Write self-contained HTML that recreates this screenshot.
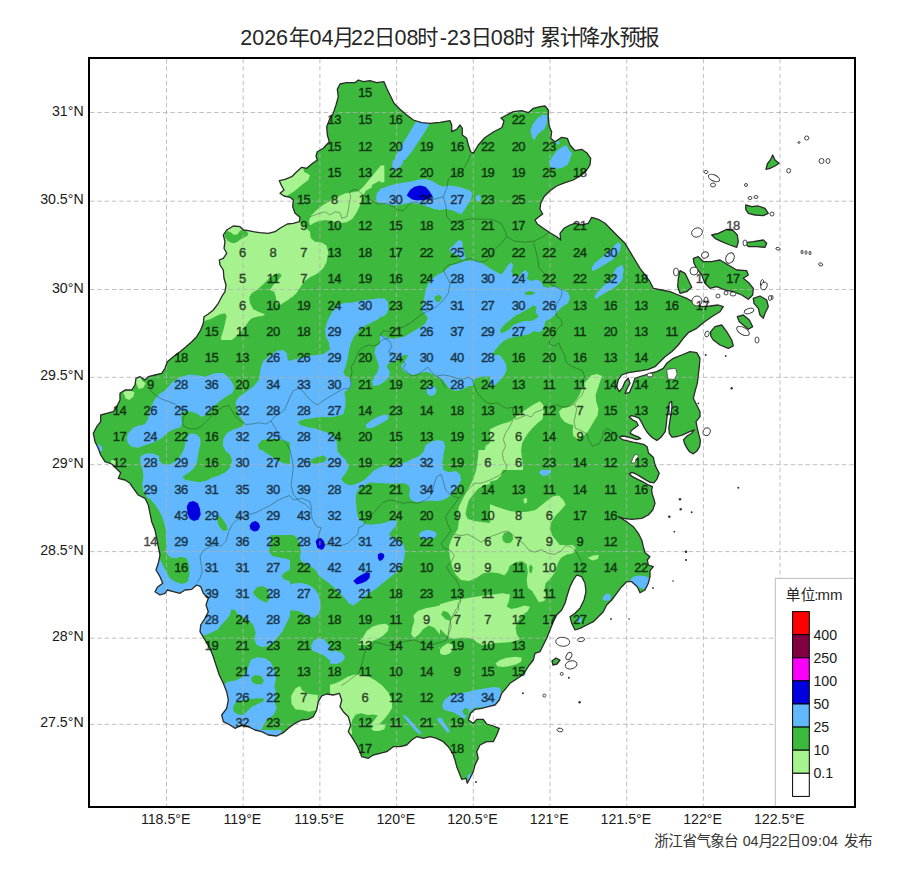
<!DOCTYPE html><html><head><meta charset="utf-8"><title>map</title><style>
html,body{margin:0;padding:0;background:#fff}body{width:900px;height:877px;overflow:hidden;font-family:"Liberation Sans",sans-serif}svg{display:block}text{font-family:"Liberation Sans",sans-serif}
.n{font-size:13.0px;fill:#000;stroke:#000;stroke-width:0.4px;letter-spacing:-0.6px;text-anchor:middle}
.t{font-size:14.2px;fill:#1a1a1a}
text.c{font-family:"Liberation Sans","Noto Sans CJK SC",sans-serif}
</style></head><body>
<svg width="900" height="877" viewBox="0 0 900 877">
<rect width="900" height="877" fill="#fff"/>
<defs><clipPath id="land"><path d="M337.3 89.3 L340.0 84.0 L346.7 82.7 L355.0 82.7 L358.3 80.0 L363.3 81.7 L370.0 80.7 L376.7 82.7 L384.0 81.7 L386.7 88.3 L390.0 95.0 L394.0 103.3 L400.0 109.3 L406.7 115.0 L413.3 120.0 L421.7 122.7 L430.0 123.3 L440.0 122.3 L450.0 120.7 L451.7 125.0 L451.7 131.7 L456.7 129.3 L460.0 125.0 L462.3 128.3 L462.3 135.0 L466.7 138.3 L468.3 145.0 L470.7 151.7 L473.3 153.3 L478.3 145.0 L485.0 137.5 L493.3 132.0 L502.0 127.5 L504.0 121.0 L501.0 118.0 L506.7 115.0 L513.3 111.7 L521.7 110.7 L528.3 112.7 L533.3 108.3 L540.0 106.7 L545.0 106.0 L548.3 110.0 L548.3 118.3 L549.3 126.7 L551.7 131.7 L550.7 138.3 L555.0 141.7 L561.7 137.3 L567.3 138.3 L570.0 145.0 L575.0 150.7 L581.7 149.3 L586.7 152.7 L590.7 158.3 L590.0 165.0 L586.7 170.0 L581.7 175.0 L573.3 180.0 L565.0 182.7 L556.7 186.0 L550.0 190.7 L544.0 196.7 L540.7 203.3 L540.0 209.3 L542.7 214.0 L538.3 217.3 L535.0 220.0 L537.3 224.0 L543.3 228.3 L550.0 232.7 L556.7 236.7 L560.7 240.0 L560.0 233.3 L564.0 228.3 L570.0 225.0 L575.0 223.3 L581.7 225.0 L588.3 223.3 L591.7 217.3 L598.3 219.3 L605.0 223.3 L611.7 230.0 L618.3 236.7 L625.0 243.3 L630.0 251.7 L635.0 260.0 L640.0 268.3 L645.0 275.0 L650.0 281.7 L653.3 288.3 L661.7 290.0 L670.0 291.7 L678.3 295.0 L686.7 298.3 L695.0 303.3 L701.7 306.7 L710.0 306.0 L718.3 305.0 L723.3 306.7 L720.0 311.7 L711.7 316.7 L703.3 322.7 L696.7 328.3 L688.3 332.7 L683.3 338.3 L678.3 345.0 L671.7 351.7 L665.0 356.7 L660.0 361.7 L655.0 366.7 L648.3 369.3 L641.7 370.7 L635.0 371.7 L628.3 372.7 L621.7 375.0 L618.3 380.0 L616.7 386.7 L619.3 391.7 L622.7 387.3 L625.0 381.7 L628.3 378.3 L630.0 383.3 L626.7 389.3 L625.0 393.3 L629.3 392.7 L632.7 385.0 L635.0 378.3 L641.7 376.0 L648.3 374.0 L656.7 371.7 L663.3 368.3 L666.7 363.3 L673.3 358.3 L681.7 355.0 L690.0 351.7 L696.7 352.7 L700.0 358.3 L699.3 366.7 L698.3 375.0 L697.3 383.3 L695.0 391.7 L693.3 398.3 L696.7 405.0 L700.0 411.7 L700.0 416.7 L696.0 421.7 L697.3 428.3 L698.7 434.2 L700.4 440.4 L699.6 446.7 L696.9 451.1 L693.3 453.8 L689.8 452.0 L687.1 448.4 L684.4 443.1 L683.6 439.6 L687.1 436.0 L691.6 433.3 L694.2 429.8 L688.0 432.4 L682.7 434.8 L677.3 436.5 L672.0 437.2 L669.3 433.3 L668.8 428.0 L669.9 420.9 L671.1 413.8 L672.0 406.7 L671.6 401.3 L669.3 403.1 L668.1 410.2 L667.0 417.3 L666.3 424.4 L665.2 431.6 L661.3 436.9 L656.9 440.4 L652.4 437.8 L648.0 433.3 L644.4 428.0 L641.8 422.7 L639.1 418.2 L634.7 416.4 L631.1 415.6 L629.3 417.0 L632.9 420.0 L636.4 421.8 L638.2 425.3 L634.7 428.0 L631.1 430.7 L630.2 433.3 L633.8 435.1 L638.2 436.9 L640.9 438.7 L636.4 439.6 L631.1 437.8 L625.8 436.5 L621.3 436.0 L619.6 437.2 L622.2 439.6 L627.6 440.8 L632.9 442.2 L638.2 443.1 L643.6 444.4 L647.1 446.7 L648.5 452.9 L653.3 457.3 L655.1 465.3 L659.2 473.3 L656.9 479.2 L653.9 482.8 L649.8 482.2 L645.3 479.6 L640.9 476.9 L636.4 474.2 L632.0 472.4 L629.3 473.9 L632.9 476.9 L638.2 479.6 L643.6 482.2 L648.0 484.9 L652.4 486.7 L651.6 490.2 L652.4 494.7 L654.2 500.0 L655.0 503.3 L652.7 510.0 L648.3 515.0 L641.7 518.3 L631.7 519.3 L623.3 518.3 L618.3 516.7 L626.7 521.7 L633.3 526.7 L638.3 533.3 L641.7 540.0 L643.3 546.7 L645.0 552.7 L650.0 556.7 L647.3 560.0 L648.3 565.0 L653.3 566.7 L650.0 570.7 L650.0 576.7 L648.3 583.3 L645.0 590.0 L640.0 592.7 L637.3 586.7 L631.7 581.7 L626.7 581.7 L621.7 586.7 L616.7 593.3 L611.7 600.0 L606.7 605.0 L603.3 611.7 L598.3 616.7 L593.3 621.7 L586.7 625.0 L580.0 628.3 L575.0 630.0 L571.7 623.3 L570.0 616.7 L575.0 613.3 L580.0 608.3 L584.0 600.0 L586.0 591.7 L585.0 583.3 L581.7 576.7 L576.7 575.0 L573.3 580.0 L570.0 586.7 L567.3 595.0 L565.0 603.3 L561.7 610.0 L556.7 615.0 L553.3 621.7 L550.0 630.0 L546.7 638.3 L543.3 645.0 L540.0 651.7 L535.0 653.3 L533.3 660.0 L529.3 665.0 L525.0 671.7 L520.0 676.7 L515.0 680.0 L510.0 683.3 L506.0 688.3 L501.7 693.3 L499.3 700.0 L495.0 705.0 L488.3 706.7 L481.7 708.3 L475.0 709.3 L470.7 713.3 L468.3 720.0 L473.3 723.3 L476.7 719.3 L483.3 719.3 L486.7 724.0 L493.3 726.0 L499.3 728.3 L496.7 735.0 L493.3 741.7 L486.7 741.7 L480.0 745.0 L476.7 751.7 L478.3 758.3 L475.0 765.0 L473.3 771.7 L470.0 778.3 L467.3 783.3 L466.0 778.3 L461.7 779.3 L459.3 773.3 L456.7 766.7 L455.0 760.0 L452.7 753.3 L448.3 746.7 L443.3 741.7 L436.7 738.3 L430.0 736.7 L423.3 738.3 L416.7 736.7 L411.7 740.0 L406.7 745.0 L400.0 746.7 L393.3 746.7 L386.7 751.7 L380.0 753.3 L373.3 755.0 L368.3 758.3 L361.7 756.7 L360.0 751.7 L356.7 745.0 L352.7 738.3 L348.3 731.7 L350.7 725.0 L348.3 716.7 L343.3 711.7 L340.0 706.7 L341.7 700.0 L339.3 693.3 L333.3 695.0 L326.7 694.0 L321.7 696.0 L318.3 701.7 L316.7 710.0 L313.3 716.7 L308.3 719.3 L301.7 720.0 L295.0 723.3 L288.3 728.3 L283.3 732.7 L276.7 736.0 L268.3 735.0 L261.7 731.7 L255.0 730.0 L248.3 726.7 L241.7 725.0 L235.0 728.3 L230.0 725.0 L223.3 721.7 L221.7 715.0 L226.7 708.3 L228.3 700.0 L226.7 691.7 L223.3 683.3 L219.3 675.0 L216.0 665.0 L213.3 656.7 L210.0 648.3 L205.0 640.0 L200.0 631.7 L200.7 625.0 L205.0 618.3 L208.3 611.7 L206.0 605.0 L208.3 598.3 L203.3 593.3 L200.7 586.7 L196.7 585.0 L191.7 589.3 L185.0 590.0 L180.0 593.3 L173.3 591.7 L167.3 590.0 L165.0 593.3 L160.0 595.0 L155.0 591.7 L157.3 587.3 L162.7 583.3 L160.0 576.7 L156.0 570.0 L158.3 563.3 L160.0 555.0 L158.3 546.7 L156.7 538.3 L155.0 530.0 L151.7 521.7 L150.0 513.3 L148.3 505.0 L145.0 498.3 L138.3 495.0 L133.3 488.3 L130.0 483.3 L125.0 480.0 L118.3 478.3 L120.7 472.7 L116.0 468.3 L111.7 464.0 L105.0 461.7 L100.7 455.0 L98.3 448.3 L95.0 441.7 L93.3 433.3 L96.7 426.7 L100.7 421.7 L100.7 415.0 L106.7 413.3 L113.3 411.7 L116.7 406.7 L120.0 400.0 L120.0 393.3 L125.0 390.0 L131.7 390.0 L135.0 385.0 L136.0 378.3 L140.0 376.7 L145.0 380.0 L148.3 376.7 L155.0 375.0 L161.7 373.3 L165.0 368.3 L167.3 361.7 L173.3 356.7 L180.0 351.7 L186.0 346.7 L191.7 341.7 L196.7 336.7 L200.7 330.0 L203.3 323.3 L204.0 316.7 L208.3 314.0 L213.3 310.0 L218.3 303.3 L221.7 296.7 L225.0 291.7 L226.0 285.0 L224.0 278.3 L223.3 270.0 L220.0 265.0 L219.3 260.0 L223.3 258.3 L226.7 253.3 L224.0 248.3 L225.0 241.7 L223.3 235.0 L226.7 230.0 L233.3 226.0 L240.0 226.7 L243.3 230.0 L248.3 230.7 L253.3 231.7 L260.0 232.7 L268.3 233.3 L275.0 231.7 L280.0 228.3 L287.3 224.0 L293.3 223.3 L299.3 221.7 L300.0 217.3 L295.0 213.3 L292.7 206.7 L293.3 200.0 L290.0 197.3 L284.0 196.0 L280.0 193.3 L284.0 190.0 L281.7 186.0 L279.3 180.7 L285.0 179.3 L291.7 176.7 L296.7 171.7 L301.7 167.3 L306.7 168.3 L313.0 163.0 L317.3 160.0 L316.0 156.0 L317.3 151.7 L323.3 148.3 L329.3 141.7 L327.3 135.0 L326.7 126.7 L330.0 118.3 L333.3 113.3 L336.0 105.0 L338.3 96.7Z M552.0 661.0 L556.0 658.0 L560.0 660.0 L557.0 664.0 L553.0 665.0Z M772.7 155.0 L775.0 160.0 L779.0 163.3 L775.0 166.0 L770.0 168.3 L766.0 169.3 L767.3 164.0 L770.7 159.3Z M745.7 205.0 L751.7 206.7 L758.3 206.0 L765.0 208.3 L768.3 213.3 L763.3 215.7 L755.0 215.0 L748.3 213.3 L745.7 209.3Z M711.7 235.0 L718.3 233.3 L726.7 229.3 L733.3 230.7 L737.3 235.0 L738.3 241.7 L736.7 247.3 L730.0 245.0 L721.7 241.7 L715.0 238.3Z M745.0 242.7 L753.3 241.7 L763.3 240.0 L766.7 243.3 L765.0 247.3 L756.7 246.7 L748.3 246.7Z M693.3 258.3 L698.3 256.7 L703.3 261.7 L711.7 261.7 L720.0 260.0 L728.3 265.0 L736.7 270.0 L746.7 270.7 L748.3 275.0 L743.3 278.3 L749.3 283.3 L753.3 288.3 L752.7 295.0 L748.3 299.3 L741.7 295.0 L733.3 291.7 L725.0 290.0 L716.7 286.7 L710.0 288.3 L705.0 283.3 L701.7 275.0 L696.7 268.3 L694.0 263.3Z M680.0 270.7 L685.0 273.3 L688.3 280.0 L691.7 287.3 L686.7 291.7 L680.0 293.3 L677.7 286.7 L678.3 278.3Z M753.3 298.3 L760.0 296.0 L766.7 300.0 L768.3 306.7 L765.0 313.3 L763.3 318.3 L760.0 315.0 L758.3 308.3 L754.0 303.3Z M737.3 316.7 L743.3 315.0 L749.3 320.0 L752.7 326.7 L748.3 329.3 L743.3 325.0 L739.3 321.7Z M710.7 331.7 L715.0 326.7 L721.7 325.0 L726.7 331.7 L731.7 340.0 L733.3 346.0 L728.3 348.3 L720.0 345.0 L713.3 340.0 L710.7 336.0Z"/></clipPath><clipPath id="frame"><rect x="90" y="59" width="764" height="747"/></clipPath></defs>
<g clip-path="url(#land)">
<rect x="80" y="60" width="720" height="740" fill="#3dba3d"/>
<path d="M82.0 70.0L84.0 70.0L86.0 70.0L88.0 70.0L90.0 70.0L92.0 70.0L94.0 70.0L96.0 70.0L98.0 70.0L100.0 70.0L102.0 70.0L104.0 70.0L106.0 70.0L108.0 70.0L110.0 70.0L112.0 70.0L114.0 70.0L116.0 70.0L118.0 70.0L119.1 70.0L120.0 70.9L122.0 70.9L123.1 72.0L124.0 72.9L125.1 74.0L126.0 74.9L127.1 76.0L128.0 76.9L130.0 76.9L131.1 78.0L132.0 78.9L133.1 80.0L134.0 80.9L136.0 80.9L137.1 82.0L138.0 82.9L139.1 84.0L140.0 84.9L142.0 84.9L143.1 86.0L144.0 86.9L145.1 88.0L146.0 88.9L148.0 88.9L149.1 90.0L150.0 90.9L151.1 92.0L152.0 92.9L153.1 94.0L154.0 94.9L156.0 94.9L157.1 96.0L158.0 96.9L159.1 98.0L160.0 98.9L162.0 98.9L163.1 100.0L164.0 100.9L165.1 102.0L166.0 102.9L166.9 104.0L168.0 105.1L168.9 106.0L170.0 107.1L170.9 108.0L172.0 109.1L172.9 110.0L172.9 112.0L174.0 113.1L174.9 114.0L176.0 115.1L176.9 116.0L178.0 117.1L178.9 118.0L180.0 119.1L180.9 120.0L182.0 121.1L182.9 122.0L184.0 123.1L184.9 124.0L186.0 125.1L186.9 126.0L186.9 128.0L188.0 129.1L188.9 130.0L190.0 131.1L190.9 132.0L192.0 133.1L192.9 134.0L194.0 135.1L194.9 136.0L196.0 137.1L196.9 138.0L198.0 139.1L198.9 140.0L198.9 142.0L200.0 143.1L200.9 144.0L202.0 145.1L202.9 146.0L204.0 147.1L204.9 148.0L206.0 149.1L206.9 150.0L208.0 151.1L208.9 152.0L210.0 153.1L210.9 154.0L210.9 156.0L212.0 157.1L212.9 158.0L214.0 159.1L214.9 160.0L216.0 161.1L216.9 162.0L218.0 163.1L218.9 164.0L220.0 165.1L220.9 166.0L222.0 167.1L222.9 168.0L224.0 169.1L224.9 170.0L224.9 172.0L226.0 173.1L226.9 174.0L228.0 175.1L228.9 176.0L230.0 177.1L230.9 178.0L232.0 179.1L232.9 180.0L234.0 181.1L234.9 182.0L236.0 183.1L236.9 184.0L236.9 186.0L238.0 187.1L238.9 188.0L240.0 189.1L240.9 190.0L242.0 191.1L242.9 192.0L244.0 193.1L244.9 194.0L246.0 195.1L246.9 196.0L248.0 197.1L248.9 198.0L248.9 200.0L250.0 201.1L250.9 202.0L252.0 203.1L252.9 204.0L254.0 205.1L254.9 206.0L256.0 207.1L256.9 208.0L258.0 209.1L258.9 210.0L260.0 211.4L262.0 211.4L262.6 212.0L264.0 213.4L264.6 214.0L265.0 216.0L264.0 216.9L262.9 218.0L263.4 220.0L264.0 220.9L264.8 220.0L266.0 218.2L266.2 218.0L267.7 216.0L268.0 215.6L269.4 214.0L270.0 213.1L271.0 212.0L272.0 210.5L272.6 210.0L273.9 208.0L274.0 207.9L275.7 206.0L276.0 205.6L277.5 204.0L278.0 203.3L279.4 202.0L280.0 201.1L281.5 200.0L282.0 199.3L282.5 200.0L282.1 202.0L282.0 202.2L281.1 204.0L280.2 206.0L280.0 206.5L279.2 208.0L278.2 210.0L278.0 210.4L277.1 212.0L276.1 214.0L276.0 214.1L275.0 216.0L274.0 217.8L273.9 218.0L272.8 220.0L272.0 221.6L271.8 222.0L270.9 224.0L270.0 225.9L269.9 226.0L269.2 228.0L268.5 230.0L268.1 232.0L268.1 234.0L270.0 235.4L272.0 235.6L274.0 235.5L276.0 235.2L278.0 234.8L280.0 234.2L280.5 234.0L282.0 233.5L284.0 232.5L284.9 232.0L286.0 231.4L288.0 230.2L288.2 230.0L290.0 228.8L291.2 228.0L292.0 227.4L294.0 226.1L294.1 226.0L296.0 224.8L297.5 224.0L298.0 223.7L300.0 222.7L301.9 222.0L302.0 222.0L304.0 221.5L306.0 221.2L308.0 221.0L310.0 220.9L312.0 220.8L314.0 220.7L316.0 220.5L318.0 220.2L318.7 220.0L320.0 219.6L322.0 218.2L322.2 218.0L322.8 216.0L322.8 214.0L322.6 212.0L322.4 210.0L322.3 208.0L322.4 206.0L322.8 204.0L323.6 202.0L324.0 201.4L324.9 200.0L326.0 198.8L326.8 198.0L328.0 196.9L329.0 196.0L330.0 195.2L331.6 194.0L332.0 193.7L334.0 192.5L335.0 192.0L336.0 191.5L338.0 190.7L340.0 190.1L340.6 190.0L342.0 189.7L344.0 189.5L346.0 189.5L348.0 189.6L350.0 189.9L350.3 190.0L352.0 190.4L354.0 191.1L355.6 192.0L356.0 192.2L358.0 193.8L358.2 194.0L360.0 195.9L360.1 196.0L361.5 198.0L362.0 198.8L362.7 200.0L363.5 202.0L364.0 203.8L364.1 204.0L364.5 206.0L364.8 208.0L365.0 210.0L364.9 212.0L364.7 214.0L364.1 216.0L364.0 216.2L362.9 218.0L362.0 219.0L360.7 220.0L360.0 220.4L358.0 221.3L356.4 222.0L356.0 222.1L354.0 222.8L352.0 223.5L350.6 224.0L350.0 224.2L348.0 224.9L346.0 225.5L344.3 226.0L344.0 226.1L342.0 226.7L340.0 227.1L338.0 227.5L336.0 227.7L334.0 227.8L332.0 228.0L331.7 228.0L330.0 228.2L328.0 228.7L326.0 229.6L325.3 230.0L324.0 230.9L322.9 232.0L322.0 233.1L321.4 234.0L320.5 236.0L320.0 238.0L320.0 239.9L320.0 240.0L320.0 240.0L320.3 242.0L320.6 244.0L321.0 246.0L321.4 248.0L321.9 250.0L322.0 250.5L322.3 252.0L322.6 254.0L322.9 256.0L323.4 258.0L324.0 260.0L324.0 260.1L324.5 262.0L324.9 264.0L325.4 266.0L325.9 268.0L326.0 268.7L326.2 270.0L326.2 272.0L326.0 273.7L326.0 274.0L325.3 276.0L324.2 278.0L324.0 278.2L322.5 280.0L322.0 280.4L320.0 281.9L319.9 282.0L318.0 283.1L316.5 284.0L316.0 284.2L314.0 285.2L312.1 286.0L312.0 286.0L310.0 286.8L308.0 287.5L306.8 288.0L306.0 288.3L304.0 289.0L302.0 289.9L301.8 290.0L300.0 290.8L298.0 291.8L297.7 292.0L296.0 292.9L294.0 294.0L293.9 294.0L292.0 295.0L290.3 296.0L290.0 296.1L288.0 297.2L286.6 298.0L286.0 298.4L284.0 299.5L283.2 300.0L282.0 300.7L280.1 302.0L280.0 302.1L278.0 303.3L277.2 304.0L276.0 304.9L274.9 306.0L274.0 306.9L272.8 308.0L272.0 308.5L270.0 309.7L269.4 310.0L268.0 310.6L266.0 311.4L264.3 312.0L264.0 312.1L262.0 312.7L260.0 313.3L258.0 313.9L257.6 314.0L256.0 314.5L254.0 315.3L252.8 316.0L252.0 316.6L250.6 318.0L250.0 318.7L248.9 320.0L248.0 321.1L247.1 322.0L246.0 323.3L245.2 324.0L244.0 325.2L243.0 326.0L242.0 326.9L240.1 328.0L240.0 328.0L238.0 328.6L236.0 328.5L234.7 328.0L234.0 327.7L232.0 326.4L231.6 326.0L230.0 324.6L229.5 324.0L228.3 322.0L228.0 321.2L227.7 320.0L226.9 318.0L226.0 316.3L225.8 316.0L225.4 314.0L225.4 312.0L225.6 310.0L225.9 308.0L226.0 307.4L226.3 306.0L226.8 304.0L227.2 302.0L227.6 300.0L228.0 298.7L228.2 298.0L228.3 296.0L228.0 294.1L226.4 296.0L226.0 296.2L224.4 298.0L224.0 298.4L222.5 300.0L222.0 300.5L220.6 302.0L220.0 302.7L218.8 304.0L218.0 304.8L216.9 306.0L216.0 307.0L215.1 308.0L214.0 309.1L213.2 310.0L212.0 311.3L211.2 312.0L210.0 313.3L209.2 314.0L208.0 315.2L207.4 316.0L206.0 317.3L205.5 318.0L204.0 319.6L203.7 320.0L202.1 322.0L202.0 322.1L200.7 324.0L200.0 324.8L199.2 326.0L198.0 327.4L197.6 328.0L196.0 330.0L196.0 330.1L194.7 332.0L194.0 332.8L193.2 334.0L192.0 335.5L191.6 336.0L190.1 338.0L190.0 338.1L188.7 340.0L188.0 340.9L187.2 342.0L186.0 343.5L185.7 344.0L184.1 346.0L184.0 346.2L182.7 348.0L182.0 348.9L181.2 350.0L180.0 351.5L179.6 352.0L178.1 354.0L178.0 354.1L176.6 356.0L176.0 356.8L175.1 358.0L174.0 359.4L173.6 360.0L172.0 362.0L172.0 362.0L170.5 364.0L170.0 364.6L168.9 366.0L168.0 367.2L167.4 368.0L166.0 369.8L165.8 370.0L164.2 372.0L164.0 372.3L162.7 374.0L162.0 374.8L161.0 376.0L160.0 377.3L159.4 378.0L158.0 379.7L157.7 380.0L156.0 382.0L156.0 382.1L154.3 384.0L154.0 384.4L152.5 386.0L152.0 386.4L150.3 388.0L150.0 388.3L148.1 390.0L148.0 390.1L146.0 391.8L145.6 392.0L144.0 393.1L142.2 394.0L142.0 394.1L141.0 394.0L140.5 392.0L141.3 390.0L142.0 388.6L142.3 388.0L143.5 386.0L144.0 385.2L144.8 384.0L146.0 382.0L146.0 382.0L147.3 380.0L148.0 379.0L148.7 378.0L150.0 376.2L150.1 376.0L151.3 374.0L152.0 373.1L152.7 372.0L154.0 370.3L154.2 370.0L155.5 368.0L156.0 367.2L156.7 366.0L156.0 365.2L155.2 366.0L154.0 366.9L152.9 368.0L152.0 368.7L150.7 370.0L151.1 372.0L150.0 372.9L148.9 374.0L148.0 374.7L146.7 376.0L146.0 376.6L144.6 378.0L144.8 380.0L144.0 380.7L142.7 382.0L142.0 382.6L140.6 384.0L140.0 384.6L138.6 386.0L138.7 388.0L138.0 388.6L136.6 390.0L136.0 390.5L134.5 392.0L134.6 394.0L134.0 394.6L132.0 394.4L131.6 394.0L130.0 392.4L129.6 392.0L129.6 390.0L128.0 388.4L127.6 388.0L126.0 386.4L125.6 386.0L124.0 384.4L123.6 384.0L122.0 382.4L121.6 382.0L120.0 380.4L119.6 380.0L118.0 378.4L117.6 378.0L117.6 376.0L116.0 374.4L115.6 374.0L114.0 372.4L113.6 372.0L112.0 370.4L111.6 370.0L110.0 368.4L109.6 368.0L108.0 366.4L107.6 366.0L106.0 364.4L105.6 364.0L105.6 362.0L104.0 360.4L103.6 360.0L102.0 358.4L101.6 358.0L100.0 356.4L99.6 356.0L98.0 354.4L97.6 354.0L96.0 352.4L95.6 352.0L94.0 350.4L93.6 350.0L93.6 348.0L92.0 346.4L91.6 346.0L90.0 344.4L89.6 344.0L88.0 342.4L87.6 342.0L86.0 340.4L85.6 340.0L84.0 338.4L83.6 338.0L82.0 336.4L81.6 336.0L81.6 334.0L80.0 332.4L80.0 332.0L80.0 330.0L80.0 328.0L80.0 326.0L80.0 324.0L80.0 322.0L80.0 320.0L80.0 318.0L80.0 316.0L80.0 314.0L80.0 312.0L80.0 310.0L80.0 308.0L80.0 306.0L80.0 304.0L80.0 302.0L80.0 300.0L80.0 298.0L80.0 296.0L80.0 294.0L80.0 292.0L80.0 290.0L80.0 288.0L80.0 286.0L80.0 284.0L80.0 282.0L80.0 280.0L80.0 278.0L80.0 276.0L80.0 274.0L80.0 272.0L80.0 271.8L80.2 272.0L80.2 274.0L82.0 275.8L82.2 276.0L84.0 277.8L84.2 278.0L86.0 279.8L86.2 280.0L88.0 281.8L88.2 282.0L90.0 283.8L90.2 284.0L92.0 285.8L92.2 286.0L92.2 288.0L94.0 289.8L94.2 290.0L96.0 291.8L96.2 292.0L98.0 293.8L98.2 294.0L100.0 295.8L100.2 296.0L102.0 297.8L102.2 298.0L104.0 299.8L104.2 300.0L104.2 302.0L106.0 303.8L106.2 304.0L108.0 305.8L108.2 306.0L110.0 307.8L110.2 308.0L112.0 309.8L112.2 310.0L114.0 311.8L114.2 312.0L116.0 313.8L116.2 314.0L116.2 316.0L118.0 317.8L118.2 318.0L120.0 319.8L120.2 320.0L122.0 321.8L122.2 322.0L124.0 323.8L124.2 324.0L126.0 325.8L126.2 326.0L128.0 327.8L128.2 328.0L128.2 330.0L130.0 331.8L130.2 332.0L132.0 333.8L132.2 334.0L134.0 335.8L134.2 336.0L136.0 337.8L136.2 338.0L138.0 339.8L138.2 340.0L140.0 341.8L140.2 342.0L140.2 344.0L142.0 345.8L142.2 346.0L144.0 347.8L144.2 348.0L146.0 349.8L146.2 350.0L148.0 351.8L148.2 352.0L150.0 353.8L150.2 354.0L152.0 355.8L152.2 356.0L152.2 358.0L154.0 359.8L154.2 360.0L156.0 361.8L156.8 362.0L157.7 364.0L158.0 364.3L158.2 364.0L159.6 362.0L160.0 361.5L160.9 360.0L162.0 358.4L162.2 358.0L163.9 356.0L164.0 355.6L165.2 354.0L166.0 352.8L166.5 352.0L168.0 350.0L168.0 349.8L169.2 348.0L170.0 347.1L170.8 346.0L172.0 344.3L172.2 344.0L173.9 342.0L174.0 341.4L175.0 340.0L176.0 338.8L176.6 338.0L178.0 336.0L178.0 336.0L179.8 334.0L180.0 333.1L180.8 332.0L182.0 330.5L182.4 330.0L183.9 328.0L184.0 327.9L185.6 326.0L186.0 324.9L186.7 324.0L188.0 322.4L188.3 322.0L189.8 320.0L190.0 319.8L191.6 318.0L192.0 316.8L192.6 316.0L194.0 314.2L194.2 314.0L195.8 312.0L196.0 311.8L197.5 310.0L198.0 308.7L198.5 308.0L200.0 306.1L200.1 306.0L201.7 304.0L202.0 303.2L202.8 302.0L204.0 300.6L204.5 300.0L206.0 298.1L206.0 298.0L207.7 296.0L208.0 295.1L208.8 294.0L208.0 293.6L207.5 294.0L206.0 294.9L205.1 294.0L204.0 293.0L203.0 292.0L202.0 291.0L200.0 291.0L199.0 290.0L198.0 289.0L196.0 289.0L195.0 288.0L194.0 287.0L192.0 287.0L191.0 286.0L190.0 285.0L189.0 284.0L188.0 283.0L186.0 283.0L185.0 282.0L184.0 281.0L182.0 281.0L181.0 280.0L180.0 279.0L178.0 279.0L177.0 278.0L176.0 277.0L175.0 276.0L174.0 275.0L172.0 275.0L171.0 274.0L170.0 273.0L168.0 273.0L167.0 272.0L166.0 271.0L165.0 270.0L164.0 269.0L162.0 269.0L161.0 268.0L160.0 266.9L158.0 266.9L157.1 266.0L156.0 264.9L154.0 264.9L152.0 264.9L151.1 264.0L150.0 262.9L148.0 262.9L146.0 262.9L145.1 262.0L144.0 260.9L142.0 260.9L141.1 260.0L140.0 258.9L138.0 258.9L136.0 258.9L135.1 258.0L134.0 256.9L132.0 256.9L131.1 256.0L130.0 254.9L128.0 254.9L126.0 254.9L125.1 254.0L124.0 252.9L122.0 252.9L120.0 252.9L119.1 252.0L118.0 250.9L116.0 250.7L115.3 250.0L114.0 248.7L112.0 248.7L111.3 248.0L110.0 246.7L108.0 246.7L107.3 246.0L106.0 244.7L105.3 244.0L104.0 242.7L102.0 242.7L101.3 242.0L100.0 240.7L98.0 240.7L97.3 240.0L96.0 238.7L94.0 238.7L93.3 238.0L92.0 236.7L91.3 236.0L90.0 234.7L88.0 234.7L87.3 234.0L86.0 232.7L84.0 232.7L83.3 232.0L82.0 230.7L81.3 230.0L80.0 228.7L80.0 228.0L80.0 226.0L80.0 224.0L80.0 222.0L80.0 220.0L80.0 218.0L80.0 216.0L80.0 214.0L80.0 212.0L80.0 210.0L80.0 208.0L80.0 206.0L80.0 204.0L80.0 202.0L80.0 200.0L80.0 198.0L80.0 196.0L80.0 194.0L80.0 192.0L80.0 190.0L80.0 188.0L80.0 186.0L80.0 184.0L80.0 182.0L80.0 180.0L80.0 178.0L80.0 176.0L80.0 174.0L80.0 172.0L80.0 170.0L80.0 168.0L80.0 166.0L80.0 164.0L80.0 162.0L80.0 160.0L80.0 158.0L80.0 156.0L80.0 154.0L80.0 152.0L80.0 150.0L80.0 148.0L80.0 146.0L80.0 144.0L80.0 142.0L80.0 140.0L80.0 138.0L80.0 136.0L80.0 134.0L80.0 132.0L80.0 130.0L80.0 128.0L80.0 126.0L80.0 124.0L80.0 122.0L80.0 120.0L80.0 118.0L80.0 116.0L80.0 114.0L80.0 112.0L80.0 110.0L80.0 108.0L80.0 106.0L80.0 104.0L80.0 102.0L80.0 100.0L80.0 98.0L80.0 96.0L80.0 94.0L80.0 92.0L80.0 90.0L80.0 88.0L80.0 86.0L80.0 84.0L80.0 82.0L80.0 80.0L80.0 78.0L80.0 76.0L80.0 74.0L80.0 72.0L80.0 70.0ZM261.1 222.0L260.0 223.0L259.3 224.0L260.0 226.0L260.0 226.0L260.0 226.0L261.6 224.0L262.0 223.5L263.2 222.0L262.0 221.1ZM257.7 228.0L258.0 228.7L258.6 228.0L258.0 227.7ZM255.5 230.0L256.0 231.3L257.1 230.0L256.0 229.5ZM253.3 232.0L254.0 233.9L255.5 232.0L254.0 231.3ZM251.7 236.0L252.0 236.7L252.5 236.0L252.0 235.7ZM249.5 238.0L250.0 239.2L251.0 238.0L250.0 237.5ZM247.3 240.0L248.0 241.9L249.4 240.0L248.0 239.3ZM245.7 244.0L246.0 244.6L246.5 244.0L246.0 243.7ZM243.5 246.0L244.0 247.2L244.9 246.0L244.0 245.5ZM241.4 248.0L242.0 249.8L243.3 248.0L242.0 247.4ZM239.7 252.0L240.0 252.6L240.5 252.0L240.0 251.7ZM237.5 254.0L238.0 255.1L238.9 254.0L238.0 253.5ZM235.4 256.0L236.0 257.8L237.2 256.0L236.0 255.4ZM233.7 260.0L234.0 260.5L234.4 260.0L234.0 259.7ZM231.5 262.0L232.0 263.1L232.8 262.0L232.0 261.5ZM229.4 264.0L230.0 265.8L231.2 264.0L230.0 263.4ZM227.8 268.0L228.0 268.5L228.4 268.0L228.0 267.7ZM225.6 270.0L226.0 271.1L226.8 270.0L226.0 269.6ZM269.6 272.0L268.0 273.5L267.6 274.0L266.1 276.0L266.0 276.1L265.1 278.0L264.6 280.0L264.7 282.0L265.6 284.0L266.0 284.6L267.0 286.0L268.0 287.2L268.7 288.0L270.0 289.5L270.5 290.0L272.0 291.6L272.5 292.0L274.0 293.4L275.2 294.0L276.0 294.5L277.8 294.0L278.0 293.9L280.0 292.0L280.0 292.0L281.4 290.0L282.0 289.1L282.6 288.0L283.5 286.0L284.0 284.3L284.1 284.0L284.0 282.0L284.0 281.9L283.4 280.0L282.3 278.0L282.0 277.5L281.0 276.0L280.0 274.6L279.5 274.0L278.0 272.3L277.6 272.0L276.0 270.8L274.0 270.1L272.0 270.5L270.0 271.6ZM221.7 276.0L222.0 276.5L222.4 276.0L222.0 275.7ZM219.6 278.0L220.0 279.1L220.8 278.0L220.0 277.6ZM215.7 284.0L216.0 284.6L216.4 284.0L216.0 283.7ZM213.6 286.0L214.0 287.1L214.8 286.0L214.0 285.6ZM209.7 292.0L210.0 292.6L210.4 292.0L210.0 291.7ZM562.0 390.0L564.0 389.9L566.0 389.9L568.0 390.0L570.0 390.0L570.2 390.0L572.0 390.0L574.0 390.1L576.0 390.1L578.0 390.1L580.0 390.1L582.0 390.3L584.0 390.8L586.0 391.6L586.7 392.0L588.0 392.8L589.6 394.0L590.0 394.3L591.6 396.0L592.0 396.4L593.2 398.0L594.0 399.3L594.4 400.0L595.1 402.0L595.2 404.0L595.0 406.0L594.7 408.0L594.3 410.0L594.0 411.2L593.8 412.0L593.2 414.0L592.5 416.0L592.0 417.3L591.7 418.0L590.7 420.0L590.0 421.3L589.7 422.0L589.3 424.0L589.1 426.0L588.9 428.0L588.7 430.0L588.3 432.0L588.0 433.1L587.7 434.0L587.0 436.0L586.1 438.0L586.0 438.2L584.8 440.0L584.0 441.0L582.7 442.0L582.0 442.5L580.0 443.0L578.0 442.9L576.0 442.4L575.0 442.0L574.0 441.6L572.0 440.5L571.3 440.0L570.0 439.0L568.8 438.0L568.0 437.0L567.1 436.0L566.0 434.1L566.0 434.0L565.2 432.0L564.5 430.0L564.0 429.4L562.0 428.1L561.9 428.0L560.0 426.1L560.0 426.0L559.6 424.0L559.7 422.0L560.0 420.3L560.0 420.0L560.5 418.0L560.9 416.0L561.2 414.0L561.1 412.0L560.6 410.0L560.0 408.7L559.7 408.0L558.5 406.0L558.0 405.1L557.3 404.0L556.2 402.0L556.0 401.5L555.3 400.0L554.4 398.0L554.0 396.4L553.8 396.0L553.5 394.0L553.7 392.0L554.0 391.5L556.0 390.4L558.0 390.1L560.0 390.0L560.1 390.0ZM506.0 415.8L508.0 415.7L510.0 415.8L512.0 416.0L512.3 416.0L514.0 416.2L516.0 416.7L518.0 417.3L519.8 418.0L520.0 418.1L522.0 419.0L523.9 420.0L524.0 420.1L526.0 421.2L527.2 422.0L528.0 422.5L530.0 424.0L530.0 424.0L532.0 425.8L532.2 426.0L533.5 428.0L533.7 430.0L533.5 432.0L533.0 434.0L532.5 436.0L532.1 438.0L532.0 438.5L531.7 440.0L531.0 442.0L530.2 444.0L530.0 444.6L529.4 446.0L528.8 448.0L528.5 450.0L528.5 452.0L528.5 454.0L528.4 456.0L528.3 458.0L528.0 460.0L528.0 460.5L527.8 462.0L527.7 464.0L527.7 466.0L528.0 467.3L528.1 468.0L528.7 470.0L529.2 472.0L529.0 474.0L528.0 475.0L526.0 475.5L524.0 475.7L522.0 475.9L521.7 476.0L520.0 476.4L518.0 477.0L516.0 477.7L515.3 478.0L514.0 478.4L512.0 479.1L510.0 479.8L509.1 480.0L508.0 480.3L506.0 480.7L504.0 481.0L502.0 481.1L500.0 480.9L498.0 480.7L496.0 480.6L494.0 480.6L492.0 480.4L490.5 480.0L490.0 479.9L488.0 479.0L486.5 478.0L486.0 477.6L484.3 476.0L484.0 475.7L482.6 474.0L482.0 473.2L481.2 472.0L480.0 470.0L480.0 469.9L479.1 468.0L478.4 466.0L478.0 464.3L477.9 464.0L478.0 462.0L478.0 461.8L478.5 460.0L479.3 458.0L480.0 456.5L480.3 456.0L481.9 454.0L482.0 453.9L483.9 452.0L484.0 451.9L485.8 450.0L486.0 449.8L487.7 448.0L488.0 447.7L489.5 446.0L490.0 445.3L491.0 444.0L492.0 442.6L492.4 442.0L493.5 440.0L494.0 438.9L494.4 438.0L494.9 436.0L495.2 434.0L495.3 432.0L495.3 430.0L495.1 428.0L495.0 426.0L494.8 424.0L494.8 422.0L495.1 420.0L496.0 418.6L496.9 418.0L498.0 417.5L500.0 416.8L502.0 416.4L504.0 416.0L504.3 416.0ZM540.0 493.7L542.0 493.1L544.0 492.8L546.0 492.9L548.0 493.1L550.0 493.7L550.5 494.0L552.0 495.0L553.0 496.0L554.0 497.0L554.7 498.0L556.0 499.9L556.1 500.0L557.2 502.0L558.0 503.5L558.2 504.0L559.1 506.0L560.0 508.0L560.0 508.0L560.8 510.0L561.5 512.0L562.0 513.8L562.1 514.0L562.5 516.0L562.6 518.0L562.5 520.0L562.0 521.9L562.0 522.0L561.3 524.0L560.5 526.0L560.0 527.2L559.7 528.0L558.9 530.0L558.2 532.0L558.0 532.9L557.7 534.0L557.5 536.0L558.0 537.2L559.1 538.0L560.0 538.3L562.0 538.6L564.0 538.6L566.0 538.6L568.0 538.5L570.0 538.3L572.0 538.2L574.0 538.0L575.0 538.0L576.0 538.0L578.0 538.0L578.4 538.0L580.0 538.1L582.0 538.5L584.0 538.9L586.0 539.4L588.0 539.9L588.3 540.0L590.0 540.6L592.0 541.4L593.4 542.0L594.0 542.4L596.0 543.8L596.2 544.0L597.8 546.0L598.0 546.6L598.5 548.0L598.7 550.0L598.2 552.0L598.0 552.6L597.4 554.0L596.0 556.0L596.0 556.0L594.0 557.1L592.0 557.5L590.0 557.7L588.0 557.8L586.0 558.0L585.8 558.0L584.0 558.3L582.0 558.8L580.0 559.5L578.8 560.0L578.0 560.3L576.0 561.1L574.0 561.9L573.8 562.0L572.0 562.7L570.0 563.4L568.3 564.0L568.0 564.1L566.0 564.8L564.0 565.5L562.4 566.0L562.0 566.2L560.0 566.8L558.0 567.5L556.1 568.0L556.0 568.0L554.0 568.7L552.0 569.2L550.0 569.0L548.0 568.4L547.4 568.0L546.0 567.6L544.0 566.9L542.0 566.2L541.6 566.0L540.0 565.5L538.0 564.9L536.0 564.2L535.3 564.0L534.0 563.6L532.0 563.1L530.0 562.6L528.0 562.2L526.8 562.0L526.0 561.9L524.0 561.6L522.0 561.5L520.0 561.6L518.0 561.8L517.1 562.0L516.0 562.3L514.0 563.0L512.0 563.9L511.7 564.0L510.0 564.8L508.0 565.8L507.7 566.0L506.0 567.0L504.1 568.0L504.0 568.1L502.0 569.4L501.0 570.0L500.0 570.8L498.5 572.0L498.0 572.5L496.2 574.0L496.0 574.1L494.0 574.6L492.0 574.7L490.0 574.9L488.0 575.3L486.0 575.9L485.8 576.0L484.0 576.6L482.0 577.0L480.0 576.8L478.1 576.0L478.0 576.0L476.0 575.6L474.0 575.2L472.0 574.9L470.0 574.6L468.0 574.2L466.8 574.0L466.0 573.9L464.0 573.5L462.0 573.2L460.0 572.8L458.0 572.5L456.5 572.0L456.0 571.8L454.0 571.3L452.0 571.2L450.0 571.4L448.0 571.7L446.0 572.0L445.8 572.0L444.0 572.2L442.0 572.5L440.0 572.7L438.0 572.9L436.0 573.0L434.0 573.0L432.0 572.8L430.0 572.3L429.4 572.0L428.0 570.7L427.5 570.0L427.4 568.0L428.0 566.7L428.3 566.0L429.6 564.0L430.0 563.6L431.3 562.0L432.0 561.3L433.1 560.0L434.0 559.1L435.1 558.0L436.0 557.1L437.2 556.0L438.0 555.2L439.3 554.0L440.0 553.4L441.6 552.0L442.0 551.6L443.8 550.0L444.0 549.8L446.0 548.0L446.0 548.0L448.0 546.0L448.0 545.9L449.3 544.0L449.8 542.0L449.6 540.0L449.0 538.0L448.8 536.0L449.3 534.0L449.6 532.0L449.7 530.0L449.7 528.0L449.8 526.0L450.0 524.7L450.1 524.0L450.7 522.0L451.5 520.0L452.0 519.2L452.8 518.0L454.0 516.7L454.8 516.0L456.0 515.1L457.8 514.0L458.0 513.9L460.0 513.0L462.0 512.4L464.0 512.1L465.2 512.0L466.0 512.0L467.0 512.0L468.0 512.0L470.0 512.3L472.0 512.6L474.0 513.1L476.0 513.6L477.7 514.0L478.0 514.1L480.0 514.7L482.0 515.3L484.0 515.9L484.6 516.0L486.0 516.4L488.0 516.8L490.0 517.1L492.0 517.2L494.0 517.2L496.0 517.1L498.0 516.8L500.0 516.5L501.8 516.0L502.0 516.0L504.0 515.4L506.0 514.7L507.8 514.0L508.0 513.9L510.0 513.1L512.0 512.1L512.2 512.0L514.0 511.0L515.9 510.0L516.0 509.9L518.0 508.9L519.7 508.0L520.0 507.8L522.0 506.7L523.2 506.0L524.0 505.5L526.0 504.2L526.3 504.0L528.0 502.8L529.0 502.0L530.0 501.2L531.3 500.0L532.0 499.3L533.4 498.0L534.0 497.5L535.8 496.0L536.0 495.9L538.0 494.6L539.3 494.0ZM472.0 600.0L474.0 599.8L476.0 599.7L478.0 599.7L480.0 599.9L480.7 600.0L482.0 600.2L484.0 600.5L486.0 600.8L488.0 601.1L490.0 601.3L492.0 601.5L494.0 601.7L496.0 601.8L498.0 601.8L500.0 601.9L502.0 601.9L504.0 602.0L504.8 602.0L506.0 602.1L508.0 602.5L510.0 603.8L510.1 604.0L510.7 606.0L510.7 608.0L510.5 610.0L510.2 612.0L510.0 613.1L509.8 614.0L509.4 616.0L509.0 618.0L508.5 620.0L508.0 621.9L508.0 622.0L507.7 624.0L507.6 626.0L507.6 628.0L507.6 630.0L507.6 632.0L507.4 634.0L506.8 636.0L506.0 637.4L505.6 638.0L504.4 640.0L504.0 640.8L503.2 642.0L502.0 643.9L501.9 644.0L500.5 646.0L500.0 646.6L498.7 648.0L498.0 648.6L496.0 649.8L495.1 650.0L494.0 650.3L492.2 650.0L492.0 650.0L490.0 648.6L489.6 648.0L488.2 646.0L488.0 645.8L487.0 644.0L486.0 642.8L485.6 642.0L484.3 640.0L484.0 639.6L483.0 638.0L482.0 636.5L481.7 636.0L480.4 634.0L480.0 633.5L478.8 632.0L478.0 631.1L476.4 630.0L476.0 629.8L474.0 629.5L472.0 629.4L470.0 629.3L468.0 629.3L466.0 629.2L464.0 629.1L462.0 629.0L460.0 628.9L458.0 628.9L456.0 629.1L454.0 629.5L452.0 630.0L452.0 630.0L450.0 630.4L448.0 630.6L446.0 630.0L445.9 630.0L444.0 629.7L442.0 629.7L440.3 630.0L440.0 630.0L438.0 630.4L436.0 630.9L434.0 631.4L432.0 631.9L431.7 632.0L430.0 632.5L428.0 633.1L426.0 633.7L424.0 633.9L422.0 633.8L420.0 633.4L418.0 632.4L417.4 632.0L416.5 630.0L416.0 628.2L415.9 628.0L414.0 626.1L413.8 626.0L412.1 624.0L413.3 622.0L414.0 621.7L416.0 621.0L418.0 620.2L418.6 620.0L420.0 619.7L422.0 619.3L424.0 618.9L426.0 618.4L427.4 618.0L428.0 617.9L430.0 617.5L432.0 617.1L434.0 616.8L436.0 616.6L438.0 616.4L440.0 616.2L442.0 616.0L442.3 616.0L444.0 615.9L446.0 615.7L448.0 615.2L449.7 614.0L450.0 613.6L450.9 612.0L452.0 610.3L452.2 610.0L454.0 608.0L454.0 608.0L456.0 606.5L457.2 606.0L458.0 605.6L460.0 605.1L462.0 604.5L464.0 604.0L464.1 604.0L466.0 602.9L467.0 602.0L468.0 601.1L470.0 600.4L471.9 600.0ZM468.0 662.0L470.0 661.2L472.0 660.7L472.9 662.0L472.6 664.0L472.0 665.5L471.8 666.0L470.6 668.0L470.0 668.9L469.2 670.0L468.0 671.4L467.5 672.0L466.0 673.4L465.4 674.0L464.0 675.0L462.6 676.0L462.0 676.3L460.0 676.7L458.0 676.9L456.0 677.7L455.6 678.0L454.0 678.9L452.3 680.0L452.0 680.2L450.0 681.2L448.5 682.0L448.0 682.2L446.0 682.7L444.3 682.0L444.8 680.0L445.9 678.0L446.0 677.8L447.1 676.0L447.9 674.0L448.0 673.5L448.2 672.0L448.3 670.0L448.3 668.0L448.9 666.0L450.0 665.3L452.0 665.5L453.4 666.0L454.0 666.3L456.0 667.1L458.0 667.4L460.0 666.9L461.5 666.0L462.0 665.7L464.0 664.5L464.7 664.0L466.0 663.2L467.9 662.0ZM380.0 669.7L382.0 669.2L384.0 669.0L386.0 668.9L388.0 668.9L390.0 669.2L392.0 669.7L392.9 670.0L394.0 670.6L396.0 672.0L396.0 672.0L397.6 674.0L398.0 674.9L398.9 676.0L399.3 678.0L398.0 678.5L396.6 680.0L396.0 680.4L394.0 681.8L393.7 682.0L392.0 683.0L390.2 684.0L390.0 684.1L388.0 685.1L386.3 686.0L386.0 686.2L384.0 687.9L383.9 688.0L383.9 690.0L384.0 690.4L384.5 692.0L385.3 694.0L386.0 696.0L386.0 696.3L386.2 698.0L386.0 699.6L385.9 700.0L385.0 702.0L384.0 703.3L383.5 704.0L382.0 705.8L381.8 706.0L380.0 708.0L380.0 708.0L378.0 710.0L378.0 710.0L376.0 711.8L375.8 712.0L374.0 713.5L373.4 714.0L372.0 715.0L370.5 716.0L370.0 716.3L368.0 717.3L366.0 717.8L364.0 718.0L363.8 718.0L362.0 718.2L360.0 718.3L358.0 718.5L356.0 719.0L354.0 719.9L353.9 720.0L352.0 721.5L351.5 722.0L350.0 723.8L349.8 724.0L348.7 726.0L348.0 727.6L347.8 728.0L346.6 730.0L346.0 730.4L344.0 730.8L342.0 730.6L340.0 730.3L338.6 730.0L338.0 729.9L336.0 729.5L334.0 729.0L332.0 728.5L330.0 728.0L329.9 728.0L328.0 727.5L326.0 726.9L324.0 726.2L323.3 726.0L322.0 725.5L320.0 724.8L318.0 724.0L317.9 724.0L316.0 723.2L314.0 722.3L313.3 722.0L312.0 721.4L310.0 720.3L309.4 720.0L308.0 719.2L306.1 718.0L306.0 718.0L304.0 716.5L303.3 716.0L302.0 714.9L301.0 714.0L300.0 713.0L299.1 712.0L298.0 710.6L297.6 710.0L296.4 708.0L296.0 707.1L295.6 706.0L295.4 704.0L295.8 702.0L296.0 701.1L296.3 700.0L296.8 698.0L297.2 696.0L297.6 694.0L298.0 693.3L298.7 692.0L299.6 690.0L300.0 688.9L300.4 688.0L301.5 686.0L302.0 685.3L303.3 684.0L304.0 683.4L306.0 682.5L308.0 682.4L310.0 682.9L312.0 683.8L312.2 684.0L314.0 685.2L315.6 686.0L316.0 686.1L318.0 686.5L320.0 686.5L322.0 686.6L324.0 686.6L326.0 686.6L328.0 686.7L330.0 686.7L332.0 686.8L334.0 686.9L336.0 687.0L338.0 687.1L340.0 687.2L342.0 687.3L344.0 687.3L346.0 687.4L348.0 687.3L350.0 687.2L352.0 687.0L354.0 686.6L355.3 686.0L356.0 685.6L357.9 684.0L358.0 683.9L360.0 682.1L360.1 682.0L362.0 680.4L362.6 680.0L364.0 678.9L365.7 678.0L366.0 677.8L368.0 677.1L370.0 676.3L370.4 676.0L371.7 674.0L372.0 673.7L374.0 672.0L374.0 672.0L376.0 671.1L378.0 670.2L378.7 670.0ZM314.0 739.5L316.0 739.4L316.5 740.0L318.0 741.5L320.0 741.5L320.6 742.0L320.0 742.6L318.6 744.0L318.0 744.6L317.6 744.0L316.0 742.4L315.6 742.0L314.0 740.4L313.6 740.0Z" fill="#a6f28f" fill-rule="evenodd"/>
<path d="M548.0 175.3L550.0 174.7L552.0 174.8L554.0 175.9L554.1 176.0L555.9 178.0L556.0 178.2L556.8 180.0L557.5 182.0L557.7 184.0L556.9 186.0L556.0 186.9L554.9 188.0L554.0 188.9L553.2 190.0L552.0 191.5L551.7 192.0L550.2 194.0L550.0 194.3L548.6 196.0L548.0 196.7L546.8 198.0L546.0 198.7L544.6 200.0L544.0 200.5L542.0 201.9L541.9 202.0L540.0 203.2L538.5 204.0L538.0 204.3L536.0 205.2L534.0 206.0L533.9 206.0L532.0 206.4L530.0 206.4L528.0 206.1L527.6 206.0L526.0 205.3L524.0 204.5L522.9 204.0L522.0 203.3L520.0 202.0L519.9 202.0L518.8 200.0L519.6 198.0L520.0 197.7L521.2 196.0L522.0 195.2L523.0 194.0L524.0 193.1L525.0 192.0L526.0 191.0L527.1 190.0L528.0 189.2L529.4 188.0L530.0 187.5L531.8 186.0L532.0 185.9L534.0 184.4L534.5 184.0L536.0 183.0L537.3 182.0L538.0 181.6L540.0 180.2L540.3 180.0L542.0 179.0L543.6 178.0L544.0 177.7L546.0 176.6L547.2 176.0ZM398.0 181.8L400.0 181.6L402.0 181.8L404.0 181.6L406.0 180.9L408.0 180.9L410.0 181.2L412.0 181.7L412.8 182.0L414.0 182.4L416.0 183.1L418.0 184.0L418.1 184.0L420.0 184.9L422.0 185.8L422.5 186.0L424.0 186.7L426.0 187.4L428.0 187.8L429.0 188.0L430.0 188.2L432.0 188.4L434.0 188.4L436.0 188.5L438.0 188.7L440.0 189.4L441.3 190.0L442.0 190.3L444.0 190.9L446.0 191.1L448.0 191.3L450.0 191.5L452.0 191.8L453.6 192.0L454.0 192.1L456.0 192.3L458.0 192.6L460.0 192.9L462.0 193.3L463.9 194.0L464.0 194.0L466.0 195.7L466.3 196.0L468.0 197.8L468.2 198.0L469.8 200.0L470.0 200.4L470.9 202.0L471.7 204.0L472.0 205.3L472.2 206.0L472.4 208.0L472.3 210.0L472.0 211.7L472.0 212.0L471.2 214.0L470.0 215.3L469.0 216.0L468.0 216.4L466.0 217.1L464.0 217.5L462.0 217.8L460.0 217.8L458.0 217.6L456.0 217.2L454.0 216.9L452.0 216.5L450.0 216.1L449.4 216.0L448.0 215.8L446.0 215.7L444.6 216.0L444.0 216.1L442.0 216.0L442.0 216.0L440.0 215.4L438.0 214.7L436.2 214.0L436.0 213.9L434.0 213.0L432.0 212.2L431.4 212.0L430.0 211.5L428.0 211.2L426.0 211.1L424.0 211.2L422.0 211.3L420.0 211.4L418.0 211.3L416.0 210.8L414.0 210.5L412.0 210.7L410.0 211.0L408.0 211.3L406.0 211.7L404.0 211.9L403.0 212.0L402.0 212.1L400.6 212.0L400.0 212.0L398.0 211.6L396.0 210.9L394.3 210.0L394.0 209.8L392.0 208.2L391.8 208.0L390.0 206.2L389.9 206.0L388.4 204.0L388.0 203.3L387.4 202.0L386.9 200.0L386.9 198.0L387.2 196.0L387.9 194.0L388.0 193.7L388.8 192.0L389.8 190.0L390.0 189.7L391.1 188.0L392.0 186.7L392.6 186.0L394.0 184.4L394.5 184.0L396.0 182.7L397.6 182.0ZM660.0 189.2L660.8 190.0L660.0 190.9L659.2 190.0ZM662.0 191.2L662.8 192.0L662.0 192.9L661.1 192.0ZM602.0 231.9L602.4 232.0L604.0 232.5L606.0 233.1L608.0 233.7L609.2 234.0L610.0 234.2L612.0 234.7L614.0 235.1L616.0 235.5L618.0 235.9L618.5 236.0L620.0 236.2L622.0 236.5L624.0 236.8L626.0 237.0L628.0 237.3L630.0 237.5L632.0 237.8L633.7 238.0L634.0 238.0L636.0 238.3L638.0 238.7L640.0 239.0L642.0 239.4L644.0 239.7L645.3 240.0L646.0 240.2L648.0 240.7L650.0 241.2L652.0 241.7L652.8 242.0L654.0 242.4L656.0 243.2L657.9 244.0L658.0 244.2L659.1 246.0L658.0 247.4L657.6 248.0L656.0 249.3L655.2 250.0L654.0 250.8L652.3 252.0L652.0 252.2L650.0 253.4L649.1 254.0L648.0 254.7L646.0 256.0L646.0 256.0L644.0 257.3L643.1 258.0L642.0 258.8L640.4 260.0L640.0 260.4L638.0 262.0L638.0 262.0L636.0 263.8L635.8 264.0L634.0 265.7L633.7 266.0L632.0 267.9L631.9 268.0L630.2 270.0L630.0 270.3L629.3 272.0L629.2 274.0L629.3 276.0L629.4 278.0L629.4 280.0L629.2 282.0L628.6 284.0L628.0 285.4L627.7 286.0L626.5 288.0L626.0 288.6L624.5 290.0L624.0 290.4L622.0 291.3L620.0 291.7L618.0 291.8L616.0 291.9L614.0 291.8L612.0 291.7L610.0 291.5L608.0 291.3L606.0 291.2L604.0 291.0L602.0 290.6L600.0 290.1L599.7 290.0L598.0 289.1L596.5 288.0L596.0 287.5L594.6 286.0L594.0 285.4L592.8 284.0L592.0 283.0L591.2 282.0L590.0 280.3L589.8 280.0L588.6 278.0L588.0 277.0L587.4 276.0L586.4 274.0L586.0 273.0L585.5 272.0L584.8 270.0L584.2 268.0L584.0 267.2L583.6 266.0L583.2 264.0L583.0 262.0L582.9 260.0L583.1 258.0L583.7 256.0L584.0 255.4L584.7 254.0L585.5 252.0L586.0 251.2L586.7 250.0L588.0 248.2L588.1 248.0L589.9 246.0L590.0 245.9L592.0 244.3L592.3 244.0L594.0 242.7L594.7 242.0L596.0 240.3L596.2 240.0L597.4 238.0L598.0 236.9L598.5 236.0L599.5 234.0L600.0 233.1L601.7 232.0ZM450.0 253.8L452.0 253.5L454.0 253.5L456.0 253.7L457.2 254.0L458.0 254.2L460.0 255.0L462.0 255.8L462.3 256.0L464.0 256.7L466.0 257.6L466.9 258.0L468.0 258.5L470.0 259.3L471.5 260.0L472.0 260.2L474.0 261.1L476.0 261.9L476.3 262.0L478.0 262.7L480.0 263.5L481.4 264.0L482.0 264.2L484.0 264.9L486.0 265.7L486.9 266.0L488.0 266.4L490.0 267.1L492.0 268.0L492.0 268.0L494.0 268.9L496.0 269.9L496.1 270.0L498.0 271.0L499.8 272.0L500.0 272.1L502.0 273.2L503.3 274.0L504.0 274.4L506.0 275.6L506.6 276.0L508.0 276.9L509.6 278.0L510.0 278.3L512.0 280.0L512.0 280.0L513.3 282.0L513.6 284.0L514.0 284.7L516.0 285.3L518.0 285.4L520.0 285.7L521.4 286.0L522.0 286.1L524.0 286.5L526.0 286.9L528.0 287.3L530.0 287.7L531.1 288.0L532.0 288.2L534.0 288.8L536.0 289.4L537.6 290.0L538.0 290.1L540.0 291.0L542.0 291.9L542.2 292.0L544.0 293.0L545.4 294.0L546.0 294.5L547.7 296.0L548.0 296.3L549.3 298.0L550.0 299.1L550.6 300.0L551.5 302.0L552.0 303.5L552.2 304.0L552.4 306.0L552.6 308.0L552.7 310.0L552.8 312.0L553.0 314.0L553.1 316.0L553.3 318.0L553.4 320.0L553.4 322.0L553.4 324.0L553.3 326.0L553.2 328.0L553.0 330.0L552.6 332.0L552.2 334.0L552.0 335.0L551.7 336.0L551.0 338.0L550.0 340.0L550.0 340.0L548.3 342.0L548.0 342.3L546.0 343.5L544.5 344.0L544.0 344.1L542.0 344.3L540.0 344.2L538.7 344.0L538.0 343.9L536.0 343.5L534.0 343.1L532.0 342.8L530.0 342.4L528.0 342.0L527.9 342.0L526.0 341.3L524.0 340.5L522.6 340.0L522.0 339.7L520.0 339.2L518.0 339.1L516.0 339.5L514.6 340.0L514.0 340.2L512.0 340.9L510.0 341.9L509.8 342.0L508.0 342.9L506.4 344.0L506.0 344.2L504.0 346.0L504.0 346.0L502.2 348.0L502.0 348.2L500.6 350.0L500.0 350.7L499.1 352.0L498.0 353.6L497.8 354.0L496.4 356.0L496.0 356.7L495.3 358.0L494.5 360.0L494.1 362.0L494.0 362.4L493.7 364.0L493.2 366.0L493.0 368.0L492.7 370.0L492.5 372.0L492.1 374.0L492.0 374.7L491.7 376.0L491.1 378.0L490.2 380.0L490.0 380.5L489.1 382.0L488.0 383.5L487.6 384.0L486.0 385.6L485.5 386.0L484.0 387.1L482.5 388.0L482.0 388.3L480.0 389.2L478.0 390.0L477.8 390.0L476.0 390.5L474.0 390.9L472.0 391.2L470.0 391.4L468.0 391.6L466.0 391.8L464.0 392.0L463.7 392.0L462.0 392.2L460.0 392.2L458.0 392.1L457.7 392.0L456.0 391.7L454.0 391.3L452.0 391.0L450.0 390.6L448.0 390.0L448.0 390.0L446.0 389.2L444.0 388.4L443.1 388.0L442.0 387.4L440.0 386.4L439.2 386.0L438.0 385.4L436.0 384.3L435.5 384.0L434.0 383.2L432.0 382.1L431.8 382.0L430.0 381.1L428.0 380.1L427.9 380.0L426.0 379.1L424.1 378.0L424.0 377.9L422.0 376.6L421.3 376.0L420.0 375.0L418.9 374.0L418.0 373.1L417.0 372.0L416.0 370.5L415.7 370.0L414.1 368.0L414.0 368.0L412.0 367.0L410.0 366.3L409.2 366.0L408.0 365.5L406.0 364.5L405.1 364.0L404.0 363.2L402.7 362.0L402.0 360.8L401.6 360.0L401.5 358.0L402.0 356.7L402.3 356.0L404.0 354.0L404.0 354.0L406.0 352.3L406.4 352.0L408.0 350.9L409.3 350.0L410.0 349.4L411.1 348.0L411.9 346.0L412.0 345.7L413.3 344.0L414.0 343.4L416.0 342.2L416.3 342.0L418.0 340.9L419.1 340.0L420.0 339.2L421.1 338.0L422.0 337.0L422.7 336.0L424.0 334.0L424.0 333.9L424.8 332.0L425.4 330.0L425.9 328.0L426.0 327.4L426.3 326.0L426.5 324.0L426.7 322.0L426.8 320.0L426.8 318.0L426.8 316.0L426.9 314.0L426.9 312.0L427.0 310.0L427.1 308.0L427.4 306.0L427.7 304.0L428.0 302.2L428.0 302.0L428.3 300.0L428.7 298.0L429.0 296.0L429.3 294.0L429.6 292.0L429.9 290.0L430.0 289.4L430.2 288.0L430.5 286.0L430.8 284.0L431.3 282.0L431.9 280.0L432.0 279.5L432.4 278.0L433.0 276.0L433.6 274.0L434.0 272.6L434.2 272.0L435.0 270.0L436.0 268.0L436.0 268.0L437.2 266.0L438.0 264.7L438.5 264.0L439.8 262.0L440.0 261.6L440.9 260.0L442.0 258.4L442.3 258.0L444.0 256.5L444.6 256.0L446.0 255.2L448.0 254.3L449.1 254.0ZM354.0 295.2L356.0 294.7L358.0 294.4L360.0 294.4L362.0 294.4L364.0 294.4L366.0 294.5L368.0 294.7L370.0 295.1L372.0 295.6L373.7 296.0L374.0 296.1L376.0 296.8L378.0 297.7L378.5 298.0L380.0 298.8L382.0 300.0L382.0 300.0L384.0 301.5L384.6 302.0L386.0 303.7L386.2 304.0L387.1 306.0L387.0 308.0L386.0 309.6L385.8 310.0L384.0 311.8L383.8 312.0L382.0 313.5L381.4 314.0L380.0 315.0L378.7 316.0L378.0 316.5L376.0 318.0L376.0 318.0L374.0 319.5L373.2 320.0L372.0 320.9L370.3 322.0L370.0 322.2L368.0 323.3L366.0 324.0L366.0 324.0L364.0 324.3L362.0 324.2L361.3 324.0L360.0 323.7L358.0 323.2L356.0 322.8L354.0 323.1L353.3 324.0L353.3 326.0L353.7 328.0L354.0 329.7L354.1 330.0L354.0 331.2L354.0 332.0L353.4 334.0L352.5 336.0L352.0 337.0L351.5 338.0L350.4 340.0L350.0 340.9L349.4 342.0L348.7 344.0L348.2 346.0L348.0 348.0L348.4 350.0L348.7 352.0L349.0 354.0L349.3 356.0L349.4 358.0L349.3 360.0L349.2 362.0L349.2 364.0L349.4 366.0L349.6 368.0L349.9 370.0L350.0 370.3L350.6 372.0L351.5 374.0L352.0 375.6L352.1 376.0L352.5 378.0L352.6 380.0L352.6 382.0L352.2 384.0L352.0 384.8L351.6 386.0L350.9 388.0L350.1 390.0L350.0 390.3L349.4 392.0L348.6 394.0L348.0 395.4L347.7 396.0L347.0 398.0L346.2 400.0L346.0 400.5L345.5 402.0L344.8 404.0L344.0 406.0L344.0 406.0L342.7 408.0L342.0 409.1L341.4 410.0L340.4 412.0L340.3 414.0L340.5 416.0L340.0 417.7L339.8 418.0L338.5 420.0L338.0 420.7L337.1 422.0L336.0 423.6L335.8 424.0L334.5 426.0L334.0 426.8L333.3 428.0L332.3 430.0L332.0 430.7L331.4 432.0L330.7 434.0L330.2 436.0L330.0 437.1L329.8 438.0L329.5 440.0L328.7 442.0L328.3 444.0L330.0 444.8L332.0 444.7L334.0 445.2L335.0 446.0L336.0 446.7L337.1 448.0L338.0 449.0L338.8 450.0L340.0 451.6L340.3 452.0L341.6 454.0L342.0 454.5L342.9 456.0L344.0 457.8L344.1 458.0L345.3 460.0L346.0 461.3L346.4 462.0L347.5 464.0L348.0 465.0L348.5 466.0L349.5 468.0L350.0 468.9L350.5 470.0L351.5 472.0L352.0 473.0L352.4 474.0L353.3 476.0L353.9 478.0L354.0 479.3L354.1 480.0L354.0 480.3L353.2 482.0L352.0 483.2L351.0 484.0L350.0 484.8L348.6 486.0L348.0 486.5L346.7 488.0L346.0 489.0L345.4 490.0L344.4 492.0L344.0 492.6L343.2 494.0L342.3 496.0L342.2 498.0L342.2 500.0L342.5 502.0L342.8 504.0L343.3 506.0L343.8 508.0L344.0 508.7L344.4 510.0L345.1 512.0L345.9 514.0L346.0 514.2L346.9 516.0L348.0 517.8L348.1 518.0L349.9 520.0L350.0 520.1L352.0 521.6L352.5 522.0L354.0 522.9L355.7 524.0L356.0 524.2L358.0 525.7L358.4 526.0L360.0 527.8L360.2 528.0L362.0 529.9L362.2 530.0L364.0 531.5L364.8 532.0L366.0 532.7L368.0 533.6L369.0 534.0L370.0 534.3L372.0 534.8L374.0 535.2L376.0 535.4L378.0 535.6L380.0 535.6L382.0 535.6L384.0 535.5L386.0 535.4L388.0 535.3L390.0 534.6L390.7 534.0L392.0 532.0L392.0 531.9L393.4 530.0L394.0 529.1L395.3 528.0L396.0 527.3L398.0 527.1L398.9 528.0L399.8 530.0L400.0 530.8L400.1 532.0L400.3 534.0L400.5 536.0L400.7 538.0L401.8 540.0L402.0 540.1L404.0 540.7L406.0 541.1L408.0 541.5L409.3 542.0L408.0 542.9L407.0 544.0L406.0 544.2L404.0 544.7L402.0 545.5L401.5 546.0L400.8 548.0L400.7 550.0L400.6 552.0L400.5 554.0L400.3 556.0L400.1 558.0L400.0 558.9L399.9 560.0L399.6 562.0L399.3 564.0L399.0 566.0L398.7 568.0L398.7 570.0L398.6 572.0L398.0 573.4L397.7 574.0L396.5 576.0L396.0 576.6L394.9 578.0L394.0 578.8L392.8 580.0L392.0 580.7L390.5 582.0L390.0 582.4L388.0 583.9L387.9 584.0L386.0 585.2L384.4 586.0L384.0 586.1L382.0 586.7L380.0 587.1L378.0 587.5L376.0 587.9L375.4 588.0L374.0 588.3L372.0 588.6L370.0 589.0L368.0 589.3L366.0 589.5L364.0 589.7L362.0 589.9L361.6 590.0L360.0 590.4L358.0 590.7L356.0 590.8L354.0 590.9L352.0 590.9L350.0 590.9L348.0 590.9L346.0 590.8L344.0 590.8L342.0 590.7L340.0 590.6L338.0 590.5L336.0 590.3L334.8 590.0L334.0 589.8L332.0 589.1L330.0 588.2L329.7 588.0L328.0 587.2L326.0 586.0L325.9 586.0L324.0 584.9L322.7 584.0L322.0 583.5L320.3 582.0L320.0 581.7L318.4 580.0L318.0 579.6L316.7 578.0L316.0 577.1L315.2 576.0L314.0 574.5L313.7 574.0L312.2 572.0L312.0 571.6L311.1 570.0L310.6 568.0L310.5 566.0L310.0 564.3L309.9 564.0L309.3 562.0L308.9 560.0L308.4 558.0L308.0 556.5L307.8 556.0L307.0 554.0L306.0 552.1L306.0 552.0L304.6 550.0L304.0 549.3L302.9 548.0L302.0 547.1L300.8 546.0L300.0 545.3L298.4 544.0L298.0 543.7L296.0 542.2L295.7 542.0L294.0 541.0L292.0 540.0L292.0 540.0L290.0 539.2L288.0 538.6L286.0 538.0L285.8 538.0L284.0 537.6L282.0 537.1L280.0 536.1L279.8 536.0L278.0 534.0L278.0 534.0L276.0 532.6L274.0 532.7L272.4 534.0L272.0 534.4L270.7 536.0L270.0 537.0L269.4 538.0L268.2 540.0L268.0 540.4L267.3 542.0L266.7 544.0L266.7 546.0L267.3 548.0L268.0 549.6L268.2 550.0L269.2 552.0L270.0 553.4L270.4 554.0L271.6 556.0L272.0 556.6L273.1 558.0L274.0 559.3L274.6 560.0L276.0 561.8L276.2 562.0L277.7 564.0L278.0 564.5L279.1 566.0L280.0 567.6L280.2 568.0L280.8 570.0L281.1 572.0L281.4 574.0L281.6 576.0L281.8 578.0L282.0 580.0L282.0 580.4L282.1 582.0L282.6 584.0L283.9 586.0L284.0 586.0L286.0 586.6L288.0 586.7L290.0 586.5L292.0 586.3L293.4 586.0L294.0 585.9L296.0 585.5L298.0 585.1L300.0 584.6L302.0 584.2L303.3 584.0L304.0 583.9L306.0 583.7L308.0 583.8L308.8 584.0L310.0 584.3L312.0 585.3L313.0 586.0L314.0 587.1L314.7 588.0L315.4 590.0L315.4 592.0L314.9 594.0L314.0 596.0L314.0 596.0L313.2 598.0L312.5 600.0L312.0 601.2L311.7 602.0L310.4 604.0L310.0 604.5L308.7 606.0L308.0 606.8L306.9 608.0L306.0 608.9L304.9 610.0L304.0 610.9L303.0 612.0L302.0 613.1L301.2 614.0L300.0 615.5L299.6 616.0L298.0 618.0L298.0 618.0L296.6 620.0L296.0 620.9L295.3 622.0L294.1 624.0L294.0 624.2L292.9 626.0L292.0 627.7L291.9 628.0L290.7 630.0L290.0 630.9L288.6 632.0L288.0 632.3L286.0 633.0L284.0 633.6L282.8 634.0L282.0 634.2L280.0 634.8L278.0 635.3L276.0 635.6L274.0 635.8L272.0 635.8L270.0 635.7L268.0 635.4L266.0 635.0L264.0 634.4L263.0 634.0L262.0 633.6L260.0 632.4L259.6 632.0L258.4 630.0L258.0 628.7L257.8 628.0L257.2 626.0L256.2 624.0L256.0 623.7L254.6 622.0L254.0 621.4L252.2 620.0L252.0 619.9L250.0 618.8L248.3 618.0L248.0 617.9L246.0 617.4L244.0 617.2L242.0 617.3L240.0 617.9L239.6 618.0L238.0 618.6L236.0 619.3L234.3 620.0L234.0 620.1L232.0 620.9L230.0 621.7L229.3 622.0L228.0 622.6L226.0 623.4L224.6 624.0L224.0 624.3L222.0 625.1L220.0 626.0L219.9 626.0L218.0 626.8L216.0 627.4L214.0 627.6L212.0 627.5L210.2 626.0L210.0 625.8L208.9 624.0L208.0 622.8L207.7 622.0L206.7 620.0L206.0 618.8L205.7 618.0L204.8 616.0L204.0 614.3L203.9 614.0L203.1 612.0L202.2 610.0L202.0 609.5L201.4 608.0L200.6 606.0L200.0 604.6L199.8 604.0L199.1 602.0L198.3 600.0L198.0 599.3L197.6 598.0L196.9 596.0L196.2 594.0L196.0 593.3L195.7 592.0L195.1 590.0L194.6 588.0L194.2 586.0L194.0 584.9L193.9 584.0L193.6 582.0L193.3 580.0L193.1 578.0L193.3 576.0L194.0 574.4L194.3 574.0L195.5 572.0L195.9 570.0L195.5 568.0L194.8 566.0L194.0 564.3L193.9 564.0L192.8 562.0L192.0 560.8L191.5 560.0L190.0 558.0L190.0 557.9L188.4 556.0L188.0 555.6L186.4 554.0L186.0 553.6L184.2 552.0L184.0 551.9L182.0 550.3L181.5 550.0L180.0 549.0L178.3 548.0L178.0 547.9L176.0 546.8L174.5 546.0L174.0 545.7L172.0 544.5L171.3 544.0L170.0 543.0L168.8 542.0L168.0 541.4L166.2 540.0L166.0 539.8L164.0 538.4L163.4 538.0L162.0 536.9L161.0 536.0L160.0 534.9L159.3 534.0L158.1 532.0L158.0 531.9L157.1 530.0L156.2 528.0L156.0 527.6L155.3 526.0L154.4 524.0L154.0 522.9L153.6 522.0L152.7 520.0L152.0 518.2L151.9 518.0L151.0 516.0L150.2 514.0L150.0 513.6L149.4 512.0L148.7 510.0L148.1 508.0L148.0 507.7L147.5 506.0L147.0 504.0L146.5 502.0L146.1 500.0L146.0 499.4L145.7 498.0L145.4 496.0L145.2 494.0L144.9 492.0L144.7 490.0L144.5 488.0L144.3 486.0L144.1 484.0L144.0 483.5L143.8 482.0L143.6 480.0L143.4 478.0L143.2 476.0L143.0 474.0L142.8 472.0L142.7 470.0L142.7 468.0L142.8 466.0L142.9 464.0L143.2 462.0L143.5 460.0L144.0 458.6L144.2 458.0L145.5 456.0L146.0 455.4L147.2 454.0L148.0 453.1L149.0 452.0L150.0 450.9L150.8 450.0L152.0 448.7L152.7 448.0L154.0 446.7L154.8 446.0L156.0 444.8L157.1 444.0L158.0 443.3L160.0 442.1L160.3 442.0L162.0 441.1L164.0 440.8L166.0 441.0L168.0 441.8L168.4 442.0L170.0 442.6L172.0 443.8L172.2 444.0L174.0 446.0L174.0 446.0L176.0 447.5L176.8 448.0L178.0 448.7L179.5 450.0L180.0 450.4L181.5 452.0L182.0 452.6L183.1 454.0L184.0 455.2L184.5 456.0L185.8 458.0L186.0 458.3L187.0 460.0L188.0 461.6L188.3 462.0L189.4 464.0L190.0 465.2L190.4 466.0L191.3 468.0L192.0 469.6L192.2 470.0L192.9 472.0L193.6 474.0L194.0 475.1L194.5 476.0L196.0 477.8L196.4 478.0L198.0 478.7L200.0 479.2L202.0 479.5L204.0 479.6L206.0 479.7L208.0 479.7L210.0 479.7L212.0 479.6L214.0 479.4L216.0 479.2L218.0 478.9L220.0 478.6L222.0 478.2L222.8 478.0L224.0 477.7L226.0 476.9L227.5 476.0L228.0 475.5L228.9 474.0L229.6 472.0L230.0 470.2L230.1 470.0L230.5 468.0L231.1 466.0L231.6 464.0L232.0 462.2L232.0 462.0L232.4 460.0L232.6 458.0L232.7 456.0L232.8 454.0L232.7 452.0L232.4 450.0L232.0 449.1L231.5 448.0L230.5 446.0L230.0 444.5L229.8 444.0L229.3 442.0L229.0 440.0L229.1 438.0L229.0 436.0L228.8 434.0L228.4 432.0L228.0 430.1L228.0 430.0L227.3 428.0L226.2 426.0L226.0 425.7L225.1 424.0L224.2 422.0L224.0 421.5L223.3 420.0L222.0 418.0L222.0 418.0L220.4 416.0L220.0 415.6L218.0 414.0L218.0 414.0L216.0 413.0L214.0 412.5L212.0 412.2L210.0 412.1L209.2 412.0L208.0 411.9L206.0 411.7L204.0 411.5L202.0 411.4L200.0 411.2L198.0 411.1L196.0 410.9L194.0 410.8L192.0 410.8L190.0 410.8L188.0 411.0L186.0 411.2L184.0 411.6L182.7 412.0L182.0 412.2L180.0 413.1L178.5 414.0L178.0 414.4L176.0 416.0L176.0 416.0L174.3 418.0L174.0 418.5L173.2 420.0L172.5 422.0L172.1 424.0L172.0 425.3L171.9 426.0L171.8 428.0L171.6 430.0L170.9 432.0L170.0 433.0L168.2 434.0L168.0 434.1L166.0 435.1L164.0 435.6L162.0 435.5L160.0 435.0L158.1 434.0L158.0 434.0L156.0 432.8L154.9 432.0L154.0 431.3L152.4 430.0L152.0 429.6L150.3 428.0L150.0 427.7L148.2 426.0L148.0 425.8L146.2 424.0L146.0 423.8L144.5 422.0L144.0 420.8L143.8 420.0L143.9 418.0L144.0 417.8L144.7 416.0L145.7 414.0L146.0 413.6L147.2 412.0L148.0 411.2L149.3 410.0L150.0 409.4L151.6 408.0L152.0 407.7L153.9 406.0L154.0 405.9L156.0 404.1L156.1 404.0L158.0 402.3L158.3 402.0L160.0 400.5L160.6 400.0L162.0 398.7L162.8 398.0L164.0 396.9L165.0 396.0L166.0 395.1L167.1 394.0L168.0 393.2L169.2 392.0L170.0 391.2L171.2 390.0L172.0 389.2L173.1 388.0L174.0 386.9L174.7 386.0L176.0 384.2L176.1 384.0L177.4 382.0L178.0 381.0L178.8 380.0L180.0 378.6L180.5 378.0L182.0 376.6L182.9 376.0L184.0 375.2L186.0 374.3L186.8 374.0L188.0 373.7L190.0 373.3L192.0 373.2L194.0 373.1L196.0 373.2L198.0 373.2L200.0 373.0L202.0 372.7L204.0 372.3L205.9 372.0L206.0 372.0L208.0 371.8L210.0 371.7L212.0 371.7L214.0 371.9L214.7 372.0L216.0 372.2L218.0 372.8L220.0 373.4L221.6 374.0L222.0 374.2L224.0 375.2L225.2 376.0L226.0 376.8L226.9 378.0L228.0 380.0L228.0 380.0L229.0 382.0L229.8 384.0L230.0 384.8L230.4 386.0L230.7 388.0L230.8 390.0L230.6 392.0L230.4 394.0L230.8 396.0L232.0 396.8L234.0 396.9L236.0 396.7L238.0 396.3L239.6 396.0L240.0 395.9L242.0 395.6L244.0 395.4L246.0 395.5L248.0 395.7L250.0 396.0L250.0 396.0L252.0 396.3L254.0 396.4L255.7 396.0L256.0 395.8L256.9 394.0L257.0 392.0L257.1 390.0L257.3 388.0L257.5 386.0L257.8 384.0L258.0 382.8L258.2 382.0L258.6 380.0L259.2 378.0L260.0 376.0L260.0 376.0L261.4 374.0L262.0 373.2L262.7 372.0L263.9 370.0L264.0 369.8L265.1 368.0L266.0 366.4L266.3 366.0L267.6 364.0L268.0 363.4L269.0 362.0L270.0 360.7L270.6 360.0L272.0 358.2L272.2 358.0L274.0 356.0L274.0 356.0L276.0 354.4L276.7 354.0L278.0 353.3L280.0 352.7L282.0 352.5L284.0 352.6L286.0 353.0L288.0 353.5L289.7 354.0L290.0 354.1L292.0 354.7L294.0 355.3L296.0 355.9L296.5 356.0L298.0 356.3L300.0 356.6L302.0 356.9L304.0 357.1L306.0 356.7L307.5 356.0L308.0 355.7L310.0 354.5L310.7 354.0L312.0 352.8L312.7 352.0L314.0 350.2L314.1 350.0L315.5 348.0L316.0 347.1L316.6 346.0L317.7 344.0L318.0 343.4L318.8 342.0L319.7 340.0L320.0 339.4L320.6 338.0L321.5 336.0L322.0 334.8L322.4 334.0L323.3 332.0L324.0 330.2L324.1 330.0L324.9 328.0L325.7 326.0L326.0 325.2L326.5 324.0L327.5 322.0L328.0 321.0L328.5 320.0L329.7 318.0L330.0 317.5L331.0 316.0L332.0 314.5L332.4 314.0L334.0 312.2L334.2 312.0L336.0 310.6L337.4 310.0L338.0 309.6L339.0 308.0L340.0 306.7L340.4 306.0L342.0 304.2L342.2 304.0L344.0 302.2L344.2 302.0L346.0 300.4L346.5 300.0L348.0 298.8L349.2 298.0L350.0 297.4L352.0 296.2L352.4 296.0ZM275.1 434.0L274.2 436.0L274.0 437.2L273.9 438.0L273.9 440.0L274.0 441.5L274.0 442.0L274.3 444.0L274.7 446.0L275.2 448.0L276.0 449.9L276.0 450.0L277.1 452.0L278.0 453.3L278.6 454.0L280.0 455.6L280.4 456.0L282.0 457.3L282.9 458.0L284.0 458.7L286.0 459.8L286.5 460.0L288.0 460.6L290.0 461.2L292.0 461.6L294.0 461.9L296.0 461.9L298.0 461.7L300.0 461.2L301.2 460.0L301.3 458.0L300.7 456.0L300.0 454.8L299.6 454.0L298.4 452.0L298.0 451.5L296.9 450.0L296.0 448.8L295.3 448.0L294.0 446.5L293.5 446.0L292.0 444.4L291.6 444.0L290.0 442.5L289.4 442.0L288.0 440.7L287.1 440.0L286.0 438.9L284.8 438.0L284.0 437.1L282.7 436.0L282.0 435.3L280.5 434.0L280.0 433.5L278.0 432.4L276.0 432.8ZM420.0 455.7L422.0 455.3L424.0 455.0L426.0 455.0L428.0 455.2L430.0 455.6L431.3 456.0L432.0 456.2L434.0 457.0L436.0 458.0L436.1 458.0L438.0 459.0L439.8 460.0L440.0 460.2L442.0 461.5L442.7 462.0L444.0 463.1L444.9 464.0L446.0 465.3L446.5 466.0L447.7 468.0L448.0 468.6L448.6 470.0L449.3 472.0L449.9 474.0L450.0 474.3L450.4 476.0L450.7 478.0L450.9 480.0L450.8 482.0L450.3 484.0L450.0 485.1L449.8 486.0L449.6 488.0L449.2 490.0L448.1 492.0L448.0 492.1L446.3 494.0L446.0 494.3L444.0 496.0L444.0 496.0L442.0 497.5L441.3 498.0L440.0 498.9L438.4 500.0L438.0 500.3L436.0 501.7L435.5 502.0L434.0 503.0L432.3 504.0L432.0 504.2L430.0 505.2L428.0 505.9L427.2 506.0L426.0 506.2L424.7 506.0L424.0 505.9L422.0 505.2L420.0 504.1L419.9 504.0L418.0 502.7L417.0 502.0L416.0 501.2L414.5 500.0L414.0 499.5L412.3 498.0L412.0 497.7L410.3 496.0L410.0 495.7L408.5 494.0L408.0 493.4L407.0 492.0L406.0 490.5L405.7 490.0L404.7 488.0L404.0 486.2L403.9 486.0L403.2 484.0L402.6 482.0L402.0 480.2L401.9 480.0L401.3 478.0L400.7 476.0L400.3 474.0L400.0 472.1L400.0 472.0L399.9 470.0L400.0 469.6L400.5 468.0L401.5 466.0L402.0 465.2L402.8 464.0L404.0 463.1L405.3 462.0L406.0 461.6L408.0 460.5L408.9 460.0L410.0 459.5L412.0 458.6L413.4 458.0L414.0 457.7L416.0 457.0L418.0 456.3L419.1 456.0ZM128.0 487.5L128.6 488.0L130.0 489.4L130.6 490.0L130.6 492.0L132.0 493.4L132.7 494.0L132.6 496.0L132.6 498.0L134.0 499.4L134.7 500.0L134.7 502.0L134.6 504.0L136.0 505.4L136.7 506.0L136.7 508.0L138.0 509.3L138.7 510.0L138.7 512.0L138.7 514.0L140.0 515.3L140.7 516.0L140.0 516.5L138.0 516.5L136.0 516.5L134.0 516.5L132.0 516.5L130.0 516.5L128.0 516.5L126.0 516.5L124.0 516.5L122.0 516.5L120.0 516.5L118.0 516.5L116.0 516.5L114.0 516.5L112.0 516.5L110.0 516.5L108.0 516.5L106.0 516.5L104.0 516.5L103.5 516.0L104.0 515.5L105.5 514.0L106.0 513.5L107.5 512.0L108.0 511.5L109.5 510.0L110.0 509.5L111.5 508.0L111.5 506.0L112.0 505.5L113.5 504.0L114.0 503.5L115.5 502.0L116.0 501.5L117.5 500.0L118.0 499.5L119.5 498.0L120.0 497.5L121.5 496.0L121.5 494.0L122.0 493.5L123.5 492.0L124.0 491.5L125.5 490.0L126.0 489.5L127.5 488.0ZM604.0 597.7L606.0 597.5L606.1 598.0L606.0 598.2L604.7 600.0L604.0 600.8L603.1 602.0L602.0 603.2L601.4 604.0L600.0 605.6L599.6 606.0L598.0 607.8L597.8 608.0L596.0 610.0L596.0 610.0L594.1 612.0L594.0 612.1L592.2 614.0L592.0 614.2L590.2 616.0L590.0 616.2L588.3 618.0L588.0 618.3L586.3 620.0L586.0 620.3L584.3 622.0L584.0 622.3L582.4 624.0L582.0 624.4L580.4 626.0L580.0 626.4L578.4 628.0L578.0 628.4L576.4 630.0L576.0 630.4L574.4 632.0L574.0 632.4L572.5 634.0L572.0 634.5L570.5 636.0L570.0 636.5L568.5 638.0L568.0 638.5L566.5 640.0L566.0 640.5L564.5 642.0L564.0 642.5L562.5 644.0L562.0 644.5L560.5 646.0L560.0 646.5L558.5 648.0L558.0 648.5L556.5 650.0L556.0 650.5L554.5 652.0L554.0 652.5L552.5 654.0L552.0 654.5L550.5 656.0L550.0 656.5L548.5 658.0L548.0 658.5L546.5 660.0L546.0 660.5L544.5 662.0L544.0 662.5L542.5 664.0L542.0 664.5L540.4 666.0L540.0 666.4L538.4 668.0L538.0 668.4L536.4 670.0L536.0 670.4L534.4 672.0L534.0 672.4L532.4 674.0L532.0 674.4L530.3 676.0L530.0 676.3L528.3 678.0L528.0 678.3L526.2 680.0L526.0 680.2L524.2 682.0L524.0 682.2L522.1 684.0L522.0 684.1L520.0 686.0L520.0 686.0L518.0 686.5L518.0 686.0L518.0 686.0L519.8 684.0L520.0 683.8L521.6 682.0L522.0 681.6L523.5 680.0L524.0 679.4L525.3 678.0L526.0 677.2L527.1 676.0L528.0 675.0L528.9 674.0L530.0 672.8L530.8 672.0L532.0 670.6L532.6 670.0L534.0 668.4L534.4 668.0L536.0 666.1L536.1 666.0L537.9 664.0L538.0 663.9L539.8 662.0L540.0 661.8L541.7 660.0L542.0 659.7L543.6 658.0L544.0 657.6L545.5 656.0L546.0 655.5L547.4 654.0L548.0 653.4L549.3 652.0L550.0 651.3L551.2 650.0L552.0 649.1L553.1 648.0L554.0 647.0L555.0 646.0L556.0 644.9L556.9 644.0L558.0 642.8L558.7 642.0L560.0 640.6L560.6 640.0L562.0 638.5L562.5 638.0L564.0 636.3L564.3 636.0L566.0 634.1L566.1 634.0L567.8 632.0L568.0 631.8L569.5 630.0L570.0 629.2L571.0 628.0L572.0 626.3L572.2 626.0L572.8 624.0L574.0 622.0L574.0 622.0L575.9 620.0L576.0 619.9L577.9 618.0L578.0 617.9L579.9 616.0L580.0 615.9L582.0 614.1L582.2 614.0L584.0 612.8L585.1 612.0L586.0 611.4L587.9 610.0L588.0 609.9L590.0 608.3L590.4 608.0L592.0 606.7L592.8 606.0L594.0 605.0L595.3 604.0L596.0 603.4L597.7 602.0L598.0 601.8L600.0 600.3L600.4 600.0L602.0 599.0L603.5 598.0ZM180.0 602.8L182.0 603.0L183.1 604.0L183.0 606.0L184.0 607.6L184.4 608.0L184.4 610.0L186.0 611.6L186.4 612.0L186.4 614.0L188.0 615.6L188.4 616.0L188.4 618.0L190.0 619.6L190.4 620.0L190.4 622.0L192.0 623.6L192.4 624.0L192.4 626.0L194.0 627.6L194.4 628.0L194.4 630.0L196.0 631.6L196.5 632.0L196.0 632.7L194.0 632.7L192.0 632.7L190.0 632.7L188.0 632.7L186.0 632.7L184.0 632.7L182.0 632.7L180.0 632.7L178.0 632.7L176.0 632.7L174.0 632.7L172.0 632.7L170.0 632.7L168.0 632.7L166.0 632.7L164.0 632.7L162.0 632.7L160.0 632.7L158.0 632.7L156.0 632.7L154.0 632.7L152.0 632.7L150.0 632.7L148.0 632.7L146.0 632.7L144.0 632.7L142.0 632.7L140.0 632.7L138.0 632.7L136.0 632.7L135.5 632.0L136.0 631.5L137.5 630.0L138.0 629.5L140.0 629.5L141.5 628.0L142.0 627.5L144.0 627.5L145.5 626.0L146.0 625.5L147.5 624.0L148.0 623.5L150.0 623.5L151.5 622.0L152.0 621.5L154.0 621.5L155.5 620.0L156.0 619.5L158.0 619.5L159.5 618.0L160.0 617.5L161.5 616.0L162.0 615.5L164.0 615.5L165.5 614.0L166.0 613.5L168.0 613.5L169.5 612.0L170.0 611.5L171.5 610.0L172.0 609.5L174.0 609.5L175.5 608.0L176.0 607.5L176.8 606.0L178.0 604.8L178.8 604.0ZM608.0 603.4L610.0 603.7L610.3 604.0L612.0 605.7L614.0 605.7L614.3 606.0L616.0 607.7L618.0 607.7L618.3 608.0L620.0 609.7L620.3 610.0L622.0 611.7L624.0 611.7L624.3 612.0L626.0 613.7L626.8 614.0L628.0 615.2L628.8 616.0L630.0 617.2L630.8 618.0L632.0 619.2L632.8 620.0L634.0 621.2L634.8 622.0L634.8 624.0L636.0 625.2L636.8 626.0L638.0 627.2L638.8 628.0L640.0 629.2L640.8 630.0L642.0 631.2L642.8 632.0L644.0 633.2L644.8 634.0L646.0 635.2L646.8 636.0L646.8 638.0L648.0 639.2L648.8 640.0L650.0 641.2L650.8 642.0L652.0 643.2L652.8 644.0L654.0 645.2L654.8 646.0L656.0 647.2L656.8 648.0L656.8 650.0L658.0 651.2L658.8 652.0L660.0 653.2L660.8 654.0L662.0 655.2L662.8 656.0L664.0 657.2L664.8 658.0L666.0 659.2L666.8 660.0L668.0 661.2L668.8 662.0L668.8 664.0L670.0 665.2L670.8 666.0L672.0 667.2L672.8 668.0L674.0 669.2L674.8 670.0L676.0 671.2L676.8 672.0L678.0 673.2L678.8 674.0L678.8 676.0L680.0 677.2L680.8 678.0L682.0 679.2L682.8 680.0L684.0 681.2L684.8 682.0L686.0 683.2L686.8 684.0L688.0 685.2L688.8 686.0L690.0 687.2L690.8 688.0L690.8 690.0L692.0 691.2L692.8 692.0L694.0 693.2L694.8 694.0L696.0 695.2L696.8 696.0L698.0 697.2L698.8 698.0L700.0 699.2L700.8 700.0L700.8 702.0L702.0 703.2L702.8 704.0L704.0 705.2L704.8 706.0L706.0 707.2L706.8 708.0L708.0 709.2L708.8 710.0L710.0 711.2L710.8 712.0L712.0 713.2L712.8 714.0L712.8 716.0L714.0 717.2L714.8 718.0L716.0 719.2L716.8 720.0L718.0 721.2L718.8 722.0L720.0 723.2L720.8 724.0L722.0 725.2L722.8 726.0L722.8 728.0L724.0 729.2L724.8 730.0L726.0 731.2L726.8 732.0L728.0 733.2L728.8 734.0L730.0 735.2L730.8 736.0L732.0 737.2L732.8 738.0L734.0 739.2L734.8 740.0L734.8 742.0L736.0 743.2L736.8 744.0L738.0 745.2L738.8 746.0L740.0 747.2L740.8 748.0L742.0 749.2L742.8 750.0L744.0 751.2L744.8 752.0L744.8 754.0L746.0 755.2L746.8 756.0L748.0 757.2L748.8 758.0L750.0 759.2L750.8 760.0L752.0 761.2L752.8 762.0L754.0 763.2L754.8 764.0L756.0 765.2L756.8 766.0L756.8 768.0L758.0 769.2L758.8 770.0L760.0 771.2L760.8 772.0L762.0 773.2L762.8 774.0L764.0 775.2L764.8 776.0L766.0 777.2L766.8 778.0L766.8 780.0L768.0 781.2L768.8 782.0L770.0 783.2L770.8 784.0L772.0 785.2L772.8 786.0L774.0 787.2L774.8 788.0L776.0 789.2L776.8 790.0L778.0 791.2L778.8 792.0L778.8 794.0L780.0 795.2L780.8 796.0L782.0 797.2L782.8 798.0L782.0 798.0L780.0 798.0L778.0 798.0L776.0 798.0L774.0 798.0L772.0 798.0L770.0 798.0L768.0 798.0L766.0 798.0L764.0 798.0L762.0 798.0L760.0 798.0L758.0 798.0L756.0 798.0L754.0 798.0L752.0 798.0L750.0 798.0L748.0 798.0L746.0 798.0L744.0 798.0L742.0 798.0L740.0 798.0L738.0 798.0L736.0 798.0L734.0 798.0L732.0 798.0L730.0 798.0L728.0 798.0L726.0 798.0L724.0 798.0L722.0 798.0L720.0 798.0L718.0 798.0L716.0 798.0L714.0 798.0L712.0 798.0L710.0 798.0L708.0 798.0L706.0 798.0L704.0 798.0L702.0 798.0L700.0 798.0L698.0 798.0L696.0 798.0L694.0 798.0L692.0 798.0L690.0 798.0L688.0 798.0L686.0 798.0L684.0 798.0L682.0 798.0L680.0 798.0L678.0 798.0L677.7 798.0L676.0 796.3L675.7 796.0L675.7 794.0L674.0 792.3L673.7 792.0L672.0 790.3L671.7 790.0L670.0 788.3L669.7 788.0L668.0 786.3L667.7 786.0L666.0 784.3L665.7 784.0L665.7 782.0L664.0 780.3L663.7 780.0L662.0 778.3L661.7 778.0L660.0 776.3L659.7 776.0L658.0 774.3L657.7 774.0L656.0 772.3L655.7 772.0L654.0 770.3L653.7 770.0L653.7 768.0L652.0 766.3L651.7 766.0L650.0 764.3L649.7 764.0L648.0 762.3L647.7 762.0L646.0 760.3L645.7 760.0L644.0 758.3L643.7 758.0L643.7 756.0L642.0 754.3L641.7 754.0L640.0 752.3L639.7 752.0L638.0 750.3L637.7 750.0L636.0 748.3L635.7 748.0L634.0 746.3L633.7 746.0L633.7 744.0L632.0 742.3L631.7 742.0L630.0 740.3L629.7 740.0L628.0 738.3L627.7 738.0L626.0 736.3L625.7 736.0L624.0 734.3L623.7 734.0L622.0 732.3L621.7 732.0L621.7 730.0L620.0 728.3L619.7 728.0L618.0 726.3L617.7 726.0L616.0 724.3L615.7 724.0L614.0 722.3L613.7 722.0L612.0 720.3L611.7 720.0L611.7 718.0L610.0 716.3L609.7 716.0L608.0 714.3L607.7 714.0L606.0 712.3L605.7 712.0L604.0 710.3L603.7 710.0L602.0 708.3L601.7 708.0L600.0 706.3L599.7 706.0L599.7 704.0L598.0 702.3L597.7 702.0L596.0 700.3L595.7 700.0L594.0 698.3L593.7 698.0L592.0 696.3L591.7 696.0L590.0 694.3L589.7 694.0L589.7 692.0L588.0 690.3L587.7 690.0L586.0 688.3L585.7 688.0L584.0 686.3L583.7 686.0L582.0 684.3L581.7 684.0L580.0 682.3L579.7 682.0L579.7 680.0L578.0 678.3L577.7 678.0L576.0 676.3L575.7 676.0L574.0 674.3L573.7 674.0L572.0 672.3L571.7 672.0L570.0 670.3L569.7 670.0L568.0 668.3L567.7 668.0L567.7 666.0L566.0 664.3L565.6 664.0L565.6 662.0L565.6 660.0L565.6 658.0L565.6 656.0L565.6 654.0L565.6 652.0L565.6 650.0L565.6 648.0L565.6 646.0L565.1 644.0L566.0 643.1L567.1 642.0L568.0 641.1L569.1 640.0L570.0 639.1L571.1 638.0L572.0 637.1L573.1 636.0L574.0 635.1L575.1 634.0L576.0 633.1L577.1 632.0L578.0 631.1L579.1 630.0L580.0 629.1L582.0 629.5L583.5 628.0L584.0 627.5L585.5 626.0L586.0 625.5L587.5 624.0L588.0 623.5L589.5 622.0L590.0 621.5L591.5 620.0L592.0 619.5L593.5 618.0L594.0 617.5L595.5 616.0L596.0 615.5L597.5 614.0L598.0 613.5L599.5 612.0L600.0 611.5L601.5 610.0L602.0 609.5L603.5 608.0L604.0 607.4L605.4 606.0L606.0 605.4L607.4 604.0ZM498.0 683.4L500.0 683.1L502.0 683.1L504.0 684.0L504.0 684.1L504.1 686.0L504.0 686.3L503.2 688.0L502.2 690.0L502.0 690.2L500.8 692.0L500.0 693.1L499.4 694.0L498.0 696.0L498.0 696.0L496.5 698.0L496.0 698.7L495.0 700.0L494.0 701.3L493.4 702.0L492.0 703.9L491.9 704.0L490.4 706.0L490.0 706.5L488.9 708.0L488.0 709.1L487.3 710.0L486.0 711.6L485.7 712.0L484.2 714.0L484.0 714.2L482.6 716.0L482.0 716.7L481.0 718.0L480.0 719.2L479.3 720.0L478.0 721.7L477.7 722.0L476.2 724.0L476.0 724.2L474.4 726.0L474.0 726.5L472.6 728.0L472.0 728.8L470.7 730.0L470.0 730.9L468.5 732.0L468.0 732.6L467.0 732.0L466.7 730.0L466.9 728.0L467.1 726.0L467.4 724.0L467.8 722.0L468.0 720.6L468.1 720.0L468.4 718.0L468.6 716.0L468.7 714.0L468.2 712.0L468.0 711.8L466.0 710.2L465.6 710.0L464.0 708.7L463.2 708.0L462.0 706.1L461.9 706.0L461.4 704.0L461.5 702.0L462.0 700.7L462.3 700.0L464.0 698.3L464.3 698.0L466.0 697.0L468.0 696.0L468.0 696.0L470.0 695.3L472.0 694.6L474.0 694.0L474.0 694.0L476.0 693.5L478.0 692.9L480.0 692.0L480.0 692.0L482.0 690.6L482.9 690.0L484.0 689.3L486.0 688.2L486.4 688.0L488.0 687.2L490.0 686.3L490.7 686.0L492.0 685.4L494.0 684.7L496.0 684.0L496.0 684.0ZM206.0 685.7L208.0 685.6L210.0 685.6L212.0 685.6L214.0 685.6L216.0 685.6L218.0 685.6L220.0 685.6L222.0 685.6L223.7 686.0L224.0 686.3L226.0 687.8L226.2 688.0L228.0 689.6L228.2 690.0L229.8 692.0L230.0 692.2L231.3 694.0L232.0 695.0L233.5 696.0L234.0 696.6L234.9 696.0L236.0 694.9L237.6 694.0L238.0 693.8L240.0 693.2L242.0 693.5L244.0 693.7L246.0 693.5L248.0 693.2L250.0 693.4L252.0 693.7L254.0 693.9L255.1 694.0L256.0 694.1L258.0 694.7L260.0 695.9L260.2 696.0L261.8 698.0L262.0 698.3L262.7 700.0L262.9 702.0L262.9 704.0L262.8 706.0L262.6 708.0L262.7 710.0L263.0 712.0L263.6 714.0L264.0 715.1L264.3 716.0L265.2 718.0L266.0 719.8L266.1 720.0L267.0 722.0L267.9 724.0L268.0 724.1L269.3 726.0L270.0 726.5L271.9 728.0L270.0 728.5L268.0 728.8L266.0 729.0L264.0 729.1L262.0 729.2L260.8 728.0L260.0 727.2L259.6 728.0L259.6 730.0L259.6 732.0L259.6 734.0L259.6 736.0L259.6 738.0L259.6 740.0L259.6 742.0L259.6 744.0L259.6 746.0L259.6 748.0L259.6 750.0L259.6 752.0L259.6 754.0L259.6 756.0L259.6 758.0L259.6 760.0L259.6 762.0L259.6 764.0L259.6 766.0L259.6 768.0L259.6 770.0L259.6 772.0L259.6 774.0L259.6 776.0L259.6 778.0L259.6 780.0L259.6 782.0L259.6 784.0L259.6 786.0L259.6 788.0L259.6 790.0L259.6 792.0L259.6 794.0L259.6 796.0L259.6 798.0L258.0 798.0L256.0 798.0L254.0 798.0L252.0 798.0L250.0 798.0L248.0 798.0L246.0 798.0L244.0 798.0L242.0 798.0L240.0 798.0L238.0 798.0L236.0 798.0L234.0 798.0L232.0 798.0L230.0 798.0L228.0 798.0L226.0 798.0L224.0 798.0L222.0 798.0L220.0 798.0L218.0 798.0L216.0 798.0L214.0 798.0L212.0 798.0L210.0 798.0L208.0 798.0L206.0 798.0L204.0 798.0L202.0 798.0L200.0 798.0L198.0 798.0L196.0 798.0L194.0 798.0L192.0 798.0L190.0 798.0L188.0 798.0L186.0 798.0L184.0 798.0L182.0 798.0L180.0 798.0L178.0 798.0L176.0 798.0L174.0 798.0L172.0 798.0L170.0 798.0L168.0 798.0L166.0 798.0L164.0 798.0L162.0 798.0L160.0 798.0L158.0 798.0L156.0 798.0L154.0 798.0L152.0 798.0L150.0 798.0L148.0 798.0L146.0 798.0L144.0 798.0L142.0 798.0L140.0 798.0L138.0 798.0L136.0 798.0L134.0 798.0L132.0 798.0L130.0 798.0L128.0 798.0L126.0 798.0L124.0 798.0L122.0 798.0L120.0 798.0L118.0 798.0L116.0 798.0L114.0 798.0L112.0 798.0L110.0 798.0L108.0 798.0L106.0 798.0L104.0 798.0L102.0 798.0L100.0 798.0L98.0 798.0L96.0 798.0L94.0 798.0L92.0 798.0L90.0 798.0L88.0 798.0L86.0 798.0L84.0 798.0L82.0 798.0L80.0 798.0L80.0 796.0L80.0 794.0L80.0 792.0L80.0 790.0L80.0 788.0L80.0 786.0L80.0 784.0L80.0 782.0L80.0 780.0L80.0 778.0L80.0 776.0L80.0 774.0L80.0 772.0L80.0 770.0L80.0 768.0L80.0 766.0L80.0 764.0L80.0 762.0L80.0 760.0L80.0 758.0L80.0 756.0L80.0 754.0L80.0 752.0L80.0 750.0L80.0 748.0L80.0 746.0L80.0 744.9L80.9 744.0L82.0 742.9L84.0 742.9L84.9 742.0L86.0 740.9L88.0 740.9L90.0 740.9L90.9 740.0L92.0 738.9L94.0 738.9L94.9 738.0L96.0 736.9L98.0 736.9L100.0 736.9L100.9 736.0L102.0 734.9L104.0 734.9L104.9 734.0L106.0 732.9L108.0 732.9L110.0 732.9L110.9 732.0L112.0 730.9L114.0 730.9L114.9 730.0L116.0 728.9L118.0 728.9L120.0 728.9L120.9 728.0L122.0 726.9L124.0 726.9L124.9 726.0L126.0 724.9L128.0 724.9L130.0 724.9L130.9 724.0L132.0 722.9L134.0 722.9L134.9 722.0L136.0 720.9L138.0 720.9L140.0 720.9L140.9 720.0L142.0 718.9L144.0 718.9L144.9 718.0L146.0 716.9L148.0 716.9L150.0 716.9L150.9 716.0L152.0 714.9L154.0 714.9L154.9 714.0L156.0 712.9L158.0 712.9L160.0 712.9L160.9 712.0L162.0 710.9L164.0 710.9L165.7 710.0L166.0 709.7L168.0 709.7L169.7 708.0L170.0 707.7L171.7 706.0L172.0 705.7L174.0 705.7L175.7 704.0L176.0 703.7L178.0 703.7L179.7 702.0L180.0 701.7L181.7 700.0L182.0 699.7L184.0 699.7L185.7 698.0L186.0 697.7L188.0 697.7L189.7 696.0L190.0 695.7L191.7 694.0L192.0 693.7L194.0 693.7L195.7 692.0L196.0 691.7L198.0 691.7L199.7 690.0L200.0 689.7L201.7 688.0L202.0 687.7L204.0 687.7L205.7 686.0ZM512.0 696.5L514.0 697.1L514.9 698.0L516.0 699.1L516.9 700.0L516.9 702.0L518.0 703.1L518.9 704.0L520.0 705.1L520.9 706.0L522.0 707.1L522.9 708.0L524.0 709.1L524.9 710.0L526.0 711.1L526.9 712.0L526.9 714.0L528.0 715.1L528.9 716.0L530.0 717.1L530.9 718.0L532.0 719.1L532.9 720.0L534.0 721.1L534.9 722.0L536.0 723.1L536.9 724.0L538.0 725.1L538.9 726.0L538.9 728.0L540.0 729.1L540.9 730.0L542.0 731.1L542.9 732.0L544.0 733.1L544.9 734.0L546.0 735.1L546.9 736.0L548.0 737.1L548.9 738.0L548.9 740.0L550.0 741.1L550.9 742.0L552.0 743.1L552.9 744.0L554.0 745.1L554.9 746.0L556.0 747.1L556.9 748.0L558.0 749.1L558.9 750.0L558.9 752.0L560.0 753.1L560.9 754.0L562.0 755.1L562.9 756.0L564.0 757.1L564.9 758.0L566.0 759.1L566.9 760.0L568.0 761.1L568.9 762.0L570.0 763.1L570.9 764.0L570.9 766.0L572.0 767.1L572.9 768.0L574.0 769.1L574.9 770.0L576.0 771.1L576.9 772.0L578.0 773.1L578.9 774.0L580.0 775.1L580.9 776.0L580.9 778.0L582.0 779.1L582.9 780.0L584.0 781.1L584.9 782.0L586.0 783.1L586.9 784.0L588.0 785.1L588.9 786.0L590.0 787.1L590.9 788.0L590.9 790.0L592.0 791.1L592.9 792.0L594.0 793.1L594.9 794.0L596.0 795.1L596.9 796.0L598.0 797.1L598.9 798.0L598.0 798.0L596.9 798.0L596.0 797.1L594.0 797.1L592.9 796.0L592.0 795.1L590.9 794.0L590.0 793.1L588.0 793.1L586.9 792.0L586.0 791.1L584.0 791.1L582.9 790.0L582.0 789.1L580.9 788.0L580.0 787.1L578.0 787.1L576.9 786.0L576.0 785.1L574.0 785.1L572.9 784.0L572.0 783.1L570.9 782.0L570.0 781.1L568.0 781.1L566.9 780.0L566.0 779.1L564.0 779.1L562.9 778.0L562.0 777.1L560.9 776.0L560.0 775.1L558.0 775.1L556.9 774.0L556.0 773.1L554.0 773.1L552.9 772.0L552.0 771.1L550.9 770.0L550.0 769.1L548.0 769.1L546.9 768.0L546.0 767.1L544.0 767.1L542.9 766.0L542.0 765.1L540.9 764.0L540.0 763.1L538.0 763.1L536.9 762.0L536.0 761.1L534.0 761.1L532.9 760.0L532.0 759.1L530.0 759.1L528.9 758.0L528.0 757.1L526.9 756.0L526.0 755.1L524.0 755.1L522.9 754.0L522.0 753.1L520.0 753.1L518.9 752.0L518.0 751.1L516.9 750.0L516.0 749.1L514.0 749.1L512.9 748.0L512.0 747.1L510.0 747.1L508.9 746.0L508.0 745.1L506.9 744.0L506.0 743.1L504.0 743.1L502.9 742.0L502.0 741.1L500.0 741.1L498.9 740.0L498.0 739.1L496.9 738.0L496.0 737.1L494.0 737.1L492.8 736.0L492.8 734.0L492.0 733.2L490.8 732.0L490.0 731.2L488.8 730.0L488.0 729.2L486.8 728.0L486.0 727.2L484.8 726.0L484.6 724.0L486.0 722.6L486.6 722.0L488.0 720.6L488.6 720.0L490.0 718.6L490.6 718.0L492.0 716.6L492.6 716.0L494.0 714.5L494.5 714.0L496.0 712.5L496.5 712.0L498.0 710.5L498.5 710.0L500.0 708.5L500.5 708.0L502.0 706.5L502.5 706.0L504.0 704.5L504.5 704.0L506.0 702.5L506.5 702.0L508.0 700.5L508.5 700.0L510.0 698.5L510.5 698.0ZM272.0 728.1L274.0 729.2L275.4 730.0L274.0 730.4L272.0 730.7L271.3 730.0Z" fill="#61b8ff" fill-rule="evenodd"/>
<path d="M195.0 75.0 L480.0 75.0 L480.0 345.0 L195.0 345.0Z" fill="#3dba3d"/>
<path d="M195.0 215.0 L335.0 215.0 L335.0 345.0 L195.0 345.0Z" fill="#3dba3d"/>
<path d="M300.0 222.5 L310.0 231.7 L310.8 238.3 L315.0 241.7 L321.7 242.5 L326.7 245.8 L328.3 253.3 L326.7 261.7 L324.2 270.0 L320.0 275.8 L313.3 278.3 L308.3 281.7 L303.3 288.3 L298.3 293.3 L293.3 296.7 L286.7 300.8 L280.0 305.0 L276.7 303.3 L275.8 296.7 L274.2 291.7 L270.0 290.0 L273.3 285.0 L278.3 280.0 L281.7 275.8 L280.0 273.3 L275.0 274.2 L270.0 277.5 L265.8 281.7 L261.7 285.8 L256.7 290.0 L251.7 293.3 L249.2 297.5 L250.0 303.3 L253.3 309.2 L258.3 311.7 L265.0 314.2 L263.3 315.8 L256.7 316.7 L251.7 318.3 L248.3 321.7 L245.0 326.7 L240.8 331.7 L235.8 336.7 L230.8 340.8 L225.0 342.5 L221.7 341.7 L220.8 338.3 L222.5 333.3 L224.2 326.7 L225.8 320.0 L226.7 315.8 L225.0 313.3 L220.0 314.2 L215.0 316.7 L210.0 319.2 L205.0 320.8 L202.5 323.3 L195.0 313.0 L210.0 290.0 L212.0 260.0 L215.0 225.0 L240.0 218.0 L280.0 218.0 L297.0 215.0Z" fill="#a6f28f"/>
<path d="M224.2 233.3 L227.5 230.8 L230.8 232.5 L234.2 235.0 L237.5 234.2 L240.0 230.8 L242.5 230.0 L245.8 230.8 L248.3 233.3 L247.5 235.8 L244.2 237.5 L240.8 239.2 L237.5 241.7 L234.2 243.3 L230.8 242.5 L227.5 240.8 L225.0 237.5Z" fill="#3dba3d"/>
<path d="M300.0 160.0 L390.0 160.0 L390.0 222.0 L300.0 222.0Z" fill="#3dba3d"/>
<path d="M384.4 164.4 L385.1 174.4 L383.3 181.1 L376.7 184.4 L371.1 187.8 L365.6 191.1 L362.2 197.8 L360.0 205.6 L356.7 212.2 L352.2 218.9 L346.7 222.2 L338.9 222.9 L332.2 221.1 L325.6 220.0 L318.9 221.1 L313.3 223.3 L310.0 225.6 L308.9 221.1 L311.1 215.6 L315.6 211.1 L322.2 205.6 L330.0 201.1 L337.8 196.7 L345.6 193.3 L353.3 192.2 L358.9 191.1 L363.3 186.7 L368.9 180.0 L374.4 173.3 L378.9 167.8Z" fill="#a6f28f"/>
<path d="M275.0 160.0 L320.0 160.0 L320.0 205.0 L275.0 205.0Z" fill="#3dba3d"/>
<path d="M277.0 180.0 L286.7 178.3 L293.3 173.3 L298.3 166.0 L302.7 165.0 L304.0 171.7 L310.0 175.0 L308.3 180.0 L301.7 185.0 L295.0 190.7 L288.3 195.0 L283.3 199.3 L278.0 198.0 L276.0 191.7 L277.0 185.0Z" fill="#a6f28f"/>
<path d="M390.0 110.0 L480.0 110.0 L480.0 215.0 L372.0 215.0 L372.0 185.0 L390.0 175.0Z" fill="#3dba3d"/>
<path d="M416.7 121.0 L431.0 121.0 L425.0 131.7 L418.3 141.7 L411.7 151.7 L405.0 160.0 L398.3 166.7 L394.0 165.0 L395.0 156.7 L400.0 148.3 L405.0 140.0 L410.0 131.7 L413.3 126.0Z" fill="#61b8ff"/>
<path d="M376.7 193.3 L381.7 188.3 L390.0 185.0 L398.3 184.0 L406.7 180.7 L415.0 179.3 L426.7 180.0 L435.0 182.7 L440.0 188.3 L445.0 186.0 L453.3 186.7 L463.3 188.3 L470.0 191.7 L468.3 200.0 L463.3 210.0 L460.0 213.3 L453.3 210.0 L446.7 206.7 L440.0 208.3 L430.0 209.3 L420.0 206.7 L411.7 203.3 L405.0 206.7 L396.7 208.3 L386.7 206.7 L380.0 204.0 L376.0 200.0Z" fill="#61b8ff"/>
<path d="M410.0 195.0 L415.0 188.3 L420.0 186.0 L426.7 186.7 L431.7 191.7 L433.3 196.7 L428.3 200.0 L420.0 200.7 L413.3 199.3Z" fill="#0000e1"/>
<clipPath id="t0"><rect shape-rendering="crispEdges" x="90.0" y="340.0" width="200.0" height="195.0"/></clipPath>
<g clip-path="url(#t0)">
<rect x="88.0" y="338.0" width="204.0" height="199.0" fill="#3dba3d"/>
<path d="M165.6 390.0 L172.2 382.2 L181.1 376.7 L190.0 374.4 L198.9 375.6 L205.6 376.7 L214.4 373.3 L223.3 372.9 L227.8 376.7 L232.2 382.2 L234.4 387.8 L232.2 393.3 L225.6 396.7 L220.0 401.1 L214.4 405.6 L210.0 411.1 L205.6 415.6 L201.1 416.7 L196.7 413.3 L190.0 411.6 L183.3 411.1 L181.1 416.7 L182.2 423.3 L180.0 427.8 L174.4 428.9 L167.8 432.2 L162.2 437.8 L156.7 441.1 L151.1 443.3 L144.4 445.6 L137.8 447.8 L132.2 446.7 L127.8 443.3 L126.7 437.8 L128.9 432.2 L133.3 427.8 L138.9 425.6 L144.4 424.4 L147.8 420.0 L148.9 413.3 L151.1 406.7 L154.4 400.0 L158.9 394.4Z" fill="#61b8ff"/>
<path d="M292.7 362.2 L287.8 360.0 L286.7 353.3 L283.3 350.0 L276.7 351.1 L270.0 355.6 L263.3 361.1 L261.1 366.7 L260.0 373.3 L258.9 380.0 L253.3 386.7 L245.6 392.2 L238.9 396.7 L235.6 402.2 L236.7 408.9 L238.9 415.6 L243.3 421.1 L244.4 425.6 L238.9 427.8 L232.2 430.0 L226.7 433.3 L223.3 438.9 L222.9 445.6 L225.6 451.1 L230.0 454.4 L232.2 461.1 L230.0 467.8 L225.6 472.2 L218.9 475.6 L212.2 477.8 L205.6 481.1 L198.9 482.2 L192.2 481.1 L185.6 480.0 L182.2 477.3 L187.8 473.3 L193.3 468.9 L196.7 463.3 L197.8 456.7 L198.9 450.0 L200.7 443.3 L200.0 437.8 L196.7 434.4 L191.1 433.3 L187.8 435.6 L185.6 441.1 L184.4 447.8 L182.2 453.3 L178.9 457.8 L174.4 462.2 L168.9 464.4 L163.3 464.4 L159.3 461.1 L158.9 456.0 L153.3 453.8 L147.8 453.3 L143.3 454.4 L140.0 457.8 L140.7 464.4 L142.9 471.1 L143.3 477.8 L142.2 484.4 L143.3 491.1 L146.7 496.7 L151.1 500.0 L155.6 505.6 L160.0 512.2 L163.3 520.0 L165.6 528.9 L166.7 537.7 L292.7 537.7Z" fill="#61b8ff"/>
<path d="M257.8 444.4 L262.2 440.0 L270.0 438.9 L278.9 438.9 L285.6 441.1 L292.7 443.3 L292.7 464.4 L283.3 463.3 L276.7 460.0 L270.0 455.6 L263.3 451.1 L258.9 448.9Z" fill="#3dba3d"/>
<path d="M217.1 517.8 L220.0 515.6 L223.3 520.0 L226.7 525.6 L227.8 530.0 L223.3 531.1 L220.0 527.8 L217.8 523.3Z" fill="#3dba3d"/>
<path d="M94.0 445.6 L97.8 444.0 L102.2 446.7 L102.2 451.1 L97.8 452.2 L94.4 450.0Z" fill="#61b8ff"/>
<path d="M134.4 376.7 L140.0 375.6 L142.2 381.1 L145.6 383.3 L143.3 387.8 L138.9 388.9 L136.7 384.4Z" fill="#a6f28f"/>
<path d="M123.3 392.2 L128.9 390.0 L134.4 392.2 L133.3 396.7 L128.9 400.0 L125.6 398.2Z" fill="#a6f28f"/>
<path d="M111.1 460.0 L115.6 460.0 L115.6 464.4 L111.1 464.4Z" fill="#a6f28f"/>
<path d="M186.7 506.7 L188.9 502.2 L193.3 501.1 L197.8 503.3 L200.0 508.9 L200.7 514.4 L198.4 519.6 L194.0 521.1 L190.0 518.9 L187.8 514.4Z" fill="#0000e1"/>
<path d="M249.6 525.6 L251.8 522.2 L255.6 521.1 L258.9 523.3 L260.0 527.1 L257.8 530.7 L254.0 531.6 L250.4 529.3Z" fill="#0000e1"/>
</g>
<clipPath id="t1"><rect shape-rendering="crispEdges" x="140.0" y="535.0" width="200.0" height="195.0"/></clipPath>
<g clip-path="url(#t1)">
<rect x="138.0" y="533.0" width="204.0" height="199.0" fill="#61b8ff"/>
<path d="M153.3 532.3 L164.9 532.3 L166.7 543.9 L166.2 552.8 L170.0 557.2 L175.6 558.3 L181.1 556.8 L186.7 558.3 L189.3 566.1 L189.3 575.0 L187.8 581.7 L182.2 583.9 L175.6 582.1 L170.0 578.3 L166.7 572.8 L163.3 566.1 L160.0 559.4 L156.7 552.8 L154.4 543.9Z" fill="#3dba3d"/>
<path d="M270.0 532.3 L304.4 532.3 L303.3 541.7 L301.1 548.3 L298.9 553.9 L295.6 558.3 L291.1 560.6 L284.4 558.3 L277.8 557.2 L272.2 556.1 L268.9 551.7 L270.0 545.0 L271.1 539.4Z" fill="#3dba3d"/>
<path d="M253.3 591.7 L256.7 587.2 L262.2 586.1 L267.1 588.3 L268.9 593.9 L269.3 599.4 L266.7 602.8 L261.1 600.6 L256.7 597.2 L253.8 594.6Z" fill="#3dba3d"/>
<path d="M342.7 609.4 L333.3 607.2 L327.8 601.7 L324.4 593.9 L322.2 586.1 L318.9 579.4 L315.6 572.8 L310.0 567.2 L303.3 563.9 L296.7 566.1 L290.0 569.4 L284.4 572.8 L281.1 576.1 L284.4 579.4 L291.1 581.7 L297.8 585.0 L304.4 589.4 L310.0 595.0 L314.4 601.7 L317.8 607.2 L318.9 611.7 L315.6 615.0 L311.1 612.8 L305.6 610.6 L298.9 611.7 L293.3 613.9 L288.9 618.3 L285.6 625.0 L282.2 631.7 L277.8 637.2 L273.3 641.7 L267.8 646.1 L262.2 647.2 L256.7 645.0 L254.4 639.4 L255.6 632.8 L253.3 625.0 L248.9 620.6 L243.3 617.2 L237.8 613.9 L234.4 609.4 L231.1 609.4 L230.0 615.0 L225.6 620.6 L221.1 625.0 L217.8 629.4 L211.1 632.8 L205.6 635.0 L197.8 636.1 L197.8 732.7 L342.7 732.7Z" fill="#3dba3d"/>
<path d="M342.7 632.8 L333.3 633.9 L326.7 636.1 L320.0 638.3 L314.4 640.6 L311.1 645.0 L312.2 650.6 L317.8 652.8 L323.3 655.0 L328.9 659.4 L333.3 662.8 L342.7 665.0Z" fill="#61b8ff"/>
<path d="M251.1 659.4 L257.8 657.2 L265.6 658.3 L271.1 662.8 L274.4 670.6 L276.0 678.3 L274.4 686.1 L276.0 693.9 L274.4 701.7 L276.7 708.3 L273.3 715.0 L266.7 719.4 L263.3 726.1 L260.0 732.7 L215.6 732.7 L217.8 719.4 L223.3 712.8 L226.7 706.1 L226.7 699.4 L224.4 691.7 L223.3 685.0 L227.8 681.7 L235.6 680.6 L242.2 677.2 L246.7 671.7 L248.9 665.0Z" fill="#61b8ff"/>
<path d="M251.1 677.2 L255.6 675.0 L261.1 676.1 L264.0 680.6 L261.8 684.3 L255.6 684.3 L251.6 681.7Z" fill="#3dba3d"/>
<path d="M232.9 707.2 L235.6 702.8 L241.1 700.6 L248.9 699.0 L257.8 698.3 L263.3 698.3 L264.4 700.6 L257.8 703.9 L251.1 707.2 L246.7 711.7 L242.7 715.0 L237.8 714.6 L233.8 711.7Z" fill="#3dba3d"/>
<path d="M291.1 696.1 L295.6 688.3 L300.0 686.1 L302.2 690.6 L308.9 693.9 L317.8 695.0 L317.8 703.9 L315.6 710.6 L308.9 711.7 L302.2 710.1 L295.6 709.4 L291.6 703.9Z" fill="#a6f28f"/>
<path d="M331.1 686.1 L342.7 683.9 L342.7 695.0 L335.6 693.9 L331.6 690.6Z" fill="#a6f28f"/>
<path d="M336.7 701.7 L342.7 700.6 L342.7 709.4 L337.3 707.9Z" fill="#a6f28f"/>
<path d="M315.6 540.6 L317.8 538.3 L321.1 539.0 L324.0 542.8 L324.0 547.2 L321.1 550.1 L317.8 548.3 L316.0 545.0Z" fill="#0000e1"/>
</g>
<clipPath id="t2"><rect shape-rendering="crispEdges" x="290.0" y="255.0" width="200.0" height="195.0"/></clipPath>
<g clip-path="url(#t2)">
<rect x="288.0" y="253.0" width="204.0" height="199.0" fill="#3dba3d"/>
<path d="M287.3 252.3 L327.8 252.3 L326.7 261.7 L323.3 268.3 L316.7 273.9 L310.0 277.2 L305.6 280.6 L301.1 286.1 L296.7 292.8 L292.2 297.2 L287.3 298.3Z" fill="#a6f28f"/>
<path d="M337.8 306.1 L344.4 302.8 L352.2 302.8 L361.1 300.6 L370.0 299.4 L378.9 298.3 L385.6 299.4 L387.8 303.9 L386.7 309.4 L383.3 315.0 L377.8 319.4 L371.1 322.8 L364.4 326.1 L358.9 330.6 L354.4 336.1 L351.1 342.8 L348.9 350.6 L347.8 358.3 L345.6 366.1 L343.3 372.8 L345.6 376.1 L350.0 378.3 L351.8 383.9 L348.9 389.4 L344.4 391.7 L345.6 399.4 L345.1 407.2 L343.3 413.9 L337.8 416.1 L330.0 417.2 L321.1 416.8 L312.2 418.3 L303.3 419.4 L297.8 421.7 L300.0 425.0 L307.8 427.2 L314.4 428.3 L321.1 430.6 L327.8 432.8 L333.3 436.1 L336.7 441.7 L337.8 452.7 L287.3 452.7 L287.3 361.7 L294.4 359.4 L301.1 357.7 L308.9 356.1 L316.7 355.0 L323.3 353.9 L330.0 349.4 L328.9 342.8 L325.6 336.1 L325.1 329.4 L326.7 322.8 L330.0 316.1 L333.3 310.6Z" fill="#61b8ff"/>
<path d="M441.1 268.3 L445.6 263.9 L452.2 262.8 L461.1 261.7 L467.8 258.3 L474.4 259.4 L481.1 262.8 L492.7 265.0 L492.7 376.1 L478.9 376.8 L474.0 379.4 L472.7 386.1 L468.9 386.1 L462.2 389.4 L455.6 391.0 L448.9 388.3 L443.3 380.6 L436.7 376.8 L432.2 373.9 L426.7 371.7 L421.1 372.8 L414.4 375.0 L408.9 373.9 L403.3 370.6 L401.1 366.1 L404.4 361.7 L407.8 356.1 L408.9 350.6 L405.6 352.8 L400.0 358.3 L393.3 361.7 L387.8 363.9 L386.7 367.2 L390.0 371.7 L388.9 377.2 L384.4 381.7 L378.9 385.0 L373.3 386.1 L372.2 381.7 L374.4 376.1 L377.8 371.7 L378.9 366.1 L376.7 359.4 L374.4 352.8 L375.6 347.2 L380.0 343.9 L385.6 340.6 L390.0 338.3 L396.7 339.4 L403.3 339.0 L410.0 337.2 L416.7 333.9 L422.2 329.4 L426.7 325.0 L428.9 319.4 L425.6 316.1 L422.2 311.7 L425.6 306.1 L431.1 302.8 L436.7 301.7 L441.1 299.4 L438.9 296.1 L434.4 295.0 L430.0 296.1 L425.6 292.8 L424.4 286.1 L426.7 279.4 L432.2 276.1 L437.8 273.9Z" fill="#61b8ff"/>
<path d="M426.7 388.3 L430.0 385.7 L434.4 386.6 L436.7 390.6 L434.4 395.0 L430.0 396.1 L426.7 393.2Z" fill="#61b8ff"/>
<path d="M365.6 425.0 L371.1 420.6 L377.8 416.8 L384.4 414.6 L388.9 415.4 L387.8 419.4 L382.2 422.8 L376.7 425.7 L371.1 428.3 L366.7 427.9Z" fill="#61b8ff"/>
<path d="M423.3 452.7 L425.6 445.0 L431.1 441.7 L437.8 439.9 L443.3 441.2 L445.1 446.1 L444.4 452.7Z" fill="#61b8ff"/>
<path d="M492.7 440.6 L485.6 446.1 L484.4 452.7 L492.7 452.7Z" fill="#a6f28f"/>
</g>
<clipPath id="t3"><rect shape-rendering="crispEdges" x="290.0" y="450.0" width="200.0" height="195.0"/></clipPath>
<g clip-path="url(#t3)">
<rect x="288.0" y="448.0" width="204.0" height="199.0" fill="#3dba3d"/>
<path d="M287.3 447.3 L334.4 447.3 L340.0 454.4 L345.6 460.0 L348.9 466.7 L345.6 473.3 L341.1 478.9 L344.4 483.3 L351.1 485.6 L357.8 483.3 L364.4 480.0 L368.9 475.6 L373.3 471.1 L378.9 467.8 L385.6 465.6 L392.2 466.7 L398.9 465.1 L405.6 462.2 L412.2 458.9 L418.9 456.2 L423.3 452.2 L424.4 447.3 L444.4 447.3 L443.3 456.7 L442.2 463.3 L443.3 470.0 L448.9 472.2 L455.6 471.1 L460.0 474.4 L461.1 480.0 L457.8 486.7 L453.3 492.2 L448.9 496.7 L443.3 500.0 L436.7 501.1 L430.0 500.7 L423.3 501.6 L416.7 502.2 L411.1 500.0 L408.9 495.6 L410.0 490.0 L408.9 485.6 L404.4 483.3 L397.8 483.3 L391.1 483.8 L384.4 483.3 L377.8 482.9 L371.1 482.2 L365.6 484.4 L360.0 487.8 L356.7 492.2 L355.6 497.8 L356.2 504.4 L356.7 511.1 L357.8 516.7 L361.1 521.1 L366.7 524.4 L373.3 524.4 L380.0 523.8 L386.7 522.2 L392.2 520.0 L396.7 521.1 L396.2 525.6 L392.2 530.0 L388.9 534.4 L393.3 537.8 L398.9 540.0 L403.3 544.4 L405.1 551.1 L404.4 557.8 L402.2 564.4 L397.8 571.1 L392.2 575.6 L386.7 580.0 L381.1 584.4 L375.6 588.9 L368.9 593.3 L363.3 597.8 L357.8 602.2 L353.3 605.6 L348.9 603.3 L345.6 598.9 L340.0 593.3 L334.4 587.8 L328.9 582.9 L323.3 578.9 L318.4 574.9 L315.6 570.0 L311.1 566.7 L306.7 563.8 L302.2 561.8 L300.0 558.9 L300.7 552.2 L300.0 545.6 L297.8 538.9 L294.4 535.6 L287.3 534.4Z" fill="#61b8ff"/>
<path d="M287.3 585.6 L294.4 583.3 L301.1 582.9 L307.8 584.4 L313.3 587.8 L317.8 593.3 L320.0 600.0 L320.7 606.7 L318.9 613.3 L314.4 617.8 L308.9 616.7 L303.3 613.3 L297.8 611.1 L292.2 610.4 L287.3 611.1Z" fill="#61b8ff"/>
<path d="M311.1 647.7 L313.3 641.1 L317.8 638.4 L323.3 638.9 L327.3 642.9 L328.2 647.7Z" fill="#61b8ff"/>
<path d="M308.9 462.2 L312.2 458.9 L317.8 456.7 L323.3 455.6 L326.7 457.8 L325.6 461.1 L321.1 462.9 L314.4 463.8Z" fill="#3dba3d"/>
<path d="M418.9 535.6 L421.1 531.8 L426.7 530.0 L432.2 530.4 L436.7 533.3 L435.6 537.1 L430.0 538.9 L423.3 538.9Z" fill="#61b8ff"/>
<path d="M478.9 447.3 L492.7 447.3 L492.7 483.3 L483.3 485.6 L477.8 488.9 L473.3 494.4 L468.9 500.0 L466.7 507.8 L465.6 514.4 L467.8 518.9 L474.4 521.1 L483.3 522.2 L492.7 523.3 L492.7 583.3 L483.3 581.1 L476.7 580.0 L470.0 581.1 L464.4 578.9 L460.0 573.3 L456.7 566.7 L453.3 560.0 L450.0 553.3 L448.9 546.7 L451.1 540.0 L454.4 534.4 L457.8 528.9 L458.9 521.1 L457.8 514.4 L458.9 506.7 L462.2 500.0 L465.6 493.3 L470.0 485.6 L473.3 478.9 L476.2 470.0 L477.8 458.9Z" fill="#a6f28f"/>
<path d="M413.3 615.6 L417.8 611.1 L425.6 608.2 L434.4 606.7 L443.3 604.4 L450.0 602.2 L456.7 600.0 L462.2 601.1 L467.8 598.9 L474.4 596.7 L481.1 597.8 L492.7 598.9 L492.7 647.7 L445.6 647.7 L443.3 638.9 L438.9 633.3 L434.4 627.8 L428.9 625.6 L423.3 628.9 L418.9 634.4 L414.4 637.8 L411.1 634.4 L412.2 627.8 L414.4 621.1Z" fill="#a6f28f"/>
<path d="M441.1 613.3 L444.4 610.4 L448.9 611.1 L452.2 615.6 L451.1 620.0 L446.7 621.6 L442.9 618.4Z" fill="#3dba3d"/>
<path d="M481.6 627.8 L485.6 625.6 L492.7 626.0 L492.7 634.4 L485.1 634.9 L482.2 632.2Z" fill="#3dba3d"/>
<path d="M363.3 636.7 L366.7 631.1 L372.2 626.7 L378.9 624.4 L385.6 623.8 L388.9 626.0 L387.8 631.1 L383.3 635.6 L377.8 638.9 L371.1 641.6 L366.7 647.7 L356.7 647.7 L360.0 641.1Z" fill="#a6f28f"/>
<path d="M315.6 541.1 L317.8 538.4 L321.1 538.0 L323.8 541.1 L325.1 545.6 L323.3 549.1 L320.0 550.0 L317.1 547.3Z" fill="#0000e1"/>
<path d="M377.8 554.4 L380.7 552.7 L383.8 554.0 L384.4 556.7 L382.2 560.0 L379.6 561.1 L378.0 558.4Z" fill="#0000e1"/>
<path d="M353.3 581.1 L356.7 577.8 L361.1 574.9 L366.7 572.2 L370.0 573.3 L369.6 577.8 L366.7 581.1 L361.6 583.3 L356.7 584.4Z" fill="#0000e1"/>
</g>
<clipPath id="t4"><rect shape-rendering="crispEdges" x="330.0" y="645.0" width="200.0" height="150.0"/></clipPath>
<g clip-path="url(#t4)">
<rect x="328.0" y="643.0" width="204.0" height="154.0" fill="#3dba3d"/>
<path d="M414.4 633.3 L415.6 626.7 L414.4 618.9 L417.8 612.2 L424.4 608.9 L432.2 606.7 L441.1 605.6 L450.0 602.2 L458.9 597.3 L507.8 597.3 L510.0 606.7 L514.4 612.2 L517.8 620.0 L518.9 627.8 L516.7 635.6 L512.2 638.9 L504.4 639.6 L496.7 638.2 L488.9 637.8 L481.1 637.3 L472.2 637.8 L463.3 636.7 L455.6 637.3 L450.0 640.0 L446.7 636.7 L450.0 631.1 L445.6 626.7 L441.1 622.2 L438.9 628.9 L434.4 626.7 L431.1 630.0 L425.6 633.3 L420.0 635.1Z" fill="#a6f28f"/>
<path d="M440.7 612.2 L444.4 610.0 L448.9 613.3 L450.0 618.9 L446.7 620.4 L442.2 617.8Z" fill="#3dba3d"/>
<path d="M364.4 635.6 L367.8 630.0 L373.3 626.2 L380.0 624.0 L386.7 623.3 L388.9 626.7 L386.7 632.2 L382.2 636.7 L375.6 638.9 L368.9 639.6Z" fill="#a6f28f"/>
<path d="M439.3 647.8 L443.3 643.3 L448.9 642.2 L453.3 644.4 L454.0 650.0 L451.1 654.4 L446.7 653.3 L442.2 652.2Z" fill="#a6f28f"/>
<path d="M496.7 664.4 L501.1 660.4 L507.8 658.2 L515.6 656.7 L521.1 658.2 L521.6 662.2 L516.7 665.6 L510.0 667.3 L503.3 667.8 L498.9 667.1Z" fill="#a6f28f"/>
<path d="M327.3 685.6 L335.6 683.3 L341.1 680.4 L347.8 676.7 L354.4 674.4 L361.1 674.4 L368.9 676.7 L375.6 680.4 L382.2 685.6 L388.2 692.2 L391.8 700.0 L392.2 707.8 L388.9 713.3 L384.4 718.9 L380.0 723.3 L375.6 726.7 L371.1 724.4 L374.4 720.0 L377.8 715.6 L373.3 714.4 L367.8 715.1 L361.1 713.3 L355.6 714.4 L352.2 720.0 L351.1 726.7 L352.2 733.3 L350.0 737.8 L343.3 733.3 L338.9 724.4 L334.4 711.1 L327.3 700.0Z" fill="#a6f28f"/>
<path d="M371.1 728.9 L374.4 725.6 L380.0 724.0 L385.6 725.6 L384.4 729.3 L378.9 731.1 L374.4 731.1Z" fill="#a6f28f"/>
<path d="M442.2 704.4 L445.6 698.9 L451.1 695.6 L457.8 693.3 L465.6 691.1 L474.4 688.9 L483.3 687.8 L492.2 687.1 L499.3 688.9 L500.0 694.4 L497.8 700.0 L494.4 705.6 L490.0 707.8 L483.3 708.9 L476.7 709.3 L472.2 711.1 L468.9 714.4 L466.7 718.9 L462.2 716.7 L456.7 713.3 L451.1 711.1 L445.6 708.9Z" fill="#61b8ff"/>
<path d="M461.6 706.7 L464.4 704.9 L468.2 707.8 L470.0 712.2 L466.7 713.3 L462.9 710.7Z" fill="#3dba3d"/>
<path d="M327.3 652.2 L335.6 650.7 L342.2 652.9 L345.1 657.3 L342.2 661.8 L336.7 664.0 L327.3 663.3Z" fill="#61b8ff"/>
<path d="M436.7 718.9 L440.0 717.3 L444.4 723.3 L448.9 730.0 L451.1 733.3 L447.8 733.3 L443.3 727.8 L438.9 722.2Z" fill="#61b8ff"/>
<path d="M402.9 714.4 L405.6 715.6 L411.1 721.1 L416.7 727.8 L421.6 732.9 L420.0 734.4 L414.4 730.0 L408.9 723.3 L404.4 717.8Z" fill="#61b8ff"/>
<path d="M467.3 775.6 L472.2 772.9 L474.0 776.7 L471.1 781.1 L467.8 780.4Z" fill="#61b8ff"/>
</g>
<clipPath id="t5"><rect shape-rendering="crispEdges" x="490.0" y="470.0" width="200.0" height="195.0"/></clipPath>
<g clip-path="url(#t5)">
<rect x="488.0" y="468.0" width="204.0" height="199.0" fill="#3dba3d"/>
<path d="M487.3 467.3 L503.3 467.3 L501.1 475.6 L496.7 480.0 L487.3 482.2Z" fill="#a6f28f"/>
<path d="M487.3 503.3 L496.7 506.7 L503.3 508.9 L510.0 511.1 L518.9 512.2 L527.8 511.8 L535.6 510.0 L541.1 505.6 L546.7 501.1 L553.3 496.2 L558.9 495.6 L563.3 500.0 L565.6 504.4 L561.1 510.0 L555.6 515.6 L551.1 522.2 L550.0 528.9 L552.2 535.6 L556.7 541.1 L561.1 546.7 L564.4 551.1 L561.1 555.6 L558.9 561.1 L556.7 567.8 L555.6 574.4 L554.4 581.1 L553.3 587.8 L551.1 593.3 L547.8 597.8 L543.3 601.1 L538.9 602.2 L536.7 597.8 L537.8 592.2 L534.4 587.8 L531.1 583.3 L528.9 576.7 L528.2 570.0 L525.6 565.6 L521.1 567.8 L516.7 571.1 L511.1 573.3 L505.6 574.4 L498.9 573.3 L493.3 571.1 L487.3 570.0Z" fill="#a6f28f"/>
<path d="M502.2 536.7 L504.4 532.7 L508.9 531.8 L512.2 534.4 L513.3 538.9 L510.4 542.9 L506.0 543.3 L502.9 540.7Z" fill="#3dba3d"/>
<path d="M528.9 567.8 L531.1 565.6 L533.3 570.0 L531.8 574.4 L529.6 573.3Z" fill="#3dba3d"/>
<path d="M523.3 498.9 L526.7 497.8 L527.3 502.2 L524.4 503.8Z" fill="#a6f28f"/>
<path d="M487.3 594.4 L496.7 593.3 L503.3 595.6 L507.8 601.1 L507.3 606.0 L514.4 608.9 L523.3 608.2 L531.1 606.0 L533.3 608.2 L527.8 612.2 L521.1 615.6 L516.2 621.1 L514.4 628.9 L515.6 637.8 L518.9 646.7 L521.1 655.6 L516.7 657.8 L508.9 658.9 L501.1 661.6 L496.7 667.7 L487.3 667.7Z" fill="#a6f28f"/>
<path d="M586.7 558.9 L591.1 556.7 L596.7 555.1 L600.0 555.6 L597.8 558.4 L592.2 560.0 L587.8 560.7Z" fill="#a6f28f"/>
<path d="M539.3 473.3 L542.2 467.3 L550.0 467.3 L551.1 472.2 L548.2 474.9 L543.3 476.0Z" fill="#61b8ff"/>
<path d="M630.0 580.0 L633.3 576.7 L638.9 575.6 L645.6 576.2 L650.0 578.4 L649.6 583.3 L646.7 587.3 L643.3 588.9 L638.4 587.3 L634.4 583.8Z" fill="#61b8ff"/>
<path d="M602.2 598.9 L604.4 594.9 L607.8 593.3 L611.1 595.6 L610.0 600.0 L605.6 601.1Z" fill="#61b8ff"/>
<path d="M577.8 615.6 L580.7 614.4 L582.2 618.9 L581.1 622.2 L578.9 621.1Z" fill="#61b8ff"/>
</g>
<clipPath id="t6"><rect shape-rendering="crispEdges" x="490.0" y="275.0" width="200.0" height="195.0"/></clipPath>
<g clip-path="url(#t6)">
<rect x="488.0" y="273.0" width="204.0" height="199.0" fill="#3dba3d"/>
<path d="M487.3 272.3 L542.2 272.3 L543.3 279.4 L546.7 283.9 L552.2 286.1 L558.9 287.2 L564.4 289.4 L568.9 292.8 L567.8 297.2 L563.3 299.4 L557.8 300.6 L553.3 302.8 L548.9 306.1 L545.6 309.4 L540.0 310.6 L535.6 312.8 L533.3 308.3 L534.4 303.9 L532.2 301.7 L526.7 305.0 L521.1 308.3 L516.7 311.7 L512.2 316.1 L516.7 319.4 L523.3 318.3 L530.0 319.0 L533.3 322.8 L531.1 328.3 L525.6 331.7 L518.9 332.3 L513.3 330.6 L511.1 327.2 L508.9 322.8 L505.6 325.0 L502.2 329.4 L498.9 333.9 L495.6 339.4 L494.4 346.1 L497.8 352.8 L502.2 358.3 L506.0 363.9 L506.7 369.4 L504.4 375.0 L500.0 380.6 L494.4 385.0 L487.3 387.2Z" fill="#61b8ff"/>
<path d="M497.8 325.0 L503.3 317.2 L511.1 310.6 L516.7 301.7 L518.9 295.0 L515.6 293.9 L511.1 299.4 L505.6 308.3 L500.0 316.1 L495.6 322.8Z" fill="#3dba3d"/>
<path d="M523.3 290.6 L530.0 289.4 L534.4 291.0 L530.0 292.8 L524.4 293.2Z" fill="#3dba3d"/>
<path d="M535.6 326.6 L538.4 324.3 L542.2 326.1 L542.2 330.1 L538.4 331.0 L536.0 329.4Z" fill="#61b8ff"/>
<path d="M594.4 297.2 L596.7 292.8 L601.1 288.3 L605.6 283.9 L611.1 279.4 L615.6 276.1 L621.1 272.3 L623.3 277.2 L621.1 281.7 L616.7 286.1 L611.1 289.4 L605.6 292.8 L600.0 296.1 L596.2 299.0Z" fill="#61b8ff"/>
<path d="M587.8 379.4 L591.1 375.4 L596.7 373.9 L602.2 376.1 L600.0 381.7 L597.8 388.3 L595.6 395.0 L596.2 401.7 L598.4 408.3 L597.8 415.0 L594.4 420.6 L591.1 426.1 L587.8 431.7 L583.3 436.1 L577.8 439.0 L573.3 436.1 L572.7 430.6 L573.3 425.0 L568.9 423.9 L564.4 421.7 L560.7 417.2 L558.9 411.7 L562.2 408.3 L567.8 407.2 L572.7 403.9 L576.7 399.4 L580.0 393.9 L582.2 387.2 L584.4 382.8Z" fill="#a6f28f"/>
<path d="M487.3 430.6 L496.7 426.1 L503.3 423.4 L510.0 421.7 L514.4 418.3 L521.1 412.8 L527.8 408.3 L534.4 403.9 L540.0 401.2 L543.3 405.0 L543.8 412.8 L542.2 419.4 L537.8 422.8 L532.2 428.3 L526.7 435.0 L522.2 442.8 L521.1 450.6 L522.2 459.4 L523.3 472.7 L487.3 472.7Z" fill="#a6f28f"/>
</g>
<clipPath id="t7"><rect shape-rendering="crispEdges" x="470.0" y="60.0" width="230.0" height="215.0"/></clipPath>
<g clip-path="url(#t7)">
<rect x="468.0" y="58.0" width="234.0" height="219.0" fill="#3dba3d"/>
<path d="M530.4 130.0 L533.3 123.3 L537.8 117.8 L543.3 114.4 L547.3 115.6 L546.7 123.3 L544.4 128.9 L540.0 132.2 L536.7 135.6 L534.4 140.0 L532.2 137.8Z" fill="#61b8ff"/>
<path d="M548.9 163.3 L552.2 156.7 L556.7 151.1 L562.2 146.7 L566.7 145.6 L568.9 150.0 L572.2 153.3 L570.0 158.9 L566.7 164.4 L561.1 167.8 L555.6 171.1 L551.1 174.4 L548.2 170.0Z" fill="#61b8ff"/>
<path d="M555.6 142.2 L558.4 140.7 L560.0 143.3 L557.8 145.1Z" fill="#61b8ff"/>
<path d="M591.8 267.8 L594.4 263.3 L600.0 258.9 L605.6 254.4 L611.1 250.0 L614.4 245.6 L617.8 242.2 L621.1 244.4 L620.0 250.0 L616.7 255.6 L612.2 260.0 L606.7 263.3 L601.1 266.7 L595.6 270.0 L592.2 271.1Z" fill="#61b8ff"/>
<path d="M612.2 274.4 L616.7 267.8 L622.2 264.4 L623.8 270.0 L622.2 276.7 L620.0 287.7 L612.2 287.7Z" fill="#61b8ff"/>
<path d="M467.3 260.0 L476.7 261.6 L483.3 266.0 L490.0 270.4 L495.6 274.9 L501.1 277.8 L506.7 273.3 L509.6 275.6 L512.2 281.1 L517.8 284.4 L523.3 287.7 L467.3 287.7Z" fill="#61b8ff"/>
<path d="M467.3 191.1 L472.7 190.0 L474.0 195.6 L472.2 201.1 L467.3 201.1Z" fill="#61b8ff"/>
</g>
<clipPath id="t8"><rect shape-rendering="crispEdges" x="380.0" y="160.0" width="200.0" height="195.0"/></clipPath>
<g clip-path="url(#t8)">
<rect x="378.0" y="158.0" width="204.0" height="199.0" fill="#3dba3d"/>
<path d="M377.3 190.0 L386.7 186.7 L393.3 184.4 L400.0 183.3 L406.7 182.2 L413.3 181.1 L418.9 179.6 L425.6 178.9 L432.2 181.1 L437.8 184.4 L443.3 186.7 L448.9 185.6 L455.6 186.2 L462.2 187.8 L468.9 190.0 L472.2 193.3 L471.1 198.9 L467.8 204.4 L464.4 210.0 L461.1 214.4 L456.7 212.2 L451.1 210.0 L445.6 208.9 L440.0 210.0 L434.4 208.9 L427.8 206.7 L421.1 204.4 L414.4 203.3 L407.8 203.3 L401.1 204.4 L394.4 205.6 L387.8 204.4 L382.2 203.3 L377.3 202.2Z" fill="#61b8ff"/>
<path d="M475.6 196.7 L478.9 194.4 L481.1 197.8 L478.9 201.8 L476.0 200.4Z" fill="#61b8ff"/>
<path d="M393.3 157.3 L404.4 157.3 L402.2 164.4 L397.8 168.9 L393.3 171.1 L392.2 165.6Z" fill="#61b8ff"/>
<path d="M548.9 157.3 L571.1 157.3 L567.8 164.4 L562.2 167.8 L555.6 168.9 L550.0 166.7Z" fill="#61b8ff"/>
<path d="M377.3 165.6 L384.4 165.6 L384.4 182.2 L377.3 182.2Z" fill="#a6f28f"/>
<path d="M406.7 195.6 L410.0 190.0 L414.4 186.7 L420.0 185.6 L425.6 186.7 L429.3 191.1 L432.2 195.6 L430.0 198.9 L424.4 200.0 L417.8 200.4 L412.2 199.6Z" fill="#0000e1"/>
<path d="M448.9 248.9 L453.3 245.6 L458.9 240.0 L462.2 241.1 L462.7 247.8 L464.4 253.3 L465.6 258.9 L462.2 260.0 L457.8 255.6 L452.2 253.3Z" fill="#61b8ff"/>
<path d="M425.6 290.0 L427.8 284.4 L432.2 278.9 L437.8 274.4 L443.3 272.2 L446.7 268.9 L451.1 265.6 L457.8 263.3 L465.6 261.1 L473.3 260.4 L480.0 262.2 L485.6 265.6 L491.1 268.9 L496.7 272.2 L501.1 274.4 L504.4 271.1 L507.8 265.6 L511.1 262.2 L513.3 265.6 L511.1 271.1 L513.3 275.6 L518.9 276.7 L522.2 272.2 L525.6 270.0 L528.4 273.3 L526.7 278.9 L531.1 281.1 L536.7 279.6 L541.1 281.8 L543.3 286.7 L548.9 287.8 L555.6 286.7 L561.1 288.9 L567.8 292.2 L570.0 297.8 L567.8 303.3 L562.2 306.7 L557.8 311.1 L554.4 315.6 L550.0 318.9 L545.6 321.1 L544.4 325.6 L543.3 330.0 L538.9 332.2 L533.3 331.1 L531.1 333.3 L525.6 335.1 L520.0 336.0 L514.4 337.1 L508.9 338.2 L503.3 341.1 L498.9 345.6 L494.4 351.1 L491.1 357.7 L377.3 357.7 L377.3 335.1 L382.2 335.6 L387.8 337.8 L393.3 338.9 L398.9 337.8 L404.4 336.7 L410.0 333.3 L415.6 330.0 L421.1 326.7 L425.6 323.3 L427.8 317.8 L424.4 313.3 L421.1 308.9 L423.3 303.3 L424.4 296.7Z" fill="#61b8ff"/>
<path d="M500.0 330.0 L504.4 324.4 L510.0 320.0 L515.6 315.6 L522.2 312.2 L527.8 308.9 L533.3 305.6 L536.7 306.7 L535.6 312.2 L538.9 316.7 L535.6 318.9 L531.1 321.1 L524.4 321.1 L518.9 322.7 L513.3 324.9 L510.0 328.9 L504.4 332.2 L501.1 333.3Z" fill="#3dba3d"/>
<path d="M434.4 296.7 L438.9 294.4 L442.2 297.8 L438.9 302.2 L435.1 301.1Z" fill="#3dba3d"/>
<path d="M524.4 292.2 L531.1 291.1 L535.6 292.9 L531.1 295.1 L525.6 295.1Z" fill="#3dba3d"/>
<path d="M377.3 298.9 L384.4 298.2 L387.8 302.2 L388.4 308.9 L386.2 314.4 L382.2 316.7 L377.3 315.6Z" fill="#61b8ff"/>
</g>
<clipPath id="t9"><rect shape-rendering="crispEdges" x="180.0" y="730.0" width="150.0" height="70.0"/></clipPath>
<g clip-path="url(#t9)">
<path d="M213.3 726.7 L333.3 726.7 L333.3 746.7 L213.3 746.7Z" fill="#3dba3d"/>
<path d="M213.3 686.7 L233.3 691.7 L246.7 693.3 L260.0 700.0 L270.0 710.0 L276.7 720.0 L281.7 730.0 L280.0 738.3 L266.7 738.3 L246.7 733.3 L230.0 730.0 L213.3 723.3Z" fill="#61b8ff"/>
</g>
<clipPath id="t10"><rect shape-rendering="crispEdges" x="440.0" y="545.0" width="160.0" height="190.0"/></clipPath>
<g clip-path="url(#t10)">
<rect x="438.0" y="543.0" width="164.0" height="194.0" fill="#3dba3d"/>
<path d="M450.0 537.3 L448.9 548.9 L450.0 557.8 L452.2 566.7 L455.6 574.4 L461.1 580.0 L468.9 581.1 L476.7 577.8 L483.3 573.3 L491.1 572.2 L498.9 573.3 L504.4 575.6 L507.8 571.1 L510.0 565.6 L515.6 562.2 L522.2 561.1 L526.7 564.4 L527.8 572.2 L526.7 580.0 L527.8 587.8 L532.2 591.1 L535.6 596.7 L538.9 602.2 L544.4 601.1 L546.7 595.6 L544.4 590.0 L545.6 583.3 L551.1 577.8 L555.6 571.1 L557.8 563.3 L561.1 557.8 L566.7 554.4 L573.3 553.3 L575.6 547.8 L571.1 543.3 L566.7 537.3Z" fill="#a6f28f"/>
<path d="M528.9 566.7 L531.1 564.4 L532.9 567.8 L531.6 573.3 L529.3 572.2Z" fill="#3dba3d"/>
<path d="M413.3 613.3 L420.0 610.0 L427.8 607.8 L435.6 605.6 L443.3 603.3 L451.1 601.1 L458.9 599.6 L466.7 598.2 L475.6 596.7 L484.4 595.6 L493.3 594.4 L502.2 593.3 L510.0 594.4 L508.9 601.1 L506.7 606.7 L511.1 608.9 L517.8 607.8 L524.4 605.6 L530.0 606.7 L527.8 611.1 L522.2 615.6 L517.8 621.1 L515.6 627.8 L516.7 634.4 L520.0 638.9 L515.6 641.1 L508.9 642.2 L501.1 642.7 L493.3 643.3 L487.8 644.4 L482.2 644.9 L476.7 642.2 L473.3 638.9 L466.7 637.8 L460.0 637.8 L454.4 638.9 L450.0 637.8 L445.6 634.4 L442.2 631.1 L437.8 626.7 L433.3 624.4 L428.9 627.8 L423.3 631.1 L417.8 633.3 L413.3 632.2 L415.6 626.7 L418.9 621.1 L415.6 616.7Z" fill="#a6f28f"/>
<path d="M441.1 614.4 L443.3 610.7 L447.8 612.2 L451.1 616.7 L450.0 620.4 L445.6 619.6Z" fill="#3dba3d"/>
<path d="M438.9 651.1 L442.2 646.7 L447.8 643.3 L452.2 644.4 L453.3 648.9 L450.0 653.3 L445.6 655.1 L441.1 654.4Z" fill="#a6f28f"/>
<path d="M495.6 663.3 L500.0 660.0 L506.7 657.8 L515.6 656.7 L521.8 657.8 L521.1 661.8 L515.6 664.4 L508.9 666.2 L502.2 667.1 L497.3 666.2Z" fill="#a6f28f"/>
<path d="M587.8 557.8 L593.3 555.6 L598.9 555.1 L597.8 558.9 L592.2 560.4Z" fill="#a6f28f"/>
<path d="M442.2 705.6 L444.4 700.0 L450.0 695.6 L457.8 693.3 L466.7 692.2 L475.6 690.0 L484.4 688.4 L493.3 687.1 L500.0 687.8 L501.1 693.3 L498.9 698.9 L495.6 704.0 L490.0 706.7 L482.2 707.1 L474.4 707.8 L470.0 711.1 L466.7 715.6 L464.4 718.9 L458.9 715.6 L453.3 712.2 L446.7 710.7 L443.3 708.9Z" fill="#61b8ff"/>
<path d="M462.2 711.1 L464.9 707.8 L468.9 709.3 L467.8 714.4 L464.4 715.6Z" fill="#3dba3d"/>
<path d="M405.6 717.8 L408.9 717.3 L413.3 722.2 L418.9 728.9 L422.2 734.4 L418.9 737.7 L414.4 730.0 L409.3 723.3Z" fill="#61b8ff"/>
<path d="M437.8 718.9 L441.1 717.8 L445.6 724.4 L450.0 731.1 L447.8 732.9 L443.3 727.8 L439.6 722.2Z" fill="#61b8ff"/>
<path d="M577.8 617.8 L580.4 616.7 L582.2 620.0 L580.0 622.7 L578.2 621.1Z" fill="#61b8ff"/>
</g>
</g>
<path d="M166.5 59V806M243.2 59V806M319.9 59V806M396.6 59V806M473.3 59V806M550.0 59V806M626.7 59V806M703.4 59V806M780.0 59V806M90 112.5H854M90 201.2H854M90 289.5H854M90 377.3H854M90 464.7H854M90 551.6H854M90 638.2H854M90 724.3H854" stroke="#b0b0b0" stroke-opacity="0.8" stroke-width="1" stroke-dasharray="4.5 2.8" fill="none"/>
<path d="M666.7 369.4 L675.6 368.3 L677.1 373.9 L674.4 379.4 L667.8 379.0Z" fill="#fff" stroke="#444" stroke-width="0.8"/>
<path d="M631.1 462.7 L632.9 458.2 L634.7 455.0 L637.3 454.3 L638.2 456.4 L636.4 460.0 L634.3 463.2Z" fill="#fff" stroke="#444" stroke-width="0.8"/>
<path d="M310.0 216.7 L317.3 214.0 L325.0 211.7 L330.0 215.0 L335.0 211.7 L340.0 212.7 L341.7 218.3 L346.7 216.7 L348.3 210.0 L349.3 203.3 L350.7 196.7 L349.3 191.7 L354.0 189.3 L358.3 190.7 L360.7 193.3 L366.7 196.7 L373.3 201.7 L378.3 204.0 L386.7 203.3 L393.3 206.7 L398.3 210.0 L403.3 210.7 L410.0 203.3 L415.0 201.7 L421.7 204.0 L430.0 200.0 L438.3 198.3 L443.3 196.7" fill="none" stroke="#1e3a1e" stroke-width="0.7" stroke-opacity="0.6" stroke-linejoin="round"/>
<path d="M443.3 196.7 L446.7 188.3 L448.3 180.0 L451.7 175.0 L460.0 171.7 L465.0 166.7 L468.3 160.0 L470.7 153.3" fill="none" stroke="#1e3a1e" stroke-width="0.7" stroke-opacity="0.6" stroke-linejoin="round"/>
<path d="M443.3 196.7 L446.0 206.7 L446.7 216.7 L451.7 221.7 L460.0 220.7 L470.0 219.0 L480.0 219.0 L492.2 219.3 L501.1 223.3 L505.6 232.2 L506.7 236.7 L514.4 241.1 L525.6 242.2 L534.4 241.1 L543.3 236.7 L548.9 232.2" fill="none" stroke="#1e3a1e" stroke-width="0.7" stroke-opacity="0.6" stroke-linejoin="round"/>
<path d="M506.7 236.7 L501.1 243.3 L494.4 250.0 L490.0 256.7 L485.6 261.1 L478.9 262.2 L470.0 258.3 L463.3 260.0 L456.7 263.3 L448.3 265.0 L443.3 270.0 L446.7 276.7 L450.0 283.3 L448.3 293.3 L443.3 300.0 L436.7 306.7 L430.0 310.0 L423.3 313.3 L416.7 318.3 L410.0 323.3 L403.3 326.7 L396.7 330.0 L390.0 331.7 L383.3 330.7 L380.0 335.0 L385.0 338.3 L390.0 341.7 L391.7 346.7 L388.3 352.0 L397.8 353.9 L401.1 359.4 L405.6 363.9 L403.3 368.3 L407.8 372.8 L412.2 376.1 L418.9 373.9 L423.3 370.6 L427.8 367.2 L432.2 372.8 L436.7 376.1 L441.1 379.4 L445.6 388.3" fill="none" stroke="#1e3a1e" stroke-width="0.7" stroke-opacity="0.6" stroke-linejoin="round"/>
<path d="M436.7 376.1 L443.3 375.0 L450.0 376.1 L456.7 378.3 L463.3 379.4 L467.8 377.2 L472.2 379.4 L474.4 386.1 L476.7 391.7 L481.1 397.2 L485.6 401.7 L490.0 403.9 L496.7 402.8 L502.2 406.1 L506.7 408.3 L512.2 407.2 L513.3 413.9 L515.6 419.4 L521.1 417.2 L526.7 415.0 L531.1 417.2 L534.4 412.8 L540.0 410.6 L545.6 408.3 L551.1 406.1 L556.7 405.0 L563.3 407.2 L570.0 406.1 L574.4 403.9" fill="none" stroke="#1e3a1e" stroke-width="0.7" stroke-opacity="0.6" stroke-linejoin="round"/>
<path d="M513.3 419.4 L510.0 426.1 L505.6 432.8 L503.3 439.4 L505.6 446.1 L502.2 452.8 L503.3 459.4 L506.7 466.1 L505.6 470.6 L498.0 476.0 L490.0 480.0 L482.0 483.0 L474.4 483.3 L470.0 487.8 L465.6 492.2 L458.9 497.8 L454.4 504.4 L450.0 510.0 L445.6 516.7 L447.8 524.4 L451.1 531.1 L445.6 537.8 L441.1 543.3 L443.3 547.8 L450.0 550.0 L454.4 555.6 L451.1 562.2 L446.7 566.7 L450.0 573.3 L455.6 578.9 L458.9 585.6 L461.1 594.4 L460.0 603.3 L455.6 610.0 L451.1 618.9 L448.9 627.8 L447.8 636.7" fill="none" stroke="#1e3a1e" stroke-width="0.7" stroke-opacity="0.6" stroke-linejoin="round"/>
<path d="M533.3 241.6 L535.6 250.0 L537.8 258.9 L538.9 267.8 L543.3 272.2 L546.7 276.7 L550.0 283.9 L556.7 287.2 L562.2 290.6 L561.1 297.2 L556.7 303.9 L555.6 310.6 L556.7 316.1 L561.1 319.4 L562.2 325.0 L556.7 329.4 L554.4 336.1 L550.0 339.4 L548.9 343.9 L554.4 346.1 L558.9 342.8 L561.1 348.3 L564.4 355.0 L566.7 362.8 L571.1 366.1 L576.7 368.3 L582.2 370.6 L584.4 376.1 L583.3 381.7 L584.4 388.3 L582.2 395.0 L577.8 399.4 L574.4 403.9 L576.7 408.3 L575.6 415.0 L574.0 421.7 L575.6 428.3 L581.1 430.6 L586.7 433.9 L588.9 440.6 L592.2 446.1 L598.9 443.9 L602.2 438.3 L603.3 431.7 L606.7 428.3 L611.1 430.6 L614.4 435.0 L619.0 436.0" fill="none" stroke="#1e3a1e" stroke-width="0.7" stroke-opacity="0.6" stroke-linejoin="round"/>
<path d="M290.0 397.2 L293.3 390.6 L298.9 388.3 L303.3 391.7 L307.8 397.2 L312.2 401.7 L317.8 405.0 L323.3 400.6 L328.9 397.2 L334.4 393.9 L340.0 390.6 L344.4 388.3 L348.9 389.4 L351.1 383.9 L350.0 378.3 L352.2 372.8 L351.1 367.2 L354.4 361.7 L356.7 356.1 L358.9 350.6 L363.3 347.2 L368.9 345.0 L374.4 346.1 L378.9 342.8 L383.3 339.4 L388.9 338.3" fill="none" stroke="#1e3a1e" stroke-width="0.7" stroke-opacity="0.6" stroke-linejoin="round"/>
<path d="M150.0 390.0 L154.4 394.4 L161.1 398.9 L167.8 401.1 L175.6 404.4 L181.1 408.9 L184.4 415.6 L182.2 421.1 L184.4 426.7 L190.0 428.9 L196.7 428.9 L202.2 425.6 L206.7 421.1 L211.1 416.7 L216.7 411.1 L223.3 406.7 L228.9 405.6 L232.2 411.1 L235.6 416.7 L241.1 421.1 L245.6 424.4 L252.2 424.0 L258.9 422.7 L265.6 424.0 L271.1 421.1 L274.4 416.7 L278.9 414.4 L284.4 410.0 L290.0 397.2" fill="none" stroke="#1e3a1e" stroke-width="0.7" stroke-opacity="0.6" stroke-linejoin="round"/>
<path d="M271.1 421.1 L274.4 426.7 L277.8 432.2 L281.1 437.8 L285.6 442.2 L290.0 450.0 L292.2 458.9 L293.3 467.8 L292.2 476.7 L291.1 485.6 L293.3 494.4 L298.9 501.1 L305.6 504.4 L311.1 510.0 L312.2 518.9 L316.7 526.7 L321.1 527.8 L318.9 534.4 L318.4 541.1 L325.6 544.4 L333.3 545.6 L341.1 545.6 L347.8 543.3 L353.3 537.8 L357.8 534.4 L358.9 527.8 L363.3 525.6 L366.7 518.9 L372.2 514.4 L377.8 507.8 L383.3 502.2 L390.0 500.0 L396.7 501.1 L403.3 503.3 L410.0 502.2 L416.7 503.3 L423.3 501.1 L428.9 497.8 L432.2 492.2 L434.4 483.3 L436.7 476.7 L441.1 474.4 L443.3 481.1 L445.6 490.0 L450.0 494.4 L454.4 496.7 L458.9 497.8" fill="none" stroke="#1e3a1e" stroke-width="0.7" stroke-opacity="0.6" stroke-linejoin="round"/>
<path d="M454.4 534.4 L461.1 535.6 L467.8 534.4 L474.4 537.8 L481.1 542.2 L490.0 536.7 L496.7 534.4 L502.2 532.2 L507.8 531.1 L512.2 534.4 L516.7 538.9 L523.3 543.3 L528.9 550.0 L534.4 552.2 L541.1 549.6 L547.8 553.3 L554.4 554.4 L561.1 551.1 L565.6 545.6 L571.1 546.7 L575.6 551.1 L578.9 556.7 L582.2 563.3 L584.4 570.0 L582.2 574.4" fill="none" stroke="#1e3a1e" stroke-width="0.7" stroke-opacity="0.6" stroke-linejoin="round"/>
<path d="M196.7 582.8 L200.0 578.3 L202.2 571.7 L201.1 563.9 L200.0 556.1 L203.3 550.6 L208.9 547.2 L215.6 545.0 L221.1 546.1 L225.6 541.7 L227.8 535.0 L228.9 531.1 L232.2 524.4 L236.7 520.0 L243.3 516.7 L250.0 514.4 L256.7 512.2 L263.3 508.9 L270.0 505.6 L276.7 501.1 L283.3 497.8 L289.8 495.6 L293.3 500.0 L301.7 498.3 L310.0 501.7 L312.0 510.0" fill="none" stroke="#1e3a1e" stroke-width="0.7" stroke-opacity="0.6" stroke-linejoin="round"/>
<path d="M341.1 685.6 L346.7 682.2 L352.2 677.8 L358.9 673.3 L361.1 666.7 L363.3 657.8 L365.6 650.0 L371.1 647.8 L374.4 642.2 L380.0 643.3 L387.8 645.6 L396.7 644.4 L405.6 641.1 L414.4 640.0 L423.3 643.3 L432.2 644.4 L441.1 642.2 L446.7 640.0 L448.9 633.3 L451.1 626.7 L450.0 620.0 L454.4 615.6 L458.9 608.9 L457.8 603.3 L461.1 600.0" fill="none" stroke="#1e3a1e" stroke-width="0.7" stroke-opacity="0.6" stroke-linejoin="round"/>
<path d="M337.3 89.3 L340.0 84.0 L346.7 82.7 L355.0 82.7 L358.3 80.0 L363.3 81.7 L370.0 80.7 L376.7 82.7 L384.0 81.7 L386.7 88.3 L390.0 95.0 L394.0 103.3 L400.0 109.3 L406.7 115.0 L413.3 120.0 L421.7 122.7 L430.0 123.3 L440.0 122.3 L450.0 120.7 L451.7 125.0 L451.7 131.7 L456.7 129.3 L460.0 125.0 L462.3 128.3 L462.3 135.0 L466.7 138.3 L468.3 145.0 L470.7 151.7 L473.3 153.3 L478.3 145.0 L485.0 137.5 L493.3 132.0 L502.0 127.5 L504.0 121.0 L501.0 118.0 L506.7 115.0 L513.3 111.7 L521.7 110.7 L528.3 112.7 L533.3 108.3 L540.0 106.7 L545.0 106.0 L548.3 110.0 L548.3 118.3 L549.3 126.7 L551.7 131.7 L550.7 138.3 L555.0 141.7 L561.7 137.3 L567.3 138.3 L570.0 145.0 L575.0 150.7 L581.7 149.3 L586.7 152.7 L590.7 158.3 L590.0 165.0 L586.7 170.0 L581.7 175.0 L573.3 180.0 L565.0 182.7 L556.7 186.0 L550.0 190.7 L544.0 196.7 L540.7 203.3 L540.0 209.3 L542.7 214.0 L538.3 217.3 L535.0 220.0 L537.3 224.0 L543.3 228.3 L550.0 232.7 L556.7 236.7 L560.7 240.0 L560.0 233.3 L564.0 228.3 L570.0 225.0 L575.0 223.3 L581.7 225.0 L588.3 223.3 L591.7 217.3 L598.3 219.3 L605.0 223.3 L611.7 230.0 L618.3 236.7 L625.0 243.3 L630.0 251.7 L635.0 260.0 L640.0 268.3 L645.0 275.0 L650.0 281.7 L653.3 288.3 L661.7 290.0 L670.0 291.7 L678.3 295.0 L686.7 298.3 L695.0 303.3 L701.7 306.7 L710.0 306.0 L718.3 305.0 L723.3 306.7 L720.0 311.7 L711.7 316.7 L703.3 322.7 L696.7 328.3 L688.3 332.7 L683.3 338.3 L678.3 345.0 L671.7 351.7 L665.0 356.7 L660.0 361.7 L655.0 366.7 L648.3 369.3 L641.7 370.7 L635.0 371.7 L628.3 372.7 L621.7 375.0 L618.3 380.0 L616.7 386.7 L619.3 391.7 L622.7 387.3 L625.0 381.7 L628.3 378.3 L630.0 383.3 L626.7 389.3 L625.0 393.3 L629.3 392.7 L632.7 385.0 L635.0 378.3 L641.7 376.0 L648.3 374.0 L656.7 371.7 L663.3 368.3 L666.7 363.3 L673.3 358.3 L681.7 355.0 L690.0 351.7 L696.7 352.7 L700.0 358.3 L699.3 366.7 L698.3 375.0 L697.3 383.3 L695.0 391.7 L693.3 398.3 L696.7 405.0 L700.0 411.7 L700.0 416.7 L696.0 421.7 L697.3 428.3 L698.7 434.2 L700.4 440.4 L699.6 446.7 L696.9 451.1 L693.3 453.8 L689.8 452.0 L687.1 448.4 L684.4 443.1 L683.6 439.6 L687.1 436.0 L691.6 433.3 L694.2 429.8 L688.0 432.4 L682.7 434.8 L677.3 436.5 L672.0 437.2 L669.3 433.3 L668.8 428.0 L669.9 420.9 L671.1 413.8 L672.0 406.7 L671.6 401.3 L669.3 403.1 L668.1 410.2 L667.0 417.3 L666.3 424.4 L665.2 431.6 L661.3 436.9 L656.9 440.4 L652.4 437.8 L648.0 433.3 L644.4 428.0 L641.8 422.7 L639.1 418.2 L634.7 416.4 L631.1 415.6 L629.3 417.0 L632.9 420.0 L636.4 421.8 L638.2 425.3 L634.7 428.0 L631.1 430.7 L630.2 433.3 L633.8 435.1 L638.2 436.9 L640.9 438.7 L636.4 439.6 L631.1 437.8 L625.8 436.5 L621.3 436.0 L619.6 437.2 L622.2 439.6 L627.6 440.8 L632.9 442.2 L638.2 443.1 L643.6 444.4 L647.1 446.7 L648.5 452.9 L653.3 457.3 L655.1 465.3 L659.2 473.3 L656.9 479.2 L653.9 482.8 L649.8 482.2 L645.3 479.6 L640.9 476.9 L636.4 474.2 L632.0 472.4 L629.3 473.9 L632.9 476.9 L638.2 479.6 L643.6 482.2 L648.0 484.9 L652.4 486.7 L651.6 490.2 L652.4 494.7 L654.2 500.0 L655.0 503.3 L652.7 510.0 L648.3 515.0 L641.7 518.3 L631.7 519.3 L623.3 518.3 L618.3 516.7 L626.7 521.7 L633.3 526.7 L638.3 533.3 L641.7 540.0 L643.3 546.7 L645.0 552.7 L650.0 556.7 L647.3 560.0 L648.3 565.0 L653.3 566.7 L650.0 570.7 L650.0 576.7 L648.3 583.3 L645.0 590.0 L640.0 592.7 L637.3 586.7 L631.7 581.7 L626.7 581.7 L621.7 586.7 L616.7 593.3 L611.7 600.0 L606.7 605.0 L603.3 611.7 L598.3 616.7 L593.3 621.7 L586.7 625.0 L580.0 628.3 L575.0 630.0 L571.7 623.3 L570.0 616.7 L575.0 613.3 L580.0 608.3 L584.0 600.0 L586.0 591.7 L585.0 583.3 L581.7 576.7 L576.7 575.0 L573.3 580.0 L570.0 586.7 L567.3 595.0 L565.0 603.3 L561.7 610.0 L556.7 615.0 L553.3 621.7 L550.0 630.0 L546.7 638.3 L543.3 645.0 L540.0 651.7 L535.0 653.3 L533.3 660.0 L529.3 665.0 L525.0 671.7 L520.0 676.7 L515.0 680.0 L510.0 683.3 L506.0 688.3 L501.7 693.3 L499.3 700.0 L495.0 705.0 L488.3 706.7 L481.7 708.3 L475.0 709.3 L470.7 713.3 L468.3 720.0 L473.3 723.3 L476.7 719.3 L483.3 719.3 L486.7 724.0 L493.3 726.0 L499.3 728.3 L496.7 735.0 L493.3 741.7 L486.7 741.7 L480.0 745.0 L476.7 751.7 L478.3 758.3 L475.0 765.0 L473.3 771.7 L470.0 778.3 L467.3 783.3 L466.0 778.3 L461.7 779.3 L459.3 773.3 L456.7 766.7 L455.0 760.0 L452.7 753.3 L448.3 746.7 L443.3 741.7 L436.7 738.3 L430.0 736.7 L423.3 738.3 L416.7 736.7 L411.7 740.0 L406.7 745.0 L400.0 746.7 L393.3 746.7 L386.7 751.7 L380.0 753.3 L373.3 755.0 L368.3 758.3 L361.7 756.7 L360.0 751.7 L356.7 745.0 L352.7 738.3 L348.3 731.7 L350.7 725.0 L348.3 716.7 L343.3 711.7 L340.0 706.7 L341.7 700.0 L339.3 693.3 L333.3 695.0 L326.7 694.0 L321.7 696.0 L318.3 701.7 L316.7 710.0 L313.3 716.7 L308.3 719.3 L301.7 720.0 L295.0 723.3 L288.3 728.3 L283.3 732.7 L276.7 736.0 L268.3 735.0 L261.7 731.7 L255.0 730.0 L248.3 726.7 L241.7 725.0 L235.0 728.3 L230.0 725.0 L223.3 721.7 L221.7 715.0 L226.7 708.3 L228.3 700.0 L226.7 691.7 L223.3 683.3 L219.3 675.0 L216.0 665.0 L213.3 656.7 L210.0 648.3 L205.0 640.0 L200.0 631.7 L200.7 625.0 L205.0 618.3 L208.3 611.7 L206.0 605.0 L208.3 598.3 L203.3 593.3 L200.7 586.7 L196.7 585.0 L191.7 589.3 L185.0 590.0 L180.0 593.3 L173.3 591.7 L167.3 590.0 L165.0 593.3 L160.0 595.0 L155.0 591.7 L157.3 587.3 L162.7 583.3 L160.0 576.7 L156.0 570.0 L158.3 563.3 L160.0 555.0 L158.3 546.7 L156.7 538.3 L155.0 530.0 L151.7 521.7 L150.0 513.3 L148.3 505.0 L145.0 498.3 L138.3 495.0 L133.3 488.3 L130.0 483.3 L125.0 480.0 L118.3 478.3 L120.7 472.7 L116.0 468.3 L111.7 464.0 L105.0 461.7 L100.7 455.0 L98.3 448.3 L95.0 441.7 L93.3 433.3 L96.7 426.7 L100.7 421.7 L100.7 415.0 L106.7 413.3 L113.3 411.7 L116.7 406.7 L120.0 400.0 L120.0 393.3 L125.0 390.0 L131.7 390.0 L135.0 385.0 L136.0 378.3 L140.0 376.7 L145.0 380.0 L148.3 376.7 L155.0 375.0 L161.7 373.3 L165.0 368.3 L167.3 361.7 L173.3 356.7 L180.0 351.7 L186.0 346.7 L191.7 341.7 L196.7 336.7 L200.7 330.0 L203.3 323.3 L204.0 316.7 L208.3 314.0 L213.3 310.0 L218.3 303.3 L221.7 296.7 L225.0 291.7 L226.0 285.0 L224.0 278.3 L223.3 270.0 L220.0 265.0 L219.3 260.0 L223.3 258.3 L226.7 253.3 L224.0 248.3 L225.0 241.7 L223.3 235.0 L226.7 230.0 L233.3 226.0 L240.0 226.7 L243.3 230.0 L248.3 230.7 L253.3 231.7 L260.0 232.7 L268.3 233.3 L275.0 231.7 L280.0 228.3 L287.3 224.0 L293.3 223.3 L299.3 221.7 L300.0 217.3 L295.0 213.3 L292.7 206.7 L293.3 200.0 L290.0 197.3 L284.0 196.0 L280.0 193.3 L284.0 190.0 L281.7 186.0 L279.3 180.7 L285.0 179.3 L291.7 176.7 L296.7 171.7 L301.7 167.3 L306.7 168.3 L313.0 163.0 L317.3 160.0 L316.0 156.0 L317.3 151.7 L323.3 148.3 L329.3 141.7 L327.3 135.0 L326.7 126.7 L330.0 118.3 L333.3 113.3 L336.0 105.0 L338.3 96.7Z M552.0 661.0 L556.0 658.0 L560.0 660.0 L557.0 664.0 L553.0 665.0Z M772.7 155.0 L775.0 160.0 L779.0 163.3 L775.0 166.0 L770.0 168.3 L766.0 169.3 L767.3 164.0 L770.7 159.3Z M745.7 205.0 L751.7 206.7 L758.3 206.0 L765.0 208.3 L768.3 213.3 L763.3 215.7 L755.0 215.0 L748.3 213.3 L745.7 209.3Z M711.7 235.0 L718.3 233.3 L726.7 229.3 L733.3 230.7 L737.3 235.0 L738.3 241.7 L736.7 247.3 L730.0 245.0 L721.7 241.7 L715.0 238.3Z M745.0 242.7 L753.3 241.7 L763.3 240.0 L766.7 243.3 L765.0 247.3 L756.7 246.7 L748.3 246.7Z M693.3 258.3 L698.3 256.7 L703.3 261.7 L711.7 261.7 L720.0 260.0 L728.3 265.0 L736.7 270.0 L746.7 270.7 L748.3 275.0 L743.3 278.3 L749.3 283.3 L753.3 288.3 L752.7 295.0 L748.3 299.3 L741.7 295.0 L733.3 291.7 L725.0 290.0 L716.7 286.7 L710.0 288.3 L705.0 283.3 L701.7 275.0 L696.7 268.3 L694.0 263.3Z M680.0 270.7 L685.0 273.3 L688.3 280.0 L691.7 287.3 L686.7 291.7 L680.0 293.3 L677.7 286.7 L678.3 278.3Z M753.3 298.3 L760.0 296.0 L766.7 300.0 L768.3 306.7 L765.0 313.3 L763.3 318.3 L760.0 315.0 L758.3 308.3 L754.0 303.3Z M737.3 316.7 L743.3 315.0 L749.3 320.0 L752.7 326.7 L748.3 329.3 L743.3 325.0 L739.3 321.7Z M710.7 331.7 L715.0 326.7 L721.7 325.0 L726.7 331.7 L731.7 340.0 L733.3 346.0 L728.3 348.3 L720.0 345.0 L713.3 340.0 L710.7 336.0Z" fill="none" stroke="#2a2a2a" stroke-width="1.3" stroke-linejoin="round"/>
<ellipse cx="706.7" cy="431.7" rx="3.5" ry="4.0" transform="rotate(20 706.7 431.7)" fill="#fff" stroke="#333" stroke-width="0.9"/>
<ellipse cx="562.7" cy="641.8" rx="7.0" ry="4.5" transform="rotate(5 562.7 641.8)" fill="#fff" stroke="#333" stroke-width="0.9"/>
<ellipse cx="581.1" cy="639.6" rx="3.5" ry="2.0" transform="rotate(-10 581.1 639.6)" fill="#fff" stroke="#333" stroke-width="0.9"/>
<ellipse cx="568.9" cy="656.0" rx="2.5" ry="4.0" transform="rotate(30 568.9 656.0)" fill="#fff" stroke="#333" stroke-width="0.9"/>
<ellipse cx="571.1" cy="664.9" rx="6.0" ry="4.0" transform="rotate(-15 571.1 664.9)" fill="#fff" stroke="#333" stroke-width="0.9"/>
<ellipse cx="561.7" cy="673.9" rx="1.5" ry="1.5" transform="rotate(0 561.7 673.9)" fill="#fff" stroke="#333" stroke-width="0.9"/>
<ellipse cx="544.4" cy="695.6" rx="1.5" ry="1.5" transform="rotate(0 544.4 695.6)" fill="#fff" stroke="#333" stroke-width="0.9"/>
<ellipse cx="560.0" cy="730.0" rx="3.0" ry="1.8" transform="rotate(10 560.0 730.0)" fill="#fff" stroke="#333" stroke-width="0.9"/>
<ellipse cx="650.0" cy="375.0" rx="3.0" ry="2.0" transform="rotate(0 650.0 375.0)" fill="#fff" stroke="#333" stroke-width="0.9"/>
<ellipse cx="697.0" cy="232.5" rx="5.5" ry="4.5" transform="rotate(-20 697.0 232.5)" fill="#fff" stroke="#333" stroke-width="0.9"/>
<ellipse cx="750.0" cy="198.0" rx="2.0" ry="1.5" transform="rotate(0 750.0 198.0)" fill="#fff" stroke="#333" stroke-width="0.9"/>
<ellipse cx="756.0" cy="197.0" rx="2.0" ry="1.5" transform="rotate(0 756.0 197.0)" fill="#fff" stroke="#333" stroke-width="0.9"/>
<ellipse cx="746.0" cy="185.0" rx="1.5" ry="1.5" transform="rotate(0 746.0 185.0)" fill="#fff" stroke="#333" stroke-width="0.9"/>
<ellipse cx="714.0" cy="178.0" rx="6.0" ry="3.0" transform="rotate(25 714.0 178.0)" fill="#fff" stroke="#333" stroke-width="0.9"/>
<ellipse cx="713.0" cy="185.0" rx="2.5" ry="2.0" transform="rotate(0 713.0 185.0)" fill="#fff" stroke="#333" stroke-width="0.9"/>
<ellipse cx="706.0" cy="172.0" rx="2.0" ry="1.5" transform="rotate(20 706.0 172.0)" fill="#fff" stroke="#333" stroke-width="0.9"/>
<ellipse cx="730.0" cy="258.0" rx="4.0" ry="5.5" transform="rotate(25 730.0 258.0)" fill="#fff" stroke="#333" stroke-width="0.9"/>
<ellipse cx="806.7" cy="138.0" rx="2.2" ry="2.0" transform="rotate(0 806.7 138.0)" fill="#fff" stroke="#333" stroke-width="0.9"/>
<ellipse cx="799.0" cy="142.5" rx="1.2" ry="0.8" transform="rotate(0 799.0 142.5)" fill="#fff" stroke="#333" stroke-width="0.9"/>
<ellipse cx="821.5" cy="161.0" rx="2.5" ry="2.5" transform="rotate(0 821.5 161.0)" fill="#fff" stroke="#333" stroke-width="0.9"/>
<ellipse cx="828.0" cy="161.0" rx="2.0" ry="2.5" transform="rotate(0 828.0 161.0)" fill="#fff" stroke="#333" stroke-width="0.9"/>
<ellipse cx="788.7" cy="170.7" rx="2.0" ry="2.2" transform="rotate(0 788.7 170.7)" fill="#fff" stroke="#333" stroke-width="0.9"/>
<ellipse cx="802.0" cy="252.0" rx="1.0" ry="1.8" transform="rotate(0 802.0 252.0)" fill="#fff" stroke="#333" stroke-width="0.9"/>
<ellipse cx="806.0" cy="252.5" rx="1.0" ry="1.8" transform="rotate(0 806.0 252.5)" fill="#fff" stroke="#333" stroke-width="0.9"/>
<ellipse cx="810.0" cy="253.0" rx="1.0" ry="1.8" transform="rotate(0 810.0 253.0)" fill="#fff" stroke="#333" stroke-width="0.9"/>
<ellipse cx="820.7" cy="264.4" rx="2.0" ry="1.5" transform="rotate(20 820.7 264.4)" fill="#fff" stroke="#333" stroke-width="0.9"/>
<ellipse cx="778.0" cy="248.7" rx="2.2" ry="1.3" transform="rotate(15 778.0 248.7)" fill="#fff" stroke="#333" stroke-width="0.9"/>
<ellipse cx="762.0" cy="283.0" rx="1.5" ry="3.5" transform="rotate(10 762.0 283.0)" fill="#fff" stroke="#333" stroke-width="0.9"/>
<ellipse cx="772.0" cy="297.5" rx="1.0" ry="2.2" transform="rotate(0 772.0 297.5)" fill="#fff" stroke="#333" stroke-width="0.9"/>
<ellipse cx="705.0" cy="255.0" rx="3.5" ry="3.0" transform="rotate(-30 705.0 255.0)" fill="#fff" stroke="#333" stroke-width="0.9"/>
<ellipse cx="772.0" cy="214.0" rx="2.0" ry="2.0" transform="rotate(0 772.0 214.0)" fill="#fff" stroke="#333" stroke-width="0.9"/>
<ellipse cx="745.0" cy="243.0" rx="2.0" ry="3.0" transform="rotate(0 745.0 243.0)" fill="#fff" stroke="#333" stroke-width="0.9"/>
<ellipse cx="694.0" cy="271.0" rx="4.0" ry="4.0" transform="rotate(0 694.0 271.0)" fill="#fff" stroke="#333" stroke-width="0.9"/>
<ellipse cx="676.0" cy="272.0" rx="2.5" ry="4.0" transform="rotate(0 676.0 272.0)" fill="#fff" stroke="#333" stroke-width="0.9"/>
<ellipse cx="697.0" cy="301.0" rx="5.0" ry="5.0" transform="rotate(0 697.0 301.0)" fill="#fff" stroke="#333" stroke-width="0.9"/>
<ellipse cx="706.0" cy="300.0" rx="2.0" ry="3.0" transform="rotate(0 706.0 300.0)" fill="#fff" stroke="#333" stroke-width="0.9"/>
<ellipse cx="749.0" cy="311.0" rx="5.0" ry="2.5" transform="rotate(-15 749.0 311.0)" fill="#fff" stroke="#333" stroke-width="0.9"/>
<ellipse cx="743.0" cy="331.0" rx="7.0" ry="3.5" transform="rotate(30 743.0 331.0)" fill="#fff" stroke="#333" stroke-width="0.9"/>
<ellipse cx="770.0" cy="298.0" rx="1.5" ry="2.5" transform="rotate(0 770.0 298.0)" fill="#fff" stroke="#333" stroke-width="0.9"/>
<ellipse cx="764.0" cy="286.0" rx="3.0" ry="4.0" transform="rotate(20 764.0 286.0)" fill="#fff" stroke="#333" stroke-width="0.9"/>
<ellipse cx="733.0" cy="294.0" rx="3.0" ry="2.0" transform="rotate(0 733.0 294.0)" fill="#fff" stroke="#333" stroke-width="0.9"/>
<ellipse cx="726.0" cy="293.0" rx="2.0" ry="2.0" transform="rotate(0 726.0 293.0)" fill="#fff" stroke="#333" stroke-width="0.9"/>
<ellipse cx="718.0" cy="296.0" rx="2.0" ry="2.0" transform="rotate(0 718.0 296.0)" fill="#fff" stroke="#333" stroke-width="0.9"/>
<ellipse cx="757.0" cy="340.0" rx="2.0" ry="3.0" transform="rotate(0 757.0 340.0)" fill="#fff" stroke="#333" stroke-width="0.9"/>
<ellipse cx="707.0" cy="334.0" rx="2.0" ry="3.0" transform="rotate(20 707.0 334.0)" fill="#fff" stroke="#333" stroke-width="0.9"/>
<circle cx="731.7" cy="388.3" r="1.2" fill="#333"/>
<circle cx="738.3" cy="487.7" r="1.0" fill="#333"/>
<circle cx="680.0" cy="499.3" r="1.3" fill="#333"/>
<circle cx="680.7" cy="509.3" r="1.2" fill="#333"/>
<circle cx="691.7" cy="512.3" r="1.0" fill="#333"/>
<circle cx="669.3" cy="516.7" r="1.3" fill="#333"/>
<circle cx="674.3" cy="531.7" r="0.9" fill="#333"/>
<circle cx="686.0" cy="551.7" r="1.3" fill="#333"/>
<circle cx="686.0" cy="560.0" r="1.1" fill="#333"/>
<circle cx="705.7" cy="355.0" r="1.0" fill="#333"/>
<circle cx="725.7" cy="356.0" r="0.9" fill="#333"/>
<circle cx="698.3" cy="403.3" r="0.9" fill="#333"/>
<circle cx="673.0" cy="581.0" r="0.8" fill="#333"/>
<circle cx="653.0" cy="588.0" r="0.9" fill="#333"/>
<circle cx="568.9" cy="677.8" r="1.0" fill="#333"/>
<circle cx="522.9" cy="693.3" r="1.0" fill="#333"/>
<circle cx="579.6" cy="702.2" r="1.2" fill="#333"/>
<circle cx="476.0" cy="782.0" r="1.0" fill="#333"/>
<circle cx="611.0" cy="619.0" r="0.9" fill="#333"/>
<circle cx="629.0" cy="619.0" r="0.8" fill="#333"/>
<g class="n" opacity="0.72">
<text x="364.9" y="97.1">15</text>
<text x="334.2" y="123.8">13</text>
<text x="364.9" y="123.8">15</text>
<text x="395.6" y="123.8">16</text>
<text x="518.3" y="123.8">22</text>
<text x="334.2" y="150.5">15</text>
<text x="364.9" y="150.5">12</text>
<text x="395.6" y="150.5">20</text>
<text x="426.3" y="150.5">19</text>
<text x="457.0" y="150.5">16</text>
<text x="487.6" y="150.5">22</text>
<text x="518.3" y="150.5">20</text>
<text x="549.0" y="150.5">23</text>
<text x="334.2" y="177.1">15</text>
<text x="364.9" y="177.1">13</text>
<text x="395.6" y="177.1">22</text>
<text x="426.3" y="177.1">20</text>
<text x="457.0" y="177.1">18</text>
<text x="487.6" y="177.1">19</text>
<text x="518.3" y="177.1">19</text>
<text x="549.0" y="177.1">25</text>
<text x="579.7" y="177.1">18</text>
<text x="303.6" y="203.7">15</text>
<text x="334.2" y="203.7">8</text>
<text x="364.9" y="203.7">11</text>
<text x="395.6" y="203.7">30</text>
<text x="426.3" y="203.7">28</text>
<text x="457.0" y="203.7">27</text>
<text x="487.6" y="203.7">23</text>
<text x="518.3" y="203.7">25</text>
<text x="303.6" y="230.3">9</text>
<text x="334.2" y="230.3">10</text>
<text x="364.9" y="230.3">12</text>
<text x="395.6" y="230.3">15</text>
<text x="426.3" y="230.3">18</text>
<text x="457.0" y="230.3">23</text>
<text x="487.6" y="230.3">21</text>
<text x="518.3" y="230.3">17</text>
<text x="579.7" y="230.3">21</text>
<text x="733.0" y="230.3">18</text>
<text x="242.2" y="256.8">6</text>
<text x="272.9" y="256.8">8</text>
<text x="303.6" y="256.8">7</text>
<text x="334.2" y="256.8">13</text>
<text x="364.9" y="256.8">18</text>
<text x="395.6" y="256.8">17</text>
<text x="426.3" y="256.8">22</text>
<text x="457.0" y="256.8">25</text>
<text x="487.6" y="256.8">20</text>
<text x="518.3" y="256.8">22</text>
<text x="549.0" y="256.8">22</text>
<text x="579.7" y="256.8">24</text>
<text x="610.3" y="256.8">30</text>
<text x="242.2" y="283.2">5</text>
<text x="272.9" y="283.2">11</text>
<text x="303.6" y="283.2">7</text>
<text x="334.2" y="283.2">14</text>
<text x="364.9" y="283.2">19</text>
<text x="395.6" y="283.2">16</text>
<text x="426.3" y="283.2">24</text>
<text x="457.0" y="283.2">28</text>
<text x="487.6" y="283.2">30</text>
<text x="518.3" y="283.2">24</text>
<text x="549.0" y="283.2">22</text>
<text x="579.7" y="283.2">22</text>
<text x="610.3" y="283.2">32</text>
<text x="641.0" y="283.2">18</text>
<text x="702.4" y="283.2">17</text>
<text x="733.0" y="283.2">17</text>
<text x="242.2" y="309.7">6</text>
<text x="272.9" y="309.7">10</text>
<text x="303.6" y="309.7">19</text>
<text x="334.2" y="309.7">24</text>
<text x="364.9" y="309.7">30</text>
<text x="395.6" y="309.7">23</text>
<text x="426.3" y="309.7">25</text>
<text x="457.0" y="309.7">31</text>
<text x="487.6" y="309.7">27</text>
<text x="518.3" y="309.7">30</text>
<text x="549.0" y="309.7">26</text>
<text x="579.7" y="309.7">13</text>
<text x="610.3" y="309.7">16</text>
<text x="641.0" y="309.7">13</text>
<text x="671.7" y="309.7">16</text>
<text x="702.4" y="309.7">17</text>
<text x="211.5" y="336.0">15</text>
<text x="242.2" y="336.0">11</text>
<text x="272.9" y="336.0">20</text>
<text x="303.6" y="336.0">18</text>
<text x="334.2" y="336.0">29</text>
<text x="364.9" y="336.0">21</text>
<text x="395.6" y="336.0">21</text>
<text x="426.3" y="336.0">26</text>
<text x="457.0" y="336.0">37</text>
<text x="487.6" y="336.0">29</text>
<text x="518.3" y="336.0">27</text>
<text x="549.0" y="336.0">26</text>
<text x="579.7" y="336.0">11</text>
<text x="610.3" y="336.0">20</text>
<text x="641.0" y="336.0">13</text>
<text x="671.7" y="336.0">11</text>
<text x="180.9" y="362.4">18</text>
<text x="211.5" y="362.4">15</text>
<text x="242.2" y="362.4">13</text>
<text x="272.9" y="362.4">26</text>
<text x="303.6" y="362.4">26</text>
<text x="334.2" y="362.4">29</text>
<text x="364.9" y="362.4">20</text>
<text x="395.6" y="362.4">24</text>
<text x="426.3" y="362.4">30</text>
<text x="457.0" y="362.4">40</text>
<text x="487.6" y="362.4">28</text>
<text x="518.3" y="362.4">16</text>
<text x="549.0" y="362.4">20</text>
<text x="579.7" y="362.4">16</text>
<text x="610.3" y="362.4">13</text>
<text x="641.0" y="362.4">14</text>
<text x="150.2" y="388.7">9</text>
<text x="180.9" y="388.7">28</text>
<text x="211.5" y="388.7">36</text>
<text x="242.2" y="388.7">20</text>
<text x="272.9" y="388.7">34</text>
<text x="303.6" y="388.7">33</text>
<text x="334.2" y="388.7">30</text>
<text x="364.9" y="388.7">21</text>
<text x="395.6" y="388.7">19</text>
<text x="426.3" y="388.7">23</text>
<text x="457.0" y="388.7">28</text>
<text x="487.6" y="388.7">24</text>
<text x="518.3" y="388.7">13</text>
<text x="549.0" y="388.7">11</text>
<text x="579.7" y="388.7">11</text>
<text x="610.3" y="388.7">14</text>
<text x="641.0" y="388.7">14</text>
<text x="671.7" y="388.7">12</text>
<text x="119.5" y="415.0">14</text>
<text x="150.2" y="415.0">26</text>
<text x="180.9" y="415.0">25</text>
<text x="211.5" y="415.0">25</text>
<text x="242.2" y="415.0">32</text>
<text x="272.9" y="415.0">28</text>
<text x="303.6" y="415.0">28</text>
<text x="334.2" y="415.0">27</text>
<text x="364.9" y="415.0">14</text>
<text x="395.6" y="415.0">23</text>
<text x="426.3" y="415.0">14</text>
<text x="457.0" y="415.0">18</text>
<text x="487.6" y="415.0">13</text>
<text x="518.3" y="415.0">11</text>
<text x="549.0" y="415.0">12</text>
<text x="579.7" y="415.0">7</text>
<text x="610.3" y="415.0">15</text>
<text x="641.0" y="415.0">13</text>
<text x="671.7" y="415.0">13</text>
<text x="119.5" y="441.2">17</text>
<text x="150.2" y="441.2">24</text>
<text x="180.9" y="441.2">22</text>
<text x="211.5" y="441.2">16</text>
<text x="242.2" y="441.2">32</text>
<text x="272.9" y="441.2">25</text>
<text x="303.6" y="441.2">28</text>
<text x="334.2" y="441.2">24</text>
<text x="364.9" y="441.2">20</text>
<text x="395.6" y="441.2">15</text>
<text x="426.3" y="441.2">13</text>
<text x="457.0" y="441.2">19</text>
<text x="487.6" y="441.2">12</text>
<text x="518.3" y="441.2">6</text>
<text x="549.0" y="441.2">14</text>
<text x="579.7" y="441.2">9</text>
<text x="610.3" y="441.2">20</text>
<text x="119.5" y="467.4">12</text>
<text x="150.2" y="467.4">28</text>
<text x="180.9" y="467.4">29</text>
<text x="211.5" y="467.4">16</text>
<text x="242.2" y="467.4">30</text>
<text x="272.9" y="467.4">27</text>
<text x="303.6" y="467.4">26</text>
<text x="334.2" y="467.4">29</text>
<text x="364.9" y="467.4">19</text>
<text x="395.6" y="467.4">23</text>
<text x="426.3" y="467.4">32</text>
<text x="457.0" y="467.4">19</text>
<text x="487.6" y="467.4">6</text>
<text x="518.3" y="467.4">6</text>
<text x="549.0" y="467.4">23</text>
<text x="579.7" y="467.4">14</text>
<text x="610.3" y="467.4">12</text>
<text x="641.0" y="467.4">13</text>
<text x="150.2" y="493.6">29</text>
<text x="180.9" y="493.6">36</text>
<text x="211.5" y="493.6">31</text>
<text x="242.2" y="493.6">35</text>
<text x="272.9" y="493.6">30</text>
<text x="303.6" y="493.6">39</text>
<text x="334.2" y="493.6">28</text>
<text x="364.9" y="493.6">22</text>
<text x="395.6" y="493.6">21</text>
<text x="426.3" y="493.6">34</text>
<text x="457.0" y="493.6">20</text>
<text x="487.6" y="493.6">14</text>
<text x="518.3" y="493.6">13</text>
<text x="549.0" y="493.6">11</text>
<text x="579.7" y="493.6">14</text>
<text x="610.3" y="493.6">11</text>
<text x="641.0" y="493.6">16</text>
<text x="180.9" y="519.7">43</text>
<text x="211.5" y="519.7">29</text>
<text x="242.2" y="519.7">43</text>
<text x="272.9" y="519.7">29</text>
<text x="303.6" y="519.7">43</text>
<text x="334.2" y="519.7">32</text>
<text x="364.9" y="519.7">19</text>
<text x="395.6" y="519.7">24</text>
<text x="426.3" y="519.7">20</text>
<text x="457.0" y="519.7">9</text>
<text x="487.6" y="519.7">10</text>
<text x="518.3" y="519.7">8</text>
<text x="549.0" y="519.7">6</text>
<text x="579.7" y="519.7">17</text>
<text x="610.3" y="519.7">16</text>
<text x="150.2" y="545.8">14</text>
<text x="180.9" y="545.8">29</text>
<text x="211.5" y="545.8">34</text>
<text x="242.2" y="545.8">36</text>
<text x="272.9" y="545.8">23</text>
<text x="303.6" y="545.8">28</text>
<text x="334.2" y="545.8">42</text>
<text x="364.9" y="545.8">31</text>
<text x="395.6" y="545.8">26</text>
<text x="426.3" y="545.8">22</text>
<text x="457.0" y="545.8">7</text>
<text x="487.6" y="545.8">6</text>
<text x="518.3" y="545.8">7</text>
<text x="549.0" y="545.8">9</text>
<text x="579.7" y="545.8">9</text>
<text x="610.3" y="545.8">12</text>
<text x="180.9" y="571.8">16</text>
<text x="211.5" y="571.8">31</text>
<text x="242.2" y="571.8">31</text>
<text x="272.9" y="571.8">27</text>
<text x="303.6" y="571.8">22</text>
<text x="334.2" y="571.8">42</text>
<text x="364.9" y="571.8">41</text>
<text x="395.6" y="571.8">26</text>
<text x="426.3" y="571.8">10</text>
<text x="457.0" y="571.8">9</text>
<text x="487.6" y="571.8">9</text>
<text x="518.3" y="571.8">11</text>
<text x="549.0" y="571.8">10</text>
<text x="579.7" y="571.8">12</text>
<text x="610.3" y="571.8">14</text>
<text x="641.0" y="571.8">22</text>
<text x="211.5" y="597.8">39</text>
<text x="242.2" y="597.8">31</text>
<text x="272.9" y="597.8">28</text>
<text x="303.6" y="597.8">27</text>
<text x="334.2" y="597.8">22</text>
<text x="364.9" y="597.8">21</text>
<text x="395.6" y="597.8">18</text>
<text x="426.3" y="597.8">23</text>
<text x="457.0" y="597.8">13</text>
<text x="487.6" y="597.8">11</text>
<text x="518.3" y="597.8">11</text>
<text x="549.0" y="597.8">11</text>
<text x="211.5" y="623.8">28</text>
<text x="242.2" y="623.8">24</text>
<text x="272.9" y="623.8">28</text>
<text x="303.6" y="623.8">23</text>
<text x="334.2" y="623.8">18</text>
<text x="364.9" y="623.8">19</text>
<text x="395.6" y="623.8">11</text>
<text x="426.3" y="623.8">9</text>
<text x="457.0" y="623.8">7</text>
<text x="487.6" y="623.8">7</text>
<text x="518.3" y="623.8">12</text>
<text x="549.0" y="623.8">17</text>
<text x="579.7" y="623.8">27</text>
<text x="211.5" y="649.7">19</text>
<text x="242.2" y="649.7">21</text>
<text x="272.9" y="649.7">23</text>
<text x="303.6" y="649.7">21</text>
<text x="334.2" y="649.7">23</text>
<text x="364.9" y="649.7">13</text>
<text x="395.6" y="649.7">14</text>
<text x="426.3" y="649.7">14</text>
<text x="457.0" y="649.7">19</text>
<text x="487.6" y="649.7">10</text>
<text x="518.3" y="649.7">13</text>
<text x="242.2" y="675.6">21</text>
<text x="272.9" y="675.6">22</text>
<text x="303.6" y="675.6">13</text>
<text x="334.2" y="675.6">18</text>
<text x="364.9" y="675.6">11</text>
<text x="395.6" y="675.6">10</text>
<text x="426.3" y="675.6">14</text>
<text x="457.0" y="675.6">9</text>
<text x="487.6" y="675.6">15</text>
<text x="518.3" y="675.6">15</text>
<text x="242.2" y="701.5">26</text>
<text x="272.9" y="701.5">22</text>
<text x="303.6" y="701.5">7</text>
<text x="364.9" y="701.5">6</text>
<text x="395.6" y="701.5">12</text>
<text x="426.3" y="701.5">12</text>
<text x="457.0" y="701.5">23</text>
<text x="487.6" y="701.5">34</text>
<text x="242.2" y="727.3">32</text>
<text x="272.9" y="727.3">23</text>
<text x="364.9" y="727.3">12</text>
<text x="395.6" y="727.3">11</text>
<text x="426.3" y="727.3">21</text>
<text x="457.0" y="727.3">19</text>
<text x="364.9" y="753.1">17</text>
<text x="457.0" y="753.1">18</text>
</g>
<rect x="775.3" y="578.4" width="79.7" height="228.6" fill="#fff" stroke="#bdbdbd" stroke-width="1"/>
<rect x="792.6" y="611.60" width="16.7" height="23.10" fill="#ff0000" stroke="#000" stroke-width="1"/>
<rect x="792.6" y="634.70" width="16.7" height="23.10" fill="#800040" stroke="#000" stroke-width="1"/>
<rect x="792.6" y="657.80" width="16.7" height="23.10" fill="#fa00fa" stroke="#000" stroke-width="1"/>
<rect x="792.6" y="680.90" width="16.7" height="23.10" fill="#0000e1" stroke="#000" stroke-width="1"/>
<rect x="792.6" y="704.00" width="16.7" height="23.10" fill="#61b8ff" stroke="#000" stroke-width="1"/>
<rect x="792.6" y="727.10" width="16.7" height="23.10" fill="#3dba3d" stroke="#000" stroke-width="1"/>
<rect x="792.6" y="750.20" width="16.7" height="23.10" fill="#a6f28f" stroke="#000" stroke-width="1"/>
<rect x="792.6" y="773.30" width="16.7" height="23.10" fill="#ffffff" stroke="#000" stroke-width="1"/>
<text class="t" x="813.4" y="639.7">400</text>
<text class="t" x="813.4" y="662.8">250</text>
<text class="t" x="813.4" y="685.9">100</text>
<text class="t" x="813.4" y="709.0">50</text>
<text class="t" x="813.4" y="732.1">25</text>
<text class="t" x="813.4" y="755.2">10</text>
<text class="t" x="813.4" y="778.3">0.1</text>
<rect x="89" y="58" width="766" height="749" fill="none" stroke="#000" stroke-width="2"/>
<text class="t" text-anchor="middle" x="165.7" y="824.2">118.5°E</text>
<text class="t" text-anchor="middle" x="242.4" y="824.2">119°E</text>
<text class="t" text-anchor="middle" x="319.1" y="824.2">119.5°E</text>
<text class="t" text-anchor="middle" x="395.8" y="824.2">120°E</text>
<text class="t" text-anchor="middle" x="472.5" y="824.2">120.5°E</text>
<text class="t" text-anchor="middle" x="549.2" y="824.2">121°E</text>
<text class="t" text-anchor="middle" x="625.9" y="824.2">121.5°E</text>
<text class="t" text-anchor="middle" x="702.6" y="824.2">122°E</text>
<text class="t" text-anchor="middle" x="779.2" y="824.2">122.5°E</text>
<text class="t" text-anchor="end" x="83.7" y="115.5">31°N</text>
<text class="t" text-anchor="end" x="83.7" y="204.2">30.5°N</text>
<text class="t" text-anchor="end" x="83.7" y="292.5">30°N</text>
<text class="t" text-anchor="end" x="83.7" y="380.3">29.5°N</text>
<text class="t" text-anchor="end" x="83.7" y="467.7">29°N</text>
<text class="t" text-anchor="end" x="83.7" y="554.6">28.5°N</text>
<text class="t" text-anchor="end" x="83.7" y="641.2">28°N</text>
<text class="t" text-anchor="end" x="83.7" y="727.3">27.5°N</text>
<text x="240.22" y="44.90" font-size="21.5" fill="#262626">2026</text>
<text class="c" x="288.63" y="44.90" font-size="21.2" fill="#262626">年</text>
<text x="309.56" y="44.90" font-size="21.5" fill="#262626">04</text>
<text class="c" x="332.99" y="44.90" font-size="21.2" fill="#262626">月</text>
<text x="351.02" y="44.90" font-size="21.5" fill="#262626">22</text>
<text class="c" x="374.07" y="44.90" font-size="21.2" fill="#262626">日</text>
<text x="394.46" y="44.90" font-size="21.5" fill="#262626">08</text>
<text class="c" x="417.34" y="44.90" font-size="21.2" fill="#262626">时</text>
<text x="439.64" y="44.90" font-size="21.5" fill="#262626">-</text>
<text x="447.12" y="44.90" font-size="21.5" fill="#262626">23</text>
<text class="c" x="470.72" y="44.90" font-size="21.2" fill="#262626">日</text>
<text x="490.86" y="44.90" font-size="21.5" fill="#262626">08</text>
<text class="c" x="513.99" y="44.90" font-size="21.2" fill="#262626">时</text>
<text class="c" x="539.73" y="44.90" font-size="21.2" fill="#262626">累</text>
<text class="c" x="559.65" y="44.90" font-size="21.2" fill="#262626">计</text>
<text class="c" x="579.03" y="44.90" font-size="21.2" fill="#262626">降</text>
<text class="c" x="599.30" y="44.90" font-size="21.2" fill="#262626">水</text>
<text class="c" x="619.42" y="44.90" font-size="21.2" fill="#262626">预</text>
<text class="c" x="638.60" y="44.90" font-size="21.2" fill="#262626">报</text>
<text class="c" x="785.78" y="599.50" font-size="14.6" fill="#262626">单</text>
<text class="c" x="800.70" y="599.50" font-size="14.6" fill="#262626">位</text>
<text x="814.23" y="599.50" font-size="15" fill="#262626">:</text>
<text x="817.40" y="599.50" font-size="15" fill="#262626">mm</text>
<text class="c" x="654.21" y="845.60" font-size="14.6" fill="#333">浙</text>
<text class="c" x="668.19" y="845.60" font-size="14.6" fill="#333">江</text>
<text class="c" x="682.42" y="845.60" font-size="14.6" fill="#333">省</text>
<text class="c" x="696.57" y="845.60" font-size="14.6" fill="#333">气</text>
<text class="c" x="710.36" y="845.60" font-size="14.6" fill="#333">象</text>
<text class="c" x="724.01" y="845.60" font-size="14.6" fill="#333">台</text>
<text x="742.64" y="845.60" font-size="14.3" fill="#333">04</text>
<text class="c" x="758.54" y="845.60" font-size="14.6" fill="#333">月</text>
<text x="771.48" y="845.60" font-size="14.3" fill="#333">22</text>
<text class="c" x="786.79" y="845.60" font-size="14.6" fill="#333">日</text>
<text x="801.44" y="845.60" font-size="14.3" fill="#333">09</text>
<text x="817.89" y="845.60" font-size="14.3" fill="#333">:</text>
<text x="822.14" y="845.60" font-size="14.3" fill="#333">04</text>
<text class="c" x="843.99" y="845.60" font-size="14.6" fill="#333">发</text>
<text class="c" x="857.95" y="845.60" font-size="14.6" fill="#333">布</text>
</svg></body></html>
